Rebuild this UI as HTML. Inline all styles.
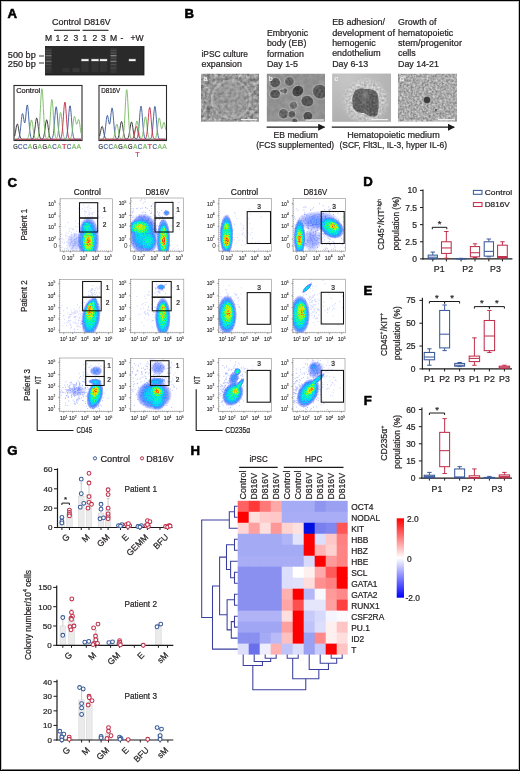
<!DOCTYPE html>
<html><head><meta charset="utf-8"><title>Figure</title>
<style>
html,body{margin:0;padding:0;background:#fff;}
body{width:520px;height:771px;overflow:hidden;position:relative;}
.frame{position:absolute;left:0;top:0;width:520px;height:771px;box-sizing:border-box;border:1px solid #000;pointer-events:none;box-shadow:inset 1px 1px 0 #c4c4c4, inset -1px 0 0 #c4c4c4, inset 0 -1px 0 #7a7a7a;}
svg{position:absolute;left:0;top:0;will-change:transform;}
svg text{font-family:"Liberation Sans", sans-serif;stroke:#231f20;stroke-width:0.22px;}
</style></head><body>
<svg width="520" height="771" viewBox="0 0 520 771">
<defs><filter id="nA" x="0" y="0" width="1" height="1" color-interpolation-filters="sRGB"><feTurbulence type="fractalNoise" baseFrequency="0.28" numOctaves="3" seed="4"/><feColorMatrix type="matrix" values="0.6 0 0 0 0.29  0.6 0 0 0 0.29  0.6 0 0 0 0.29  0 0 0 0 1"/><feComposite operator="in" in2="SourceAlpha"/></filter><filter id="nB" x="0" y="0" width="1" height="1" color-interpolation-filters="sRGB"><feTurbulence type="fractalNoise" baseFrequency="0.2" numOctaves="2" seed="8"/><feColorMatrix type="matrix" values="0.12 0 0 0 0.51  0.12 0 0 0 0.51  0.12 0 0 0 0.51  0 0 0 0 1"/><feComposite operator="in" in2="SourceAlpha"/></filter><filter id="nC" x="0" y="0" width="1" height="1" color-interpolation-filters="sRGB"><feTurbulence type="fractalNoise" baseFrequency="0.45" numOctaves="2" seed="11"/><feColorMatrix type="matrix" values="0.6 0 0 0 0.5  0.6 0 0 0 0.5  0.6 0 0 0 0.5  0 0 0 0 1"/><feComposite operator="in" in2="SourceAlpha"/></filter><filter id="nD" x="0" y="0" width="1" height="1" color-interpolation-filters="sRGB"><feTurbulence type="fractalNoise" baseFrequency="0.45" numOctaves="2" seed="17"/><feColorMatrix type="matrix" values="0.55 0 0 0 0.39  0.55 0 0 0 0.39  0.55 0 0 0 0.39  0 0 0 0 1"/><feComposite operator="in" in2="SourceAlpha"/></filter><filter id="nS" x="0" y="0" width="1" height="1" color-interpolation-filters="sRGB"><feTurbulence type="fractalNoise" baseFrequency="0.5" numOctaves="2" seed="23"/><feColorMatrix type="matrix" values="0.9 0 0 0 0.0  0.9 0 0 0 0.0  0.9 0 0 0 0.0  0 0 0 0 1"/><feComposite operator="in" in2="SourceAlpha"/></filter><filter id="blur1" x="-20%" y="-20%" width="140%" height="140%"><feGaussianBlur stdDeviation="0.7"/></filter><filter id="blur2" x="-30%" y="-30%" width="160%" height="160%"><feGaussianBlur stdDeviation="1.4"/></filter><filter id="blur05" x="-20%" y="-20%" width="140%" height="140%"><feGaussianBlur stdDeviation="0.45"/></filter><marker id="arr" viewBox="0 0 10 10" refX="9" refY="5" markerWidth="7" markerHeight="7" markerUnits="userSpaceOnUse" orient="auto"><path d="M0,0 L10,5 L0,10 z" fill="#1a1a1a"/></marker><clipPath id="clipB0"><rect x="201" y="73.5" width="58.2" height="48.3"/></clipPath><clipPath id="clipB1"><rect x="266.6" y="73.5" width="58.4" height="48.3"/></clipPath><clipPath id="clipB2"><rect x="332.2" y="73.5" width="58.8" height="48.3"/></clipPath><clipPath id="clipB3"><rect x="397.8" y="73.5" width="59.2" height="48.3"/></clipPath><filter id="jet" x="-5%" y="-5%" width="110%" height="110%" color-interpolation-filters="sRGB"><feTurbulence type="fractalNoise" baseFrequency="0.9" numOctaves="1" seed="5" result="nz"/><feColorMatrix in="nz" type="matrix" values="0 0 0 0 0  0 0 0 0 0  0 0 0 0 0  1 0 0 0 0" result="na"/><feComposite in="SourceAlpha" in2="na" operator="arithmetic" k1="1.2" k2="0.4" k3="0" k4="0" result="sp"/><feColorMatrix in="sp" type="matrix" values="0 0 0 1 0  0 0 0 1 0  0 0 0 1 0  0 0 0 1 0"/><feComponentTransfer><feFuncR type="table" tableValues="0.08 0.07 0.05 0 0 0.2 0.6 0.9 1 1 1"/><feFuncG type="table" tableValues="0.18 0.2 0.45 0.8 0.95 1 1 0.9 0.6 0.35 0.15"/><feFuncB type="table" tableValues="1 1 1 1 0.8 0.4 0.1 0 0 0 0"/><feFuncA type="table" tableValues="0 0.42 0.78 0.96 1 1 1 1 1 1 1"/></feComponentTransfer></filter><radialGradient id="gb"><stop offset="0" stop-color="#000" stop-opacity="1"/><stop offset="0.45" stop-color="#000" stop-opacity="0.8"/><stop offset="0.8" stop-color="#000" stop-opacity="0.35"/><stop offset="1" stop-color="#000" stop-opacity="0"/></radialGradient><linearGradient id="cbar" x1="0" y1="0" x2="0" y2="1"><stop offset="0" stop-color="#ff0000"/><stop offset="0.5" stop-color="#ffffff"/><stop offset="1" stop-color="#0000ff"/></linearGradient></defs>
<rect x="0" y="0" width="520" height="771" fill="#fff"/>
<text x="7.60" y="17.90" font-size="13.2" text-anchor="start" fill="#000" font-weight="bold" style="stroke:#000;stroke-width:0.55px">A</text>
<text x="184.60" y="17.60" font-size="13.2" text-anchor="start" fill="#000" font-weight="bold" style="stroke:#000;stroke-width:0.55px">B</text>
<text x="7.40" y="186.60" font-size="13.2" text-anchor="start" fill="#000" font-weight="bold" style="stroke:#000;stroke-width:0.55px">C</text>
<text x="363.20" y="186.00" font-size="13.2" text-anchor="start" fill="#000" font-weight="bold" style="stroke:#000;stroke-width:0.55px">D</text>
<text x="363.40" y="295.20" font-size="13.2" text-anchor="start" fill="#000" font-weight="bold" style="stroke:#000;stroke-width:0.55px">E</text>
<text x="363.80" y="404.90" font-size="13.2" text-anchor="start" fill="#000" font-weight="bold" style="stroke:#000;stroke-width:0.55px">F</text>
<text x="7.20" y="454.50" font-size="13.2" text-anchor="start" fill="#000" font-weight="bold" style="stroke:#000;stroke-width:0.55px">G</text>
<text x="190.60" y="454.70" font-size="13.2" text-anchor="start" fill="#000" font-weight="bold" style="stroke:#000;stroke-width:0.55px">H</text>
<text x="52.00" y="24.50" font-size="8.5" text-anchor="start" fill="#231f20" font-weight="normal" textLength="29" lengthAdjust="spacingAndGlyphs" >Control</text>
<text x="84.00" y="24.50" font-size="8.5" text-anchor="start" fill="#231f20" font-weight="normal" textLength="26.5" lengthAdjust="spacingAndGlyphs" >D816V</text>
<line x1="54.00" y1="30.30" x2="80.00" y2="30.30" stroke="#222" stroke-width="1.1" />
<line x1="82.50" y1="30.30" x2="108.50" y2="30.30" stroke="#222" stroke-width="1.1" />
<text x="48.50" y="40.60" font-size="8.6" text-anchor="middle" fill="#231f20" font-weight="normal" >M</text>
<text x="58.00" y="40.60" font-size="8.6" text-anchor="middle" fill="#231f20" font-weight="normal" >1</text>
<text x="66.00" y="40.60" font-size="8.6" text-anchor="middle" fill="#231f20" font-weight="normal" >2</text>
<text x="76.00" y="40.60" font-size="8.6" text-anchor="middle" fill="#231f20" font-weight="normal" >3</text>
<text x="85.00" y="40.60" font-size="8.6" text-anchor="middle" fill="#231f20" font-weight="normal" >1</text>
<text x="95.00" y="40.60" font-size="8.6" text-anchor="middle" fill="#231f20" font-weight="normal" >2</text>
<text x="103.50" y="40.60" font-size="8.6" text-anchor="middle" fill="#231f20" font-weight="normal" >3</text>
<text x="113.50" y="40.60" font-size="8.6" text-anchor="middle" fill="#231f20" font-weight="normal" >M</text>
<text x="122.00" y="40.60" font-size="8.6" text-anchor="middle" fill="#231f20" font-weight="normal" >-</text>
<text x="137.00" y="40.60" font-size="8.6" text-anchor="middle" fill="#231f20" font-weight="normal" >+W</text>
<rect x="45.50" y="46.50" width="98.50" height="28.50" fill="#2a2a2a" stroke="#151515" stroke-width="0.8" />
<rect x="45.30" y="48.00" width="6.40" height="25.00" fill="#363636" stroke="none" stroke-width="1" />
<g filter="url(#blur05)">
<rect x="45.50" y="49.90" width="6.00" height="1.20" fill="#e0e0e0" stroke="none" stroke-width="1" opacity="0.10"/>
<rect x="45.50" y="52.40" width="6.00" height="1.20" fill="#e0e0e0" stroke="none" stroke-width="1" opacity="0.14"/>
<rect x="45.50" y="55.10" width="6.00" height="1.20" fill="#e0e0e0" stroke="none" stroke-width="1" opacity="0.40"/>
<rect x="45.50" y="57.70" width="6.00" height="1.20" fill="#e0e0e0" stroke="none" stroke-width="1" opacity="0.12"/>
<rect x="45.50" y="60.70" width="6.00" height="1.20" fill="#e0e0e0" stroke="none" stroke-width="1" opacity="0.36"/>
<rect x="45.50" y="63.90" width="6.00" height="1.20" fill="#e0e0e0" stroke="none" stroke-width="1" opacity="0.12"/>
<rect x="45.50" y="67.40" width="6.00" height="1.20" fill="#e0e0e0" stroke="none" stroke-width="1" opacity="0.08"/>
</g>
<rect x="110.30" y="48.00" width="6.40" height="25.00" fill="#363636" stroke="none" stroke-width="1" />
<g filter="url(#blur05)">
<rect x="110.50" y="49.90" width="6.00" height="1.20" fill="#e0e0e0" stroke="none" stroke-width="1" opacity="0.12"/>
<rect x="110.50" y="52.40" width="6.00" height="1.20" fill="#e0e0e0" stroke="none" stroke-width="1" opacity="0.18"/>
<rect x="110.50" y="55.10" width="6.00" height="1.20" fill="#e0e0e0" stroke="none" stroke-width="1" opacity="0.50"/>
<rect x="110.50" y="57.70" width="6.00" height="1.20" fill="#e0e0e0" stroke="none" stroke-width="1" opacity="0.15"/>
<rect x="110.50" y="60.70" width="6.00" height="1.20" fill="#e0e0e0" stroke="none" stroke-width="1" opacity="0.45"/>
<rect x="110.50" y="63.90" width="6.00" height="1.20" fill="#e0e0e0" stroke="none" stroke-width="1" opacity="0.15"/>
<rect x="110.50" y="67.40" width="6.00" height="1.20" fill="#e0e0e0" stroke="none" stroke-width="1" opacity="0.10"/>
</g>
<rect x="62.50" y="68.00" width="7.00" height="4.00" fill="#555" stroke="none" stroke-width="1" opacity="0.25"/>
<rect x="72.50" y="68.00" width="7.00" height="4.00" fill="#555" stroke="none" stroke-width="1" opacity="0.35"/>
<rect x="81.50" y="62.00" width="7.00" height="10.00" fill="#3a3a3a" stroke="none" stroke-width="1" opacity="0.6"/>
<rect x="81.50" y="59.20" width="7.00" height="1.80" fill="#f4f4f4" stroke="none" stroke-width="1" />
<rect x="81.00" y="58.60" width="8.00" height="3.00" fill="#ffffff" stroke="none" stroke-width="1" opacity="0.25"/>
<rect x="91.50" y="62.00" width="7.00" height="10.00" fill="#3a3a3a" stroke="none" stroke-width="1" opacity="0.6"/>
<rect x="91.50" y="59.20" width="7.00" height="1.80" fill="#f4f4f4" stroke="none" stroke-width="1" />
<rect x="91.00" y="58.60" width="8.00" height="3.00" fill="#ffffff" stroke="none" stroke-width="1" opacity="0.25"/>
<rect x="100.00" y="62.00" width="7.00" height="10.00" fill="#3a3a3a" stroke="none" stroke-width="1" opacity="0.6"/>
<rect x="100.00" y="59.20" width="7.00" height="1.80" fill="#f4f4f4" stroke="none" stroke-width="1" />
<rect x="99.50" y="58.60" width="8.00" height="3.00" fill="#ffffff" stroke="none" stroke-width="1" opacity="0.25"/>
<rect x="129.00" y="59.20" width="6.50" height="1.80" fill="#f4f4f4" stroke="none" stroke-width="1" />
<rect x="128.50" y="58.60" width="7.50" height="3.00" fill="#ffffff" stroke="none" stroke-width="1" opacity="0.25"/>
<text x="7.80" y="57.80" font-size="8.2" text-anchor="start" fill="#231f20" font-weight="normal" textLength="28" lengthAdjust="spacingAndGlyphs" >500 bp</text>
<text x="7.80" y="66.50" font-size="8.2" text-anchor="start" fill="#231f20" font-weight="normal" textLength="28" lengthAdjust="spacingAndGlyphs" >250 bp</text>
<line x1="39.00" y1="56.00" x2="44.00" y2="56.00" stroke="#222" stroke-width="0.9" />
<line x1="39.00" y1="63.00" x2="44.00" y2="63.00" stroke="#222" stroke-width="0.9" />
<rect x="14.00" y="85.50" width="68.00" height="55.00" fill="#fff" stroke="#2a2a2a" stroke-width="1.1" />
<path d="M14.6,136.27 L15.0,134.58 L15.4,132.44 L15.8,130.02 L16.2,127.61 L16.6,125.58 L17.0,124.30 L17.4,124.03 L17.8,124.83 L18.2,126.52 L18.6,128.79 L19.0,131.25 L19.4,133.56 L19.8,135.48 L20.2,136.94 L20.6,137.94 L21.0,138.57 L21.4,138.93 L21.8,139.13 L22.2,139.23 L22.6,139.27 L23.0,139.29 L23.4,139.30 L23.8,139.30 L24.2,139.30 L24.6,139.30 L25.0,139.30 L25.4,139.30 L25.8,139.30 L26.2,139.30 L26.6,139.30 L27.0,139.30 L27.4,139.30 L27.8,139.30 L28.2,139.30 L28.6,139.30 L29.0,139.30 L29.4,139.30 L29.8,139.30 L30.2,139.30 L30.6,139.29 L31.0,139.28 L31.4,139.26 L31.8,139.20 L32.2,139.06 L32.6,138.79 L33.0,138.28 L33.4,137.41 L33.8,136.01 L34.2,133.99 L34.6,131.31 L35.0,128.09 L35.4,124.67 L35.8,121.51 L36.2,119.15 L36.6,118.05 L37.0,118.42 L37.4,120.20 L37.8,123.02 L38.2,126.38 L38.6,129.75 L39.0,132.73 L39.4,135.08 L39.8,136.78 L40.2,137.90 L40.6,138.57 L41.0,138.94 L41.4,139.10 L41.8,139.14 L42.2,139.06 L42.6,138.83 L43.0,138.37 L43.4,137.57 L43.8,136.29 L44.2,134.44 L44.6,131.98 L45.0,129.04 L45.4,125.91 L45.8,123.01 L46.2,120.85 L46.6,119.84 L47.0,120.19 L47.4,121.81 L47.8,124.40 L48.2,127.47 L48.6,130.56 L49.0,133.28 L49.4,135.44 L49.8,137.00 L50.2,138.02 L50.6,138.64 L51.0,138.98 L51.4,139.16 L51.8,139.24 L52.2,139.28 L52.6,139.29 L53.0,139.30 L53.4,139.30 L53.8,139.30 L54.2,139.30 L54.6,139.30 L55.0,139.30 L55.4,139.30 L55.8,139.30 L56.2,139.30 L56.6,139.30 L57.0,139.30 L57.4,139.30 L57.8,139.30 L58.2,139.30 L58.6,139.30 L59.0,139.30 L59.4,139.30 L59.8,139.30 L60.2,139.30 L60.6,139.30 L61.0,139.30 L61.4,139.30 L61.8,139.30 L62.2,139.30 L62.6,139.30 L63.0,139.30 L63.4,139.30 L63.8,139.30 L64.2,139.30 L64.6,139.30 L65.0,139.30 L65.4,139.30 L65.8,139.30 L66.2,139.30 L66.6,139.30 L67.0,139.30 L67.4,139.30 L67.8,139.30 L68.2,139.30 L68.6,139.30 L69.0,139.30 L69.4,139.30 L69.8,139.30 L70.2,139.30 L70.6,139.30 L71.0,139.30 L71.4,139.30 L71.8,139.30 L72.2,139.30 L72.6,139.30 L73.0,139.30 L73.4,139.30 L73.8,139.30 L74.2,139.30 L74.6,139.30 L75.0,139.30 L75.4,139.30 L75.8,139.30 L76.2,139.30 L76.6,139.30 L77.0,139.30 L77.4,139.30 L77.8,139.30 L78.2,139.30 L78.6,139.30 L79.0,139.30 L79.4,139.30 L79.8,139.30 L80.2,139.30 L80.6,139.30 L81.0,139.30" stroke="#333333" stroke-width="0.95" fill="none" stroke-linejoin="round"/>
<path d="M14.6,139.30 L15.0,139.30 L15.4,139.30 L15.8,139.30 L16.2,139.30 L16.6,139.29 L17.0,139.27 L17.4,139.22 L17.8,139.11 L18.2,138.88 L18.6,138.43 L19.0,137.62 L19.4,136.27 L19.8,134.23 L20.2,131.40 L20.6,127.82 L21.0,123.77 L21.4,119.72 L21.8,116.30 L22.2,114.10 L22.6,113.50 L23.0,114.52 L23.4,116.75 L23.8,119.46 L24.2,121.78 L24.6,122.90 L25.0,122.33 L25.4,119.97 L25.8,116.22 L26.2,111.87 L26.6,107.93 L27.0,105.39 L27.4,104.95 L27.8,106.80 L28.2,110.63 L28.6,115.73 L29.0,121.25 L29.4,126.43 L29.8,130.75 L30.2,134.01 L30.6,136.25 L31.0,137.66 L31.4,138.48 L31.8,138.92 L32.2,139.13 L32.6,139.23 L33.0,139.27 L33.4,139.29 L33.8,139.30 L34.2,139.30 L34.6,139.30 L35.0,139.30 L35.4,139.30 L35.8,139.30 L36.2,139.30 L36.6,139.30 L37.0,139.30 L37.4,139.30 L37.8,139.30 L38.2,139.30 L38.6,139.30 L39.0,139.30 L39.4,139.30 L39.8,139.30 L40.2,139.30 L40.6,139.30 L41.0,139.30 L41.4,139.30 L41.8,139.30 L42.2,139.30 L42.6,139.30 L43.0,139.30 L43.4,139.30 L43.8,139.30 L44.2,139.30 L44.6,139.30 L45.0,139.30 L45.4,139.30 L45.8,139.30 L46.2,139.30 L46.6,139.30 L47.0,139.30 L47.4,139.30 L47.8,139.30 L48.2,139.30 L48.6,139.30 L49.0,139.30 L49.4,139.30 L49.8,139.30 L50.2,139.29 L50.6,139.27 L51.0,139.22 L51.4,139.11 L51.8,138.86 L52.2,138.37 L52.6,137.48 L53.0,135.96 L53.4,133.61 L53.8,130.26 L54.2,125.94 L54.6,120.90 L55.0,115.70 L55.4,111.11 L55.8,107.94 L56.2,106.80 L56.6,107.94 L57.0,111.11 L57.4,115.70 L57.8,120.90 L58.2,125.94 L58.6,130.26 L59.0,133.61 L59.4,135.96 L59.8,137.48 L60.2,138.37 L60.6,138.86 L61.0,139.11 L61.4,139.22 L61.8,139.27 L62.2,139.29 L62.6,139.30 L63.0,139.30 L63.4,139.30 L63.8,139.29 L64.2,139.28 L64.6,139.25 L65.0,139.17 L65.4,138.99 L65.8,138.63 L66.2,137.94 L66.6,136.72 L67.0,134.74 L67.4,131.80 L67.8,127.80 L68.2,122.90 L68.6,117.50 L69.0,112.32 L69.4,108.19 L69.8,105.90 L70.2,105.90 L70.6,108.19 L71.0,112.32 L71.4,117.50 L71.8,122.90 L72.2,127.80 L72.6,131.80 L73.0,134.74 L73.4,136.72 L73.8,137.94 L74.2,138.63 L74.6,138.99 L75.0,139.17 L75.4,139.25 L75.8,139.28 L76.2,139.29 L76.6,139.30 L77.0,139.30 L77.4,139.30 L77.8,139.30 L78.2,139.30 L78.6,139.30 L79.0,139.30 L79.4,139.30 L79.8,139.30 L80.2,139.30 L80.6,139.30 L81.0,139.30" stroke="#40609f" stroke-width="0.95" fill="none" stroke-linejoin="round"/>
<path d="M14.6,139.30 L15.0,139.30 L15.4,139.30 L15.8,139.30 L16.2,139.30 L16.6,139.30 L17.0,139.30 L17.4,139.30 L17.8,139.30 L18.2,139.30 L18.6,139.30 L19.0,139.30 L19.4,139.30 L19.8,139.30 L20.2,139.30 L20.6,139.30 L21.0,139.30 L21.4,139.30 L21.8,139.30 L22.2,139.30 L22.6,139.30 L23.0,139.30 L23.4,139.30 L23.8,139.30 L24.2,139.30 L24.6,139.30 L25.0,139.30 L25.4,139.30 L25.8,139.29 L26.2,139.26 L26.6,139.21 L27.0,139.09 L27.4,138.84 L27.8,138.38 L28.2,137.58 L28.6,136.32 L29.0,134.49 L29.4,132.06 L29.8,129.15 L30.2,126.04 L30.6,123.18 L31.0,121.04 L31.4,120.04 L31.8,120.38 L32.2,121.99 L32.6,124.55 L33.0,127.59 L33.4,130.65 L33.8,133.34 L34.2,135.48 L34.6,137.02 L35.0,138.03 L35.4,138.64 L35.8,138.97 L36.2,139.12 L36.6,139.14 L37.0,139.03 L37.4,138.73 L37.8,138.09 L38.2,136.88 L38.6,134.79 L39.0,131.48 L39.4,126.66 L39.8,120.27 L40.2,112.63 L40.6,104.47 L41.0,96.95 L41.4,91.34 L41.8,88.71 L42.2,89.60 L42.6,93.83 L43.0,100.55 L43.4,108.55 L43.8,116.57 L44.2,123.65 L44.6,129.27 L45.0,133.31 L45.4,135.96 L45.8,137.56 L46.2,138.44 L46.6,138.85 L47.0,138.95 L47.4,138.80 L47.8,138.33 L48.2,137.39 L48.6,135.75 L49.0,133.14 L49.4,129.35 L49.8,124.33 L50.2,118.31 L50.6,111.89 L51.0,105.97 L51.4,101.56 L51.8,99.49 L52.2,100.19 L52.6,103.52 L53.0,108.81 L53.4,115.10 L53.8,121.41 L54.2,126.98 L54.6,131.39 L55.0,134.56 L55.4,136.61 L55.8,137.78 L56.2,138.28 L56.6,138.24 L57.0,137.67 L57.4,136.50 L57.8,134.59 L58.2,131.84 L58.6,128.28 L59.0,124.13 L59.4,119.84 L59.8,116.05 L60.2,113.44 L60.6,112.50 L61.0,113.44 L61.4,116.05 L61.8,119.84 L62.2,124.13 L62.6,128.28 L63.0,131.85 L63.4,134.61 L63.8,136.55 L64.2,137.80 L64.6,138.53 L65.0,138.94 L65.4,139.14 L65.8,139.23 L66.2,139.27 L66.6,139.29 L67.0,139.30 L67.4,139.30 L67.8,139.30 L68.2,139.30 L68.6,139.29 L69.0,139.27 L69.4,139.21 L69.8,139.09 L70.2,138.85 L70.6,138.39 L71.0,137.57 L71.4,136.24 L71.8,134.27 L72.2,131.59 L72.6,128.29 L73.0,124.67 L73.4,121.17 L73.8,118.34 L74.2,116.68 L74.6,116.43 L75.0,117.51 L75.4,119.47 L75.8,121.67 L76.2,123.44 L76.6,124.27 L77.0,124.01 L77.4,122.85 L77.8,121.28 L78.2,119.94 L78.6,119.39 L79.0,119.98 L79.4,121.72 L79.8,124.36 L80.2,127.46 L80.6,130.55 L81.0,133.28" stroke="#7cbd68" stroke-width="0.95" fill="none" stroke-linejoin="round"/>
<path d="M14.6,139.30 L15.0,139.30 L15.4,139.30 L15.8,139.30 L16.2,139.30 L16.6,139.30 L17.0,139.30 L17.4,139.30 L17.8,139.30 L18.2,139.30 L18.6,139.30 L19.0,139.30 L19.4,139.30 L19.8,139.30 L20.2,139.30 L20.6,139.30 L21.0,139.30 L21.4,139.30 L21.8,139.30 L22.2,139.30 L22.6,139.30 L23.0,139.30 L23.4,139.30 L23.8,139.30 L24.2,139.30 L24.6,139.30 L25.0,139.30 L25.4,139.30 L25.8,139.30 L26.2,139.30 L26.6,139.30 L27.0,139.30 L27.4,139.30 L27.8,139.30 L28.2,139.30 L28.6,139.30 L29.0,139.30 L29.4,139.30 L29.8,139.30 L30.2,139.30 L30.6,139.30 L31.0,139.30 L31.4,139.30 L31.8,139.30 L32.2,139.30 L32.6,139.30 L33.0,139.30 L33.4,139.30 L33.8,139.30 L34.2,139.30 L34.6,139.30 L35.0,139.30 L35.4,139.30 L35.8,139.30 L36.2,139.30 L36.6,139.30 L37.0,139.30 L37.4,139.30 L37.8,139.30 L38.2,139.30 L38.6,139.30 L39.0,139.30 L39.4,139.30 L39.8,139.30 L40.2,139.30 L40.6,139.30 L41.0,139.30 L41.4,139.30 L41.8,139.30 L42.2,139.30 L42.6,139.30 L43.0,139.30 L43.4,139.30 L43.8,139.30 L44.2,139.30 L44.6,139.30 L45.0,139.30 L45.4,139.30 L45.8,139.30 L46.2,139.30 L46.6,139.30 L47.0,139.30 L47.4,139.30 L47.8,139.30 L48.2,139.30 L48.6,139.30 L49.0,139.30 L49.4,139.30 L49.8,139.30 L50.2,139.30 L50.6,139.30 L51.0,139.30 L51.4,139.30 L51.8,139.30 L52.2,139.30 L52.6,139.30 L53.0,139.30 L53.4,139.30 L53.8,139.30 L54.2,139.30 L54.6,139.30 L55.0,139.30 L55.4,139.30 L55.8,139.30 L56.2,139.30 L56.6,139.30 L57.0,139.30 L57.4,139.30 L57.8,139.30 L58.2,139.30 L58.6,139.29 L59.0,139.28 L59.4,139.26 L59.8,139.18 L60.2,139.02 L60.6,138.69 L61.0,138.03 L61.4,136.85 L61.8,134.89 L62.2,131.92 L62.6,127.79 L63.0,122.58 L63.4,116.68 L63.8,110.79 L64.2,105.85 L64.6,102.74 L65.0,102.08 L65.4,104.02 L65.8,108.14 L66.2,113.68 L66.6,119.68 L67.0,125.30 L67.4,130.00 L67.8,133.54 L68.2,135.98 L68.6,137.52 L69.0,138.41 L69.4,138.89 L69.8,139.12 L70.2,139.23 L70.6,139.27 L71.0,139.29 L71.4,139.30 L71.8,139.30 L72.2,139.30 L72.6,139.30 L73.0,139.30 L73.4,139.30 L73.8,139.30 L74.2,139.30 L74.6,139.30 L75.0,139.30 L75.4,139.30 L75.8,139.30 L76.2,139.30 L76.6,139.30 L77.0,139.30 L77.4,139.30 L77.8,139.30 L78.2,139.30 L78.6,139.30 L79.0,139.30 L79.4,139.30 L79.8,139.30 L80.2,139.30 L80.6,139.30 L81.0,139.30" stroke="#c8334e" stroke-width="0.95" fill="none" stroke-linejoin="round"/>
<line x1="14.60" y1="139.60" x2="81.40" y2="139.60" stroke="#c8334e" stroke-width="0.5" opacity="0.6"/>
<text x="16.20" y="93.10" font-size="7" text-anchor="start" fill="#231f20" font-weight="normal" textLength="24" lengthAdjust="spacingAndGlyphs" >Control</text>
<text x="15.44" y="148.50" font-size="7.8" text-anchor="middle" fill="#333333" font-weight="normal" textLength="4.5" lengthAdjust="spacingAndGlyphs" style="stroke:#333333" >G</text>
<text x="20.32" y="148.50" font-size="7.8" text-anchor="middle" fill="#40609f" font-weight="normal" textLength="4.5" lengthAdjust="spacingAndGlyphs" style="stroke:#40609f" >C</text>
<text x="25.20" y="148.50" font-size="7.8" text-anchor="middle" fill="#40609f" font-weight="normal" textLength="4.5" lengthAdjust="spacingAndGlyphs" style="stroke:#40609f" >C</text>
<text x="30.07" y="148.50" font-size="7.8" text-anchor="middle" fill="#7cbd68" font-weight="normal" textLength="4.5" lengthAdjust="spacingAndGlyphs" style="stroke:#7cbd68" >A</text>
<text x="34.95" y="148.50" font-size="7.8" text-anchor="middle" fill="#333333" font-weight="normal" textLength="4.5" lengthAdjust="spacingAndGlyphs" style="stroke:#333333" >G</text>
<text x="39.83" y="148.50" font-size="7.8" text-anchor="middle" fill="#7cbd68" font-weight="normal" textLength="4.5" lengthAdjust="spacingAndGlyphs" style="stroke:#7cbd68" >A</text>
<text x="44.71" y="148.50" font-size="7.8" text-anchor="middle" fill="#333333" font-weight="normal" textLength="4.5" lengthAdjust="spacingAndGlyphs" style="stroke:#333333" >G</text>
<text x="49.59" y="148.50" font-size="7.8" text-anchor="middle" fill="#7cbd68" font-weight="normal" textLength="4.5" lengthAdjust="spacingAndGlyphs" style="stroke:#7cbd68" >A</text>
<text x="54.47" y="148.50" font-size="7.8" text-anchor="middle" fill="#40609f" font-weight="normal" textLength="4.5" lengthAdjust="spacingAndGlyphs" style="stroke:#40609f" >C</text>
<text x="59.35" y="148.50" font-size="7.8" text-anchor="middle" fill="#7cbd68" font-weight="normal" textLength="4.5" lengthAdjust="spacingAndGlyphs" style="stroke:#7cbd68" >A</text>
<text x="64.22" y="148.50" font-size="7.8" text-anchor="middle" fill="#c8334e" font-weight="normal" textLength="4.5" lengthAdjust="spacingAndGlyphs" style="stroke:#c8334e" >T</text>
<text x="69.10" y="148.50" font-size="7.8" text-anchor="middle" fill="#40609f" font-weight="normal" textLength="4.5" lengthAdjust="spacingAndGlyphs" style="stroke:#40609f" >C</text>
<text x="73.98" y="148.50" font-size="7.8" text-anchor="middle" fill="#7cbd68" font-weight="normal" textLength="4.5" lengthAdjust="spacingAndGlyphs" style="stroke:#7cbd68" >A</text>
<text x="78.86" y="148.50" font-size="7.8" text-anchor="middle" fill="#7cbd68" font-weight="normal" textLength="4.5" lengthAdjust="spacingAndGlyphs" style="stroke:#7cbd68" >A</text>
<rect x="99.00" y="85.50" width="67.50" height="55.00" fill="#fff" stroke="#2a2a2a" stroke-width="1.1" />
<path d="M99.6,136.08 L100.0,134.46 L100.4,132.51 L100.8,130.44 L101.2,128.53 L101.6,127.10 L102.0,126.43 L102.4,126.66 L102.8,127.73 L103.2,129.44 L103.6,131.48 L104.0,133.52 L104.4,135.32 L104.8,136.75 L105.2,137.78 L105.6,138.45 L106.0,138.86 L106.4,139.09 L106.8,139.20 L107.2,139.26 L107.6,139.28 L108.0,139.29 L108.4,139.30 L108.8,139.30 L109.2,139.30 L109.6,139.30 L110.0,139.30 L110.4,139.30 L110.8,139.30 L111.2,139.30 L111.6,139.30 L112.0,139.30 L112.4,139.30 L112.8,139.30 L113.2,139.30 L113.6,139.30 L114.0,139.30 L114.4,139.30 L114.8,139.30 L115.2,139.30 L115.6,139.29 L116.0,139.28 L116.4,139.25 L116.8,139.17 L117.2,139.01 L117.6,138.69 L118.0,138.13 L118.4,137.20 L118.8,135.78 L119.2,133.81 L119.6,131.32 L120.0,128.50 L120.4,125.70 L120.8,123.34 L121.2,121.85 L121.6,121.54 L122.0,122.46 L122.4,124.43 L122.8,127.07 L123.2,129.94 L123.6,132.62 L124.0,134.86 L124.4,136.55 L124.8,137.72 L125.2,138.45 L125.6,138.87 L126.0,139.08 L126.4,139.16 L126.8,139.14 L127.2,139.00 L127.6,138.70 L128.0,138.15 L128.4,137.24 L128.8,135.86 L129.2,133.93 L129.6,131.50 L130.0,128.75 L130.4,126.00 L130.8,123.70 L131.2,122.24 L131.6,121.94 L132.0,122.84 L132.4,124.77 L132.8,127.35 L133.2,130.15 L133.6,132.77 L134.0,134.96 L134.4,136.62 L134.8,137.75 L135.2,138.47 L135.6,138.88 L136.0,139.11 L136.4,139.22 L136.8,139.27 L137.2,139.29 L137.6,139.30 L138.0,139.30 L138.4,139.30 L138.8,139.30 L139.2,139.30 L139.6,139.30 L140.0,139.30 L140.4,139.30 L140.8,139.30 L141.2,139.30 L141.6,139.30 L142.0,139.30 L142.4,139.30 L142.8,139.30 L143.2,139.30 L143.6,139.30 L144.0,139.30 L144.4,139.30 L144.8,139.30 L145.2,139.30 L145.6,139.30 L146.0,139.30 L146.4,139.30 L146.8,139.30 L147.2,139.30 L147.6,139.30 L148.0,139.30 L148.4,139.30 L148.8,139.30 L149.2,139.30 L149.6,139.30 L150.0,139.30 L150.4,139.30 L150.8,139.30 L151.2,139.30 L151.6,139.30 L152.0,139.30 L152.4,139.30 L152.8,139.30 L153.2,139.30 L153.6,139.30 L154.0,139.30 L154.4,139.30 L154.8,139.30 L155.2,139.30 L155.6,139.30 L156.0,139.30 L156.4,139.30 L156.8,139.30 L157.2,139.30 L157.6,139.30 L158.0,139.30 L158.4,139.30 L158.8,139.30 L159.2,139.30 L159.6,139.30 L160.0,139.30 L160.4,139.30 L160.8,139.30 L161.2,139.30 L161.6,139.30 L162.0,139.30 L162.4,139.30 L162.8,139.30 L163.2,139.30 L163.6,139.30 L164.0,139.30 L164.4,139.30 L164.8,139.30 L165.2,139.30 L165.6,139.30" stroke="#333333" stroke-width="0.95" fill="none" stroke-linejoin="round"/>
<path d="M99.6,139.30 L100.0,139.30 L100.4,139.30 L100.8,139.30 L101.2,139.29 L101.6,139.28 L102.0,139.25 L102.4,139.19 L102.8,139.04 L103.2,138.73 L103.6,138.16 L104.0,137.18 L104.4,135.63 L104.8,133.37 L105.2,130.37 L105.6,126.78 L106.0,122.94 L106.4,119.40 L106.8,116.73 L107.2,115.40 L107.6,115.62 L108.0,117.21 L108.4,119.62 L108.8,122.08 L109.2,123.80 L109.6,124.15 L110.0,122.84 L110.4,120.02 L110.8,116.24 L111.2,112.35 L111.6,109.30 L112.0,107.89 L112.4,108.55 L112.8,111.20 L113.2,115.37 L113.6,120.31 L114.0,125.27 L114.4,129.64 L114.8,133.11 L115.2,135.60 L115.6,137.24 L116.0,138.23 L116.4,138.79 L116.8,139.07 L117.2,139.20 L117.6,139.26 L118.0,139.29 L118.4,139.30 L118.8,139.30 L119.2,139.30 L119.6,139.30 L120.0,139.30 L120.4,139.30 L120.8,139.30 L121.2,139.30 L121.6,139.30 L122.0,139.30 L122.4,139.30 L122.8,139.30 L123.2,139.30 L123.6,139.30 L124.0,139.30 L124.4,139.30 L124.8,139.30 L125.2,139.30 L125.6,139.30 L126.0,139.30 L126.4,139.30 L126.8,139.30 L127.2,139.30 L127.6,139.30 L128.0,139.30 L128.4,139.30 L128.8,139.30 L129.2,139.30 L129.6,139.30 L130.0,139.30 L130.4,139.30 L130.8,139.30 L131.2,139.30 L131.6,139.30 L132.0,139.30 L132.4,139.30 L132.8,139.30 L133.2,139.30 L133.6,139.30 L134.0,139.30 L134.4,139.30 L134.8,139.29 L135.2,139.28 L135.6,139.25 L136.0,139.17 L136.4,139.00 L136.8,138.64 L137.2,137.95 L137.6,136.75 L138.0,134.79 L138.4,131.89 L138.8,127.94 L139.2,123.09 L139.6,117.76 L140.0,112.64 L140.4,108.56 L140.8,106.29 L141.2,106.29 L141.6,108.56 L142.0,112.64 L142.4,117.76 L142.8,123.09 L143.2,127.94 L143.6,131.89 L144.0,134.79 L144.4,136.75 L144.8,137.95 L145.2,138.64 L145.6,139.00 L146.0,139.17 L146.4,139.25 L146.8,139.28 L147.2,139.29 L147.6,139.30 L148.0,139.30 L148.4,139.30 L148.8,139.29 L149.2,139.28 L149.6,139.24 L150.0,139.14 L150.4,138.93 L150.8,138.51 L151.2,137.72 L151.6,136.37 L152.0,134.21 L152.4,131.07 L152.8,126.91 L153.2,121.94 L153.6,116.63 L154.0,111.74 L154.4,108.08 L154.8,106.37 L155.2,106.95 L155.6,109.70 L156.0,114.08 L156.4,119.28 L156.8,124.51 L157.2,129.11 L157.6,132.77 L158.0,135.40 L158.4,137.13 L158.8,138.18 L159.2,138.76 L159.6,139.06 L160.0,139.20 L160.4,139.26 L160.8,139.29 L161.2,139.30 L161.6,139.30 L162.0,139.30 L162.4,139.30 L162.8,139.30 L163.2,139.30 L163.6,139.30 L164.0,139.30 L164.4,139.30 L164.8,139.30 L165.2,139.30 L165.6,139.30" stroke="#40609f" stroke-width="0.95" fill="none" stroke-linejoin="round"/>
<path d="M99.6,139.30 L100.0,139.30 L100.4,139.30 L100.8,139.30 L101.2,139.30 L101.6,139.30 L102.0,139.30 L102.4,139.30 L102.8,139.30 L103.2,139.30 L103.6,139.30 L104.0,139.30 L104.4,139.30 L104.8,139.30 L105.2,139.30 L105.6,139.30 L106.0,139.30 L106.4,139.30 L106.8,139.30 L107.2,139.30 L107.6,139.30 L108.0,139.30 L108.4,139.30 L108.8,139.30 L109.2,139.30 L109.6,139.30 L110.0,139.30 L110.4,139.30 L110.8,139.29 L111.2,139.29 L111.6,139.26 L112.0,139.21 L112.4,139.09 L112.8,138.86 L113.2,138.44 L113.6,137.73 L114.0,136.62 L114.4,135.05 L114.8,133.01 L115.2,130.64 L115.6,128.19 L116.0,126.03 L116.4,124.53 L116.8,124.00 L117.2,124.53 L117.6,126.03 L118.0,128.19 L118.4,130.64 L118.8,133.01 L119.2,135.05 L119.6,136.62 L120.0,137.73 L120.4,138.43 L120.8,138.84 L121.2,139.03 L121.6,139.05 L122.0,138.89 L122.4,138.47 L122.8,137.60 L123.2,136.03 L123.6,133.41 L124.0,129.44 L124.4,123.93 L124.8,116.97 L125.2,109.09 L125.6,101.24 L126.0,94.64 L126.4,90.49 L126.8,89.61 L127.2,92.19 L127.6,97.70 L128.0,105.09 L128.4,113.10 L128.8,120.61 L129.2,126.88 L129.6,131.62 L130.0,134.87 L130.4,136.92 L130.8,138.11 L131.2,138.73 L131.6,139.02 L132.0,139.11 L132.4,139.06 L132.8,138.85 L133.2,138.42 L133.6,137.67 L134.0,136.48 L134.4,134.74 L134.8,132.43 L135.2,129.67 L135.6,126.73 L136.0,124.01 L136.4,121.99 L136.8,121.04 L137.2,121.36 L137.6,122.89 L138.0,125.31 L138.4,128.20 L138.8,131.09 L139.2,133.65 L139.6,135.67 L140.0,137.10 L140.4,138.01 L140.8,138.47 L141.2,138.55 L141.6,138.25 L142.0,137.51 L142.4,136.22 L142.8,134.26 L143.2,131.59 L143.6,128.30 L144.0,124.68 L144.4,121.20 L144.8,118.44 L145.2,116.90 L145.6,116.90 L146.0,118.44 L146.4,121.20 L146.8,124.68 L147.2,128.30 L147.6,131.59 L148.0,134.27 L148.4,136.24 L148.8,137.57 L149.2,138.39 L149.6,138.85 L150.0,139.09 L150.4,139.21 L150.8,139.27 L151.2,139.29 L151.6,139.30 L152.0,139.30 L152.4,139.30 L152.8,139.30 L153.2,139.29 L153.6,139.28 L154.0,139.25 L154.4,139.17 L154.8,139.01 L155.2,138.69 L155.6,138.10 L156.0,137.11 L156.4,135.57 L156.8,133.38 L157.2,130.54 L157.6,127.24 L158.0,123.83 L158.4,120.81 L158.8,118.70 L159.2,117.90 L159.6,118.52 L160.0,120.34 L160.4,122.88 L160.8,125.50 L161.2,127.58 L161.6,128.68 L162.0,128.62 L162.4,127.54 L162.8,125.83 L163.2,124.03 L163.6,122.70 L164.0,122.27 L164.4,122.94 L164.8,124.62 L165.2,127.02 L165.6,129.73" stroke="#7cbd68" stroke-width="0.95" fill="none" stroke-linejoin="round"/>
<path d="M99.6,139.30 L100.0,139.30 L100.4,139.30 L100.8,139.30 L101.2,139.30 L101.6,139.30 L102.0,139.30 L102.4,139.30 L102.8,139.30 L103.2,139.30 L103.6,139.30 L104.0,139.30 L104.4,139.30 L104.8,139.30 L105.2,139.30 L105.6,139.30 L106.0,139.30 L106.4,139.30 L106.8,139.30 L107.2,139.30 L107.6,139.30 L108.0,139.30 L108.4,139.30 L108.8,139.30 L109.2,139.30 L109.6,139.30 L110.0,139.30 L110.4,139.30 L110.8,139.30 L111.2,139.30 L111.6,139.30 L112.0,139.30 L112.4,139.30 L112.8,139.30 L113.2,139.30 L113.6,139.30 L114.0,139.30 L114.4,139.30 L114.8,139.30 L115.2,139.30 L115.6,139.30 L116.0,139.30 L116.4,139.30 L116.8,139.30 L117.2,139.30 L117.6,139.30 L118.0,139.30 L118.4,139.30 L118.8,139.30 L119.2,139.30 L119.6,139.30 L120.0,139.30 L120.4,139.30 L120.8,139.30 L121.2,139.30 L121.6,139.30 L122.0,139.30 L122.4,139.30 L122.8,139.30 L123.2,139.30 L123.6,139.30 L124.0,139.30 L124.4,139.30 L124.8,139.30 L125.2,139.30 L125.6,139.30 L126.0,139.30 L126.4,139.30 L126.8,139.30 L127.2,139.30 L127.6,139.30 L128.0,139.30 L128.4,139.30 L128.8,139.30 L129.2,139.30 L129.6,139.30 L130.0,139.30 L130.4,139.30 L130.8,139.29 L131.2,139.27 L131.6,139.22 L132.0,139.13 L132.4,138.93 L132.8,138.58 L133.2,137.97 L133.6,137.04 L134.0,135.71 L134.4,134.00 L134.8,132.00 L135.2,129.93 L135.6,128.11 L136.0,126.85 L136.4,126.40 L136.8,126.85 L137.2,128.11 L137.6,129.93 L138.0,132.00 L138.4,134.00 L138.8,135.71 L139.2,137.04 L139.6,137.97 L140.0,138.58 L140.4,138.93 L140.8,139.13 L141.2,139.22 L141.6,139.27 L142.0,139.29 L142.4,139.30 L142.8,139.30 L143.2,139.30 L143.6,139.29 L144.0,139.28 L144.4,139.24 L144.8,139.15 L145.2,138.94 L145.6,138.54 L146.0,137.77 L146.4,136.45 L146.8,134.36 L147.2,131.32 L147.6,127.29 L148.0,122.46 L148.4,117.32 L148.8,112.57 L149.2,109.03 L149.6,107.37 L150.0,107.93 L150.4,110.60 L150.8,114.84 L151.2,119.89 L151.6,124.95 L152.0,129.42 L152.4,132.97 L152.8,135.52 L153.2,137.20 L153.6,138.21 L154.0,138.77 L154.4,139.06 L154.8,139.20 L155.2,139.26 L155.6,139.29 L156.0,139.30 L156.4,139.30 L156.8,139.30 L157.2,139.30 L157.6,139.30 L158.0,139.30 L158.4,139.30 L158.8,139.30 L159.2,139.30 L159.6,139.30 L160.0,139.30 L160.4,139.30 L160.8,139.30 L161.2,139.30 L161.6,139.30 L162.0,139.30 L162.4,139.30 L162.8,139.30 L163.2,139.30 L163.6,139.30 L164.0,139.30 L164.4,139.30 L164.8,139.30 L165.2,139.30 L165.6,139.30" stroke="#c8334e" stroke-width="0.95" fill="none" stroke-linejoin="round"/>
<line x1="99.60" y1="139.60" x2="165.90" y2="139.60" stroke="#c8334e" stroke-width="0.5" opacity="0.6"/>
<text x="101.20" y="93.10" font-size="7" text-anchor="start" fill="#231f20" font-weight="normal" textLength="19" lengthAdjust="spacingAndGlyphs" >D816V</text>
<text x="100.85" y="149.20" font-size="7.8" text-anchor="middle" fill="#333333" font-weight="normal" textLength="4.5" lengthAdjust="spacingAndGlyphs" style="stroke:#333333" >G</text>
<text x="105.75" y="149.20" font-size="7.8" text-anchor="middle" fill="#40609f" font-weight="normal" textLength="4.5" lengthAdjust="spacingAndGlyphs" style="stroke:#40609f" >C</text>
<text x="110.65" y="149.20" font-size="7.8" text-anchor="middle" fill="#40609f" font-weight="normal" textLength="4.5" lengthAdjust="spacingAndGlyphs" style="stroke:#40609f" >C</text>
<text x="115.55" y="149.20" font-size="7.8" text-anchor="middle" fill="#7cbd68" font-weight="normal" textLength="4.5" lengthAdjust="spacingAndGlyphs" style="stroke:#7cbd68" >A</text>
<text x="120.45" y="149.20" font-size="7.8" text-anchor="middle" fill="#333333" font-weight="normal" textLength="4.5" lengthAdjust="spacingAndGlyphs" style="stroke:#333333" >G</text>
<text x="125.35" y="149.20" font-size="7.8" text-anchor="middle" fill="#7cbd68" font-weight="normal" textLength="4.5" lengthAdjust="spacingAndGlyphs" style="stroke:#7cbd68" >A</text>
<text x="130.25" y="149.20" font-size="7.8" text-anchor="middle" fill="#333333" font-weight="normal" textLength="4.5" lengthAdjust="spacingAndGlyphs" style="stroke:#333333" >G</text>
<text x="135.15" y="149.20" font-size="7.8" text-anchor="middle" fill="#7cbd68" font-weight="normal" textLength="4.5" lengthAdjust="spacingAndGlyphs" style="stroke:#7cbd68" >A</text>
<text x="140.05" y="149.20" font-size="7.8" text-anchor="middle" fill="#40609f" font-weight="normal" textLength="4.5" lengthAdjust="spacingAndGlyphs" style="stroke:#40609f" >C</text>
<text x="144.95" y="149.20" font-size="7.8" text-anchor="middle" fill="#7cbd68" font-weight="normal" textLength="4.5" lengthAdjust="spacingAndGlyphs" style="stroke:#7cbd68" >A</text>
<text x="149.85" y="149.20" font-size="7.8" text-anchor="middle" fill="#c8334e" font-weight="normal" textLength="4.5" lengthAdjust="spacingAndGlyphs" style="stroke:#c8334e" >T</text>
<text x="154.75" y="149.20" font-size="7.8" text-anchor="middle" fill="#40609f" font-weight="normal" textLength="4.5" lengthAdjust="spacingAndGlyphs" style="stroke:#40609f" >C</text>
<text x="159.65" y="149.20" font-size="7.8" text-anchor="middle" fill="#7cbd68" font-weight="normal" textLength="4.5" lengthAdjust="spacingAndGlyphs" style="stroke:#7cbd68" >A</text>
<text x="164.55" y="149.20" font-size="7.8" text-anchor="middle" fill="#7cbd68" font-weight="normal" textLength="4.5" lengthAdjust="spacingAndGlyphs" style="stroke:#7cbd68" >A</text>
<text x="137.30" y="157.40" font-size="7.8" text-anchor="middle" fill="#c8334e" font-weight="normal" textLength="4.3" lengthAdjust="spacingAndGlyphs" style="stroke:#c8334e" >T</text>
<text x="201.50" y="56.50" font-size="8.9" text-anchor="start" fill="#231f20" font-weight="normal" textLength="46.5" lengthAdjust="spacingAndGlyphs" >iPSC culture</text>
<text x="201.50" y="67.00" font-size="8.9" text-anchor="start" fill="#231f20" font-weight="normal" >expansion</text>
<text x="266.90" y="35.70" font-size="8.9" text-anchor="start" fill="#231f20" font-weight="normal" textLength="41.1" lengthAdjust="spacingAndGlyphs" >Embryonic</text>
<text x="266.90" y="46.20" font-size="8.9" text-anchor="start" fill="#231f20" font-weight="normal" >body (EB)</text>
<text x="266.90" y="56.50" font-size="8.9" text-anchor="start" fill="#231f20" font-weight="normal" >formation</text>
<text x="266.90" y="66.50" font-size="8.9" text-anchor="start" fill="#231f20" font-weight="normal" >Day 1-5</text>
<text x="332.20" y="25.40" font-size="8.9" text-anchor="start" fill="#231f20" font-weight="normal" >EB adhesion/</text>
<text x="332.20" y="35.70" font-size="8.9" text-anchor="start" fill="#231f20" font-weight="normal" textLength="62.8" lengthAdjust="spacingAndGlyphs" >development of</text>
<text x="332.20" y="46.00" font-size="8.9" text-anchor="start" fill="#231f20" font-weight="normal" >hemogenic</text>
<text x="332.20" y="56.30" font-size="8.9" text-anchor="start" fill="#231f20" font-weight="normal" >endothelium</text>
<text x="332.20" y="66.50" font-size="8.9" text-anchor="start" fill="#231f20" font-weight="normal" >Day 6-13</text>
<text x="398.00" y="25.40" font-size="8.9" text-anchor="start" fill="#231f20" font-weight="normal" >Growth of</text>
<text x="398.00" y="35.70" font-size="8.9" text-anchor="start" fill="#231f20" font-weight="normal" >hematopoietic</text>
<text x="398.00" y="46.00" font-size="8.9" text-anchor="start" fill="#231f20" font-weight="normal" textLength="64" lengthAdjust="spacingAndGlyphs" >stem/progenitor</text>
<text x="398.00" y="56.30" font-size="8.9" text-anchor="start" fill="#231f20" font-weight="normal" >cells</text>
<text x="398.00" y="66.50" font-size="8.9" text-anchor="start" fill="#231f20" font-weight="normal" >Day 14-21</text>
<g clip-path="url(#clipB0)">
<rect x="201.00" y="73.50" width="58.20" height="48.30" fill="#999" stroke="none" stroke-width="1" filter="url(#nA)"/>
<circle cx="231.00" cy="99.40" r="17.50" fill="#9c9c9c" stroke="none" stroke-width="1" opacity="0.45" filter="url(#blur2)"/>
<circle cx="231.00" cy="99.40" r="19.00" fill="none" stroke="#c4c4c4" stroke-width="2.0" opacity="0.5" filter="url(#blur1)"/>
<circle cx="231.00" cy="99.40" r="21.50" fill="none" stroke="#7a7a7a" stroke-width="1.6" opacity="0.35" filter="url(#blur1)"/>
<rect x="241.00" y="119.00" width="16.00" height="1.20" fill="#eee" stroke="none" stroke-width="1" />
<text x="203.50" y="81.00" font-size="7" text-anchor="start" fill="#f0f0f0" font-weight="normal" style="stroke:#f0f0f0" >a</text>
</g>
<g clip-path="url(#clipB1)">
<rect x="266.60" y="73.50" width="58.40" height="48.30" fill="#929292" stroke="none" stroke-width="1" filter="url(#nB)"/>
<ellipse cx="275.1" cy="82.7" rx="5.05" ry="5.35" transform="rotate(67 275.1 82.7)" fill="none" stroke="#d0d0d0" stroke-width="0.9" opacity="0.75" filter="url(#blur05)"/>
<ellipse cx="275.1" cy="82.7" rx="4.45" ry="4.75" transform="rotate(67 275.1 82.7)" fill="#4a4a4a" filter="url(#blur05)"/>
<ellipse cx="275.1" cy="82.7" rx="4.01" ry="4.27" transform="rotate(67 275.1 82.7)" fill="#000" opacity="0.35" filter="url(#nS)"/>
<ellipse cx="289.4" cy="81.5" rx="4.80" ry="4.82" transform="rotate(12 289.4 81.5)" fill="none" stroke="#d0d0d0" stroke-width="0.9" opacity="0.75" filter="url(#blur05)"/>
<ellipse cx="289.4" cy="81.5" rx="4.20" ry="4.22" transform="rotate(12 289.4 81.5)" fill="#5a5a5a" filter="url(#blur05)"/>
<ellipse cx="289.4" cy="81.5" rx="3.78" ry="3.80" transform="rotate(12 289.4 81.5)" fill="#000" opacity="0.35" filter="url(#nS)"/>
<ellipse cx="297.8" cy="91.1" rx="5.37" ry="6.26" transform="rotate(47 297.8 91.1)" fill="none" stroke="#d0d0d0" stroke-width="0.9" opacity="0.75" filter="url(#blur05)"/>
<ellipse cx="297.8" cy="91.1" rx="4.77" ry="5.66" transform="rotate(47 297.8 91.1)" fill="#262626" filter="url(#blur05)"/>
<ellipse cx="297.8" cy="91.1" rx="4.29" ry="5.09" transform="rotate(47 297.8 91.1)" fill="#000" opacity="0.35" filter="url(#nS)"/>
<ellipse cx="275.1" cy="94" rx="4.77" ry="5.46" transform="rotate(85 275.1 94)" fill="none" stroke="#d0d0d0" stroke-width="0.9" opacity="0.75" filter="url(#blur05)"/>
<ellipse cx="275.1" cy="94" rx="4.17" ry="4.86" transform="rotate(85 275.1 94)" fill="#4a4a4a" filter="url(#blur05)"/>
<ellipse cx="275.1" cy="94" rx="3.75" ry="4.37" transform="rotate(85 275.1 94)" fill="#000" opacity="0.35" filter="url(#nS)"/>
<ellipse cx="284.7" cy="91" rx="3.11" ry="2.94" transform="rotate(115 284.7 91)" fill="none" stroke="#d0d0d0" stroke-width="0.9" opacity="0.75" filter="url(#blur05)"/>
<ellipse cx="284.7" cy="91" rx="2.51" ry="2.34" transform="rotate(115 284.7 91)" fill="#555" filter="url(#blur05)"/>
<ellipse cx="284.7" cy="91" rx="2.26" ry="2.11" transform="rotate(115 284.7 91)" fill="#000" opacity="0.35" filter="url(#nS)"/>
<ellipse cx="281.7" cy="90.8" rx="1.87" ry="2.01" transform="rotate(156 281.7 90.8)" fill="none" stroke="#d0d0d0" stroke-width="0.9" opacity="0.75" filter="url(#blur05)"/>
<ellipse cx="281.7" cy="90.8" rx="1.27" ry="1.41" transform="rotate(156 281.7 90.8)" fill="#555" filter="url(#blur05)"/>
<ellipse cx="281.7" cy="90.8" rx="1.15" ry="1.27" transform="rotate(156 281.7 90.8)" fill="#000" opacity="0.35" filter="url(#nS)"/>
<ellipse cx="320" cy="91.7" rx="7.30" ry="7.59" transform="rotate(121 320 91.7)" fill="none" stroke="#d0d0d0" stroke-width="0.9" opacity="0.75" filter="url(#blur05)"/>
<ellipse cx="320" cy="91.7" rx="6.70" ry="6.99" transform="rotate(121 320 91.7)" fill="#4d4d4d" filter="url(#blur05)"/>
<ellipse cx="320" cy="91.7" rx="6.03" ry="6.29" transform="rotate(121 320 91.7)" fill="#000" opacity="0.35" filter="url(#nS)"/>
<ellipse cx="307.3" cy="101.2" rx="5.69" ry="6.48" transform="rotate(106 307.3 101.2)" fill="none" stroke="#d0d0d0" stroke-width="0.9" opacity="0.75" filter="url(#blur05)"/>
<ellipse cx="307.3" cy="101.2" rx="5.09" ry="5.88" transform="rotate(106 307.3 101.2)" fill="#444" filter="url(#blur05)"/>
<ellipse cx="307.3" cy="101.2" rx="4.58" ry="5.29" transform="rotate(106 307.3 101.2)" fill="#000" opacity="0.35" filter="url(#nS)"/>
<ellipse cx="293.4" cy="105.4" rx="4.17" ry="3.97" transform="rotate(156 293.4 105.4)" fill="none" stroke="#d0d0d0" stroke-width="0.9" opacity="0.75" filter="url(#blur05)"/>
<ellipse cx="293.4" cy="105.4" rx="3.57" ry="3.37" transform="rotate(156 293.4 105.4)" fill="#6a6a6a" filter="url(#blur05)"/>
<ellipse cx="293.4" cy="105.4" rx="3.22" ry="3.03" transform="rotate(156 293.4 105.4)" fill="#000" opacity="0.35" filter="url(#nS)"/>
<ellipse cx="283.5" cy="113.7" rx="4.99" ry="5.21" transform="rotate(158 283.5 113.7)" fill="none" stroke="#d0d0d0" stroke-width="0.9" opacity="0.75" filter="url(#blur05)"/>
<ellipse cx="283.5" cy="113.7" rx="4.39" ry="4.61" transform="rotate(158 283.5 113.7)" fill="#5a5a5a" filter="url(#blur05)"/>
<ellipse cx="283.5" cy="113.7" rx="3.95" ry="4.15" transform="rotate(158 283.5 113.7)" fill="#000" opacity="0.35" filter="url(#nS)"/>
<ellipse cx="291.8" cy="114.3" rx="3.67" ry="3.79" transform="rotate(71 291.8 114.3)" fill="none" stroke="#d0d0d0" stroke-width="0.9" opacity="0.75" filter="url(#blur05)"/>
<ellipse cx="291.8" cy="114.3" rx="3.07" ry="3.19" transform="rotate(71 291.8 114.3)" fill="#4a4a4a" filter="url(#blur05)"/>
<ellipse cx="291.8" cy="114.3" rx="2.76" ry="2.87" transform="rotate(71 291.8 114.3)" fill="#000" opacity="0.35" filter="url(#nS)"/>
<ellipse cx="307.9" cy="116.1" rx="4.97" ry="4.67" transform="rotate(168 307.9 116.1)" fill="none" stroke="#d0d0d0" stroke-width="0.9" opacity="0.75" filter="url(#blur05)"/>
<ellipse cx="307.9" cy="116.1" rx="4.37" ry="4.07" transform="rotate(168 307.9 116.1)" fill="#3a3a3a" filter="url(#blur05)"/>
<ellipse cx="307.9" cy="116.1" rx="3.93" ry="3.66" transform="rotate(168 307.9 116.1)" fill="#000" opacity="0.35" filter="url(#nS)"/>
<ellipse cx="294.8" cy="120.9" rx="3.13" ry="2.76" transform="rotate(24 294.8 120.9)" fill="none" stroke="#d0d0d0" stroke-width="0.9" opacity="0.75" filter="url(#blur05)"/>
<ellipse cx="294.8" cy="120.9" rx="2.53" ry="2.16" transform="rotate(24 294.8 120.9)" fill="#444" filter="url(#blur05)"/>
<ellipse cx="294.8" cy="120.9" rx="2.28" ry="1.94" transform="rotate(24 294.8 120.9)" fill="#000" opacity="0.35" filter="url(#nS)"/>
<rect x="305.50" y="119.40" width="18.50" height="1.20" fill="#f4f4f4" stroke="none" stroke-width="1" />
<text x="268.80" y="81.00" font-size="7" text-anchor="start" fill="#f0f0f0" font-weight="normal" style="stroke:#f0f0f0" >b</text>
</g>
<g clip-path="url(#clipB2)">
<rect x="332.20" y="73.50" width="58.80" height="48.30" fill="#b8b8b8" stroke="none" stroke-width="1" />
<defs><radialGradient id="gC" cx="0.25" cy="0.1" r="1"><stop offset="0" stop-color="#c6c6c6"/><stop offset="1" stop-color="#adadad"/></radialGradient></defs>
<rect x="332.20" y="73.50" width="58.80" height="48.30" fill="url(#gC)" stroke="none" stroke-width="1" />
<defs><radialGradient id="halo"><stop offset="0" stop-color="#000" stop-opacity="1"/><stop offset="0.7" stop-color="#000" stop-opacity="0.8"/><stop offset="1" stop-color="#000" stop-opacity="0"/></radialGradient></defs>
<g opacity="0.85">
<circle cx="365.60" cy="101.00" r="25.00" fill="url(#halo)" stroke="none" stroke-width="1" filter="url(#nC)"/>
</g>
<g filter="url(#blur1)">
<path d="M354,93 C356,88 362,88 366,89 C372,89 377,90 378,96 C379,103 379,110 377,115 C374,118 368,116 364,113 C360,113 355,112 353,107 C352,101 352,97 354,93 Z" stroke="none" stroke-width="1" fill="#606060" />
<path d="M355,95 C357,91 362,91 364,93 C365,100 365,108 362,112 C358,112 354,110 354,104 C354,100 354,97 355,95 Z" stroke="none" stroke-width="1" fill="#565656" />
<path d="M367,94 C372,92 376,95 377,101 C377,108 377,113 374,115 C370,115 367,112 366,106 C366,101 366,97 367,94 Z" stroke="none" stroke-width="1" fill="#525252" />
</g>
<path d="M354,93 C356,88 362,88 366,89 C372,89 377,90 378,96 C379,103 379,110 377,115 C374,118 368,116 364,113 C360,113 355,112 353,107 C352,101 352,97 354,93 Z" stroke="none" stroke-width="1" fill="#000" opacity="0.3" filter="url(#nS)"/>
<g filter="url(#blur2)">
<circle cx="365.00" cy="95.00" r="3.20" fill="#8c8c8c" stroke="none" stroke-width="1" opacity="0.8"/>
<circle cx="364.00" cy="102.00" r="2.00" fill="#8c8c8c" stroke="none" stroke-width="1" opacity="0.7"/>
</g>
<rect x="371.00" y="119.00" width="17.00" height="1.20" fill="#eee" stroke="none" stroke-width="1" />
<text x="334.40" y="81.00" font-size="7" text-anchor="start" fill="#f0f0f0" font-weight="normal" style="stroke:#f0f0f0" >c</text>
</g>
<g clip-path="url(#clipB3)">
<rect x="397.80" y="73.50" width="59.20" height="48.30" fill="#aaa" stroke="none" stroke-width="1" filter="url(#nD)"/>
<circle cx="427.00" cy="100.00" r="3.80" fill="#3a3a3a" stroke="#cfcfcf" stroke-width="0.6" filter="url(#blur05)"/>
<circle cx="436.00" cy="109.90" r="0.90" fill="#333" stroke="none" stroke-width="1" />
<rect x="438.00" y="119.00" width="17.00" height="1.20" fill="#eee" stroke="none" stroke-width="1" />
<text x="400.00" y="81.00" font-size="7" text-anchor="start" fill="#f0f0f0" font-weight="normal" style="stroke:#f0f0f0" >d</text>
</g>
<line x1="266.60" y1="127.20" x2="324.50" y2="127.20" stroke="#1a1a1a" stroke-width="1.3" marker-end="url(#arr)"/>
<line x1="331.80" y1="127.20" x2="454.20" y2="127.20" stroke="#1a1a1a" stroke-width="1.3" marker-end="url(#arr)"/>
<text x="273.50" y="137.70" font-size="8.9" text-anchor="start" fill="#231f20" font-weight="normal" textLength="44.5" lengthAdjust="spacingAndGlyphs" >EB medium</text>
<text x="256.20" y="148.00" font-size="8.9" text-anchor="start" fill="#231f20" font-weight="normal" textLength="78" lengthAdjust="spacingAndGlyphs" >(FCS supplemented)</text>
<text x="347.20" y="137.70" font-size="8.9" text-anchor="start" fill="#231f20" font-weight="normal" textLength="92.5" lengthAdjust="spacingAndGlyphs" >Hematopoietic medium</text>
<text x="339.50" y="148.00" font-size="8.9" text-anchor="start" fill="#231f20" font-weight="normal" textLength="107.5" lengthAdjust="spacingAndGlyphs" >(SCF, Flt3L, IL-3, hyper IL-6)</text>
<text x="73.80" y="195.20" font-size="8.6" text-anchor="start" fill="#231f20" font-weight="normal" textLength="27" lengthAdjust="spacingAndGlyphs" >Control</text>
<text x="145.40" y="195.20" font-size="8.6" text-anchor="start" fill="#231f20" font-weight="normal" textLength="23.8" lengthAdjust="spacingAndGlyphs" >D816V</text>
<text x="230.80" y="195.20" font-size="8.6" text-anchor="start" fill="#231f20" font-weight="normal" textLength="27.4" lengthAdjust="spacingAndGlyphs" >Control</text>
<text x="303.50" y="195.20" font-size="8.6" text-anchor="start" fill="#231f20" font-weight="normal" textLength="23.8" lengthAdjust="spacingAndGlyphs" >D816V</text>
<text x="0" y="0" font-size="9.2" text-anchor="middle" fill="#231f20" transform="translate(27.4 224.7) rotate(-90)" textLength="31.8" lengthAdjust="spacingAndGlyphs">Patient 1</text>
<text x="0" y="0" font-size="9.2" text-anchor="middle" fill="#231f20" transform="translate(27.4 296.2) rotate(-90)" textLength="31.8" lengthAdjust="spacingAndGlyphs">Patient 2</text>
<text x="0" y="0" font-size="9.2" text-anchor="middle" fill="#231f20" transform="translate(29.9 385) rotate(-90)" textLength="31.8" lengthAdjust="spacingAndGlyphs">Patient 3</text>
<path d="M37.2,389.2 L37.2,430.5 L73.5,430.5" stroke="#1a1a1a" stroke-width="1.1" fill="none" />
<path d="M196.2,389.2 L196.2,430.5 L222.7,430.5" stroke="#1a1a1a" stroke-width="1.1" fill="none" />
<text x="76.60" y="432.60" font-size="8.4" text-anchor="start" fill="#231f20" font-weight="normal" textLength="15.4" lengthAdjust="spacingAndGlyphs" >CD45</text>
<text x="225.30" y="432.60" font-size="8.4" text-anchor="start" fill="#231f20" font-weight="normal" textLength="25" lengthAdjust="spacingAndGlyphs" >CD235&#945;</text>
<text x="0" y="0" font-size="8.4" text-anchor="middle" fill="#231f20" transform="translate(41.3 380.3) rotate(-90)" textLength="8.6" lengthAdjust="spacingAndGlyphs">KIT</text>
<text x="0" y="0" font-size="8.4" text-anchor="middle" fill="#231f20" transform="translate(199.9 380.3) rotate(-90)" textLength="8.6" lengthAdjust="spacingAndGlyphs">KIT</text>
<clipPath id="cp60_198"><rect x="60" y="198.8" width="52.3" height="52.39999999999998"/></clipPath>
<g clip-path="url(#cp60_198)">
<path d="M70.2 244.6h.8M70.4 237.2h.8M65.5 238.1h.8M79.8 243.8h.8M79.3 242.2h.8M74.8 241.7h.8M60.3 247.7h.8M75.5 244.5h.8M60.2 224.3h.8M65.8 235.8h.8M74.1 239.6h.8M75.6 234.2h.8M74.2 243.5h.8M75.9 250.8h.8M67.7 233.3h.8M69.6 239.0h.8M76.4 242.2h.8M68.9 231.4h.8M68.4 251.0h.8M66.3 242.2h.8M75.0 226.6h.8M71.3 232.6h.8M75.5 239.4h.8M61.7 247.5h.8M76.7 248.5h.8M82.1 243.3h.8M72.8 228.3h.8M76.3 234.5h.8M68.8 228.6h.8M65.2 235.2h.8M81.0 221.7h.8M61.8 242.2h.8M82.1 245.2h.8M74.5 233.4h.8M64.2 248.8h.8M79.7 241.4h.8M73.7 243.9h.8M83.2 245.6h.8M75.6 244.9h.8M78.7 244.8h.8M77.9 223.7h.8M70.7 249.2h.8M75.9 238.6h.8M74.3 245.8h.8M72.8 250.3h.8M67.4 236.3h.8M79.3 240.2h.8M65.8 248.5h.8M82.3 236.0h.8M62.3 238.8h.8M71.0 237.3h.8M81.8 230.8h.8M80.8 228.6h.8M66.5 245.7h.8M79.9 247.7h.8M74.4 241.3h.8M73.1 245.2h.8M70.8 242.5h.8M76.0 240.0h.8M77.3 245.1h.8M86.1 242.9h.8M69.0 236.6h.8M71.9 248.3h.8M69.6 243.5h.8M84.9 216.9h.8M64.1 242.2h.8M74.8 242.1h.8M69.0 245.9h.8M74.0 235.3h.8M89.0 243.2h.8M68.1 239.1h.8M70.4 239.4h.8M79.1 229.5h.8M71.5 248.6h.8M60.1 236.8h.8M69.6 245.6h.8M79.6 215.9h.8M79.6 227.0h.8M76.8 226.6h.8M73.2 250.8h.8M71.0 241.7h.8M77.6 241.3h.8M79.3 237.4h.8M91.2 229.7h.8M78.4 237.6h.8M72.9 246.3h.8M73.6 245.7h.8M61.3 226.4h.8M76.3 231.3h.8M64.8 226.8h.8M80.9 246.7h.8M82.3 231.6h.8M72.0 229.7h.8M78.9 238.4h.8M71.3 234.6h.8M74.8 243.7h.8M82.5 230.8h.8M82.2 238.4h.8M66.8 249.2h.8M72.8 241.1h.8M82.0 237.6h.8M74.2 234.5h.8M71.9 247.5h.8M71.6 249.4h.8M67.3 247.9h.8M63.4 239.9h.8M70.7 239.7h.8M67.9 242.1h.8M84.5 240.4h.8M75.7 249.0h.8M70.6 228.7h.8M68.1 249.7h.8M60.5 234.6h.8M79.1 247.1h.8M72.1 247.2h.8M73.2 229.4h.8M61.1 234.2h.8M78.5 234.9h.8M65.7 233.1h.8M61.3 238.9h.8M63.7 243.3h.8M67.5 222.5h.8M77.1 237.5h.8M74.0 235.9h.8M77.5 246.7h.8M76.7 242.9h.8M81.3 245.9h.8M75.2 221.2h.8" stroke="#7a8cff" stroke-width="0.8" opacity="0.55"/>
<path d="M93.5 218.5h.8M87.5 209.7h.8M98.7 203.2h.8M91.3 224.1h.8M84.4 215.4h.8M98.4 211.4h.8M91.8 216.5h.8M84.5 211.6h.8M90.5 216.1h.8M88.8 211.0h.8M83.9 210.2h.8M93.5 212.5h.8M84.7 207.8h.8M102.3 217.7h.8M92.2 199.0h.8M92.1 214.4h.8M97.4 214.1h.8M88.7 214.6h.8M79.3 217.2h.8M90.6 208.5h.8M95.6 221.0h.8M82.0 208.7h.8M90.5 212.9h.8M87.0 207.1h.8M99.6 217.2h.8M83.0 205.3h.8M97.5 216.9h.8M98.1 216.1h.8M84.6 213.3h.8M78.2 208.3h.8M88.7 214.6h.8M85.4 211.4h.8M91.3 213.9h.8M92.2 213.0h.8M87.4 215.9h.8M89.2 207.9h.8M85.9 212.0h.8M88.5 212.8h.8M89.0 212.9h.8M88.3 205.7h.8" stroke="#7a8cff" stroke-width="0.8" opacity="0.55"/>
<g filter="url(#jet)">
<ellipse cx="88.5" cy="240" rx="11" ry="24" fill="url(#gb)" opacity="0.40" transform="rotate(0 88.5 240)"/>
<ellipse cx="86.5" cy="226" rx="5" ry="5" fill="url(#gb)" opacity="0.24" transform="rotate(0 86.5 226)"/>
<ellipse cx="88.5" cy="242" rx="6" ry="12" fill="url(#gb)" opacity="0.54" transform="rotate(0 88.5 242)"/>
<ellipse cx="88.5" cy="241" rx="2.6" ry="5" fill="url(#gb)" opacity="0.48" transform="rotate(0 88.5 241)"/>
<ellipse cx="75" cy="242" rx="9" ry="10" fill="url(#gb)" opacity="0.07" transform="rotate(0 75 242)"/>
</g></g>
<rect x="60.00" y="198.80" width="52.30" height="52.40" fill="none" stroke="#8c8c8c" stroke-width="0.6" />
<line x1="63.66" y1="251.20" x2="63.66" y2="252.50" stroke="#444" stroke-width="0.5" />
<line x1="70.46" y1="251.20" x2="70.46" y2="252.50" stroke="#444" stroke-width="0.5" />
<line x1="83.53" y1="251.20" x2="83.53" y2="252.50" stroke="#444" stroke-width="0.5" />
<line x1="95.56" y1="251.20" x2="95.56" y2="252.50" stroke="#444" stroke-width="0.5" />
<line x1="108.12" y1="251.20" x2="108.12" y2="252.50" stroke="#444" stroke-width="0.5" />
<line x1="58.70" y1="204.04" x2="60.00" y2="204.04" stroke="#444" stroke-width="0.5" />
<line x1="58.70" y1="216.09" x2="60.00" y2="216.09" stroke="#444" stroke-width="0.5" />
<line x1="58.70" y1="226.57" x2="60.00" y2="226.57" stroke="#444" stroke-width="0.5" />
<line x1="58.70" y1="239.15" x2="60.00" y2="239.15" stroke="#444" stroke-width="0.5" />
<line x1="58.70" y1="245.96" x2="60.00" y2="245.96" stroke="#444" stroke-width="0.5" />
<line x1="60" y1="250.7" x2="112.3" y2="250.7" stroke="#666" stroke-width="0.7" stroke-dasharray="0.5 1.6"/>
<line x1="60.5" y1="198.8" x2="60.5" y2="251.2" stroke="#666" stroke-width="0.7" stroke-dasharray="0.5 1.6"/>
<text x="63.66" y="259.80" font-size="6.4" text-anchor="middle" fill="#231f20" font-weight="normal" style="stroke-width:0">0</text>
<text x="70.46" y="259.80" font-size="6.2" text-anchor="middle" fill="#231f20" style="stroke-width:0.12" textLength="7.6" lengthAdjust="spacingAndGlyphs">10<tspan font-size="3.84" dy="-2.60">2</tspan></text>
<text x="83.53" y="259.80" font-size="6.2" text-anchor="middle" fill="#231f20" style="stroke-width:0.12" textLength="7.6" lengthAdjust="spacingAndGlyphs">10<tspan font-size="3.84" dy="-2.60">3</tspan></text>
<text x="95.56" y="259.80" font-size="6.2" text-anchor="middle" fill="#231f20" style="stroke-width:0.12" textLength="7.6" lengthAdjust="spacingAndGlyphs">10<tspan font-size="3.84" dy="-2.60">4</tspan></text>
<text x="108.12" y="259.80" font-size="6.2" text-anchor="middle" fill="#231f20" style="stroke-width:0.12" textLength="7.6" lengthAdjust="spacingAndGlyphs">10<tspan font-size="3.84" dy="-2.60">5</tspan></text>
<text x="55.80" y="206.04" font-size="6.2" text-anchor="end" fill="#231f20" style="stroke-width:0.12" textLength="7.6" lengthAdjust="spacingAndGlyphs">10<tspan font-size="3.84" dy="-2.60">5</tspan></text>
<text x="55.80" y="218.09" font-size="6.2" text-anchor="end" fill="#231f20" style="stroke-width:0.12" textLength="7.6" lengthAdjust="spacingAndGlyphs">10<tspan font-size="3.84" dy="-2.60">4</tspan></text>
<text x="55.80" y="228.57" font-size="6.2" text-anchor="end" fill="#231f20" style="stroke-width:0.12" textLength="7.6" lengthAdjust="spacingAndGlyphs">10<tspan font-size="3.84" dy="-2.60">3</tspan></text>
<text x="55.80" y="241.15" font-size="6.2" text-anchor="end" fill="#231f20" style="stroke-width:0.12" textLength="7.6" lengthAdjust="spacingAndGlyphs">10<tspan font-size="3.84" dy="-2.60">2</tspan></text>
<text x="57.00" y="247.96" font-size="6.4" text-anchor="end" fill="#231f20" font-weight="normal" style="stroke-width:0">0</text>
<rect x="79.50" y="202.70" width="18.20" height="15.30" fill="none" stroke="#111" stroke-width="1.05" />
<rect x="79.50" y="218.00" width="18.20" height="14.00" fill="none" stroke="#111" stroke-width="1.05" />
<text x="104.50" y="211.50" font-size="6.6" text-anchor="middle" fill="#231f20" font-weight="normal" >1</text>
<text x="104.50" y="226.50" font-size="6.6" text-anchor="middle" fill="#231f20" font-weight="normal" >2</text>
<clipPath id="cp130_198"><rect x="130.5" y="198" width="53.0" height="53.19999999999999"/></clipPath>
<g clip-path="url(#cp130_198)">
<path d="M150.1 237.6h.8M150.2 222.7h.8M150.4 213.4h.8M133.8 233.9h.8M132.5 243.9h.8M140.4 208.6h.8M135.8 231.3h.8M151.0 227.1h.8M162.8 233.5h.8M144.7 232.2h.8M164.9 236.7h.8M157.3 212.0h.8M143.2 233.8h.8M141.4 237.8h.8M152.2 235.9h.8M159.9 222.4h.8M140.9 235.5h.8M156.8 225.1h.8M131.0 227.3h.8M149.3 238.6h.8M154.4 225.3h.8M155.2 231.5h.8M147.5 225.7h.8M142.1 233.2h.8M132.3 217.5h.8M145.1 207.4h.8M139.8 200.9h.8M136.8 231.8h.8M151.8 224.3h.8M142.2 208.0h.8M166.9 231.2h.8M158.1 214.4h.8M142.8 203.2h.8M154.4 236.2h.8M152.6 203.9h.8M137.4 208.2h.8M145.4 228.0h.8M152.6 233.4h.8M163.0 239.0h.8M132.3 212.1h.8M144.0 225.1h.8M150.9 206.0h.8M142.6 221.3h.8M144.2 215.9h.8M153.4 229.3h.8M143.9 216.9h.8M133.2 225.4h.8M146.8 208.5h.8M142.0 221.2h.8M150.5 232.3h.8M144.6 214.8h.8M143.3 224.2h.8M153.8 228.5h.8M136.3 208.7h.8M140.5 216.1h.8M131.7 223.6h.8M139.1 226.3h.8M151.3 220.0h.8M172.9 221.1h.8M158.2 226.5h.8M136.0 228.0h.8M148.9 240.4h.8M154.2 236.4h.8M151.1 223.1h.8M151.1 212.1h.8M159.2 212.8h.8M148.0 250.4h.8M142.3 225.2h.8M159.0 225.3h.8M135.3 228.1h.8M152.0 233.5h.8M135.7 246.0h.8M165.0 225.2h.8M148.2 219.9h.8M162.0 216.5h.8M153.1 219.2h.8M136.7 233.6h.8M161.0 224.9h.8M136.9 234.7h.8M144.4 228.7h.8M163.3 238.6h.8M145.0 234.4h.8M137.2 224.5h.8M161.4 210.4h.8M159.1 219.5h.8M144.3 221.2h.8M143.5 211.9h.8M145.3 207.7h.8M144.1 228.7h.8M150.6 222.2h.8M134.2 226.9h.8M139.2 243.8h.8M154.2 223.6h.8M139.3 216.6h.8M133.8 220.8h.8M148.5 231.2h.8M151.8 250.2h.8M136.5 225.2h.8M178.5 202.6h.8M138.7 227.0h.8M146.9 229.9h.8M142.1 229.4h.8M145.6 234.3h.8M145.0 212.6h.8M132.5 232.5h.8M137.2 232.6h.8M153.9 228.7h.8M151.1 223.7h.8M150.5 218.6h.8M143.8 234.0h.8M134.5 232.7h.8M167.4 218.3h.8M146.8 223.2h.8M163.5 228.8h.8M155.8 216.7h.8M144.8 224.9h.8M155.8 204.0h.8M153.9 223.4h.8M150.4 229.4h.8M162.9 218.1h.8M132.7 208.7h.8M165.3 230.2h.8M138.8 216.9h.8M151.3 231.6h.8M132.8 211.0h.8M148.5 228.0h.8M138.5 230.5h.8M143.6 224.0h.8M140.8 237.6h.8M161.7 220.6h.8M155.2 215.9h.8M145.9 234.0h.8M163.2 220.4h.8M144.1 227.4h.8M136.9 229.5h.8M131.4 201.3h.8M145.5 228.1h.8M138.4 235.7h.8M141.7 217.7h.8M150.7 206.2h.8M136.9 224.8h.8M155.2 223.0h.8M148.7 217.1h.8M148.6 245.0h.8M137.3 225.2h.8M147.1 237.3h.8M152.3 234.5h.8M147.5 228.0h.8M156.2 229.4h.8M165.0 210.1h.8M154.7 220.5h.8M156.1 250.8h.8M144.9 221.9h.8M139.0 214.9h.8M137.4 232.7h.8M145.4 225.8h.8M142.9 236.0h.8M150.9 223.3h.8M153.0 223.2h.8M131.2 242.5h.8M150.6 213.5h.8M157.9 229.1h.8M149.0 235.7h.8M147.4 223.2h.8M145.4 221.6h.8M149.2 225.9h.8M153.1 220.5h.8M144.6 199.3h.8M139.9 233.1h.8M161.0 220.6h.8M143.5 244.0h.8M141.1 233.8h.8M165.1 225.5h.8M159.7 216.5h.8M147.5 224.1h.8M146.4 238.6h.8M173.7 217.0h.8M138.1 231.0h.8M132.3 231.0h.8M151.9 221.7h.8M151.4 206.4h.8M154.1 206.5h.8M136.6 218.3h.8M140.2 235.3h.8M146.0 220.2h.8M151.5 244.0h.8M145.1 229.4h.8M159.9 228.2h.8M171.5 201.2h.8M144.5 230.0h.8M156.6 233.0h.8M141.7 212.4h.8M146.2 237.4h.8M131.9 212.7h.8M144.7 201.8h.8M141.9 219.8h.8M150.4 216.6h.8M134.4 220.3h.8M144.4 217.0h.8M145.1 234.0h.8M159.2 245.5h.8M135.6 220.0h.8M136.3 224.6h.8M151.3 208.7h.8M150.6 224.7h.8M159.3 202.6h.8M154.7 227.5h.8M150.7 230.3h.8M160.6 222.3h.8M155.5 220.1h.8M153.7 215.2h.8M143.7 245.8h.8M150.3 223.1h.8M131.3 215.5h.8M147.3 236.3h.8M150.1 231.3h.8M144.5 241.2h.8M140.3 218.4h.8M155.7 225.8h.8M141.7 218.1h.8M141.9 232.5h.8M149.2 210.5h.8M150.1 227.1h.8M133.0 234.3h.8M141.6 221.0h.8M154.5 240.8h.8M136.7 230.3h.8M139.1 239.3h.8M137.2 234.7h.8M139.8 231.0h.8M143.9 217.0h.8M170.8 226.0h.8M138.1 226.7h.8M160.1 226.4h.8M159.2 233.9h.8M135.2 235.3h.8M151.0 232.8h.8M155.8 233.8h.8M147.0 230.9h.8M175.6 213.6h.8M141.0 225.4h.8M155.6 219.7h.8M158.8 215.5h.8M148.2 218.7h.8M146.9 216.7h.8M148.6 218.3h.8M147.4 236.9h.8M133.3 223.7h.8M151.5 231.3h.8M141.0 199.7h.8M159.9 228.9h.8M145.2 221.7h.8M148.2 219.9h.8M132.7 216.1h.8M137.8 217.7h.8M131.1 232.6h.8M132.8 229.2h.8M161.5 227.4h.8M136.2 225.6h.8" stroke="#3350ff" stroke-width="0.8" opacity="0.55"/>
<path d="M152.1 234.6h.8M141.5 246.0h.8M143.4 245.5h.8M160.3 249.6h.8M162.7 248.5h.8M146.0 244.9h.8M146.2 243.1h.8M147.5 234.7h.8M145.3 244.9h.8M136.4 244.9h.8M157.2 244.0h.8M179.1 229.4h.8M147.1 234.0h.8M157.3 243.2h.8M157.7 231.5h.8M161.9 247.2h.8M150.3 241.5h.8M158.9 242.1h.8M153.1 241.9h.8M152.8 249.5h.8M137.7 244.8h.8M158.6 245.9h.8M137.3 233.5h.8M162.9 249.9h.8M141.3 240.7h.8M162.4 239.5h.8M140.4 240.6h.8M153.2 240.5h.8M168.3 244.5h.8M141.8 246.3h.8M149.8 243.1h.8M154.5 240.8h.8M132.3 240.4h.8M149.7 245.3h.8M157.8 245.7h.8M138.9 240.7h.8M156.8 248.2h.8M148.3 244.0h.8M163.1 245.1h.8M160.3 248.5h.8M142.0 242.8h.8M138.7 240.2h.8M150.3 248.4h.8M166.5 249.8h.8M166.9 237.4h.8M141.0 247.7h.8M170.1 245.6h.8M138.0 242.9h.8M140.8 239.9h.8M171.0 241.2h.8M166.6 247.0h.8M141.4 247.5h.8M172.7 248.7h.8M167.7 245.6h.8M157.2 243.8h.8M153.4 241.6h.8M145.7 249.7h.8M178.0 248.8h.8M154.6 235.7h.8M177.0 245.5h.8M149.5 238.3h.8M149.2 238.4h.8M151.0 247.8h.8M150.4 246.7h.8M140.9 234.1h.8M147.4 240.4h.8M135.9 242.9h.8M154.1 237.9h.8M159.6 244.1h.8M151.8 244.3h.8M149.3 249.4h.8M148.7 230.6h.8M149.7 239.7h.8M159.1 241.3h.8M135.3 238.3h.8M141.1 233.8h.8M139.1 242.8h.8M177.2 251.2h.8" stroke="#7a8cff" stroke-width="0.8" opacity="0.55"/>
<g filter="url(#jet)">
<ellipse cx="143" cy="234" rx="15" ry="21" fill="url(#gb)" opacity="0.36" transform="rotate(0 143 234)"/>
<ellipse cx="139" cy="227" rx="11" ry="7" fill="url(#gb)" opacity="0.46" transform="rotate(0 139 227)"/>
<ellipse cx="139" cy="226.5" rx="5" ry="3.5" fill="url(#gb)" opacity="0.19" transform="rotate(0 139 226.5)"/>
<ellipse cx="163.5" cy="240" rx="7" ry="22" fill="url(#gb)" opacity="0.48" transform="rotate(0 163.5 240)"/>
<ellipse cx="163.5" cy="238" rx="4" ry="14" fill="url(#gb)" opacity="0.42" transform="rotate(0 163.5 238)"/>
<ellipse cx="163.5" cy="241" rx="2.5" ry="5" fill="url(#gb)" opacity="0.72" transform="rotate(0 163.5 241)"/>
<ellipse cx="166.5" cy="213" rx="3.5" ry="3" fill="url(#gb)" opacity="0.24" transform="rotate(0 166.5 213)"/>
<ellipse cx="150" cy="243" rx="8" ry="9" fill="url(#gb)" opacity="0.22" transform="rotate(0 150 243)"/>
</g></g>
<rect x="130.50" y="198.00" width="53.00" height="53.20" fill="none" stroke="#8c8c8c" stroke-width="0.6" />
<line x1="134.21" y1="251.20" x2="134.21" y2="252.50" stroke="#444" stroke-width="0.5" />
<line x1="141.10" y1="251.20" x2="141.10" y2="252.50" stroke="#444" stroke-width="0.5" />
<line x1="154.35" y1="251.20" x2="154.35" y2="252.50" stroke="#444" stroke-width="0.5" />
<line x1="166.54" y1="251.20" x2="166.54" y2="252.50" stroke="#444" stroke-width="0.5" />
<line x1="179.26" y1="251.20" x2="179.26" y2="252.50" stroke="#444" stroke-width="0.5" />
<line x1="129.20" y1="203.32" x2="130.50" y2="203.32" stroke="#444" stroke-width="0.5" />
<line x1="129.20" y1="215.56" x2="130.50" y2="215.56" stroke="#444" stroke-width="0.5" />
<line x1="129.20" y1="226.20" x2="130.50" y2="226.20" stroke="#444" stroke-width="0.5" />
<line x1="129.20" y1="238.96" x2="130.50" y2="238.96" stroke="#444" stroke-width="0.5" />
<line x1="129.20" y1="245.88" x2="130.50" y2="245.88" stroke="#444" stroke-width="0.5" />
<line x1="130.5" y1="250.7" x2="183.5" y2="250.7" stroke="#666" stroke-width="0.7" stroke-dasharray="0.5 1.6"/>
<line x1="131.0" y1="198" x2="131.0" y2="251.2" stroke="#666" stroke-width="0.7" stroke-dasharray="0.5 1.6"/>
<text x="134.21" y="259.80" font-size="6.4" text-anchor="middle" fill="#231f20" font-weight="normal" style="stroke-width:0">0</text>
<text x="141.10" y="259.80" font-size="6.2" text-anchor="middle" fill="#231f20" style="stroke-width:0.12" textLength="7.6" lengthAdjust="spacingAndGlyphs">10<tspan font-size="3.84" dy="-2.60">2</tspan></text>
<text x="154.35" y="259.80" font-size="6.2" text-anchor="middle" fill="#231f20" style="stroke-width:0.12" textLength="7.6" lengthAdjust="spacingAndGlyphs">10<tspan font-size="3.84" dy="-2.60">3</tspan></text>
<text x="166.54" y="259.80" font-size="6.2" text-anchor="middle" fill="#231f20" style="stroke-width:0.12" textLength="7.6" lengthAdjust="spacingAndGlyphs">10<tspan font-size="3.84" dy="-2.60">4</tspan></text>
<text x="179.26" y="259.80" font-size="6.2" text-anchor="middle" fill="#231f20" style="stroke-width:0.12" textLength="7.6" lengthAdjust="spacingAndGlyphs">10<tspan font-size="3.84" dy="-2.60">5</tspan></text>
<text x="126.30" y="205.32" font-size="6.2" text-anchor="end" fill="#231f20" style="stroke-width:0.12" textLength="7.6" lengthAdjust="spacingAndGlyphs">10<tspan font-size="3.84" dy="-2.60">5</tspan></text>
<text x="126.30" y="217.56" font-size="6.2" text-anchor="end" fill="#231f20" style="stroke-width:0.12" textLength="7.6" lengthAdjust="spacingAndGlyphs">10<tspan font-size="3.84" dy="-2.60">4</tspan></text>
<text x="126.30" y="228.20" font-size="6.2" text-anchor="end" fill="#231f20" style="stroke-width:0.12" textLength="7.6" lengthAdjust="spacingAndGlyphs">10<tspan font-size="3.84" dy="-2.60">3</tspan></text>
<text x="126.30" y="240.96" font-size="6.2" text-anchor="end" fill="#231f20" style="stroke-width:0.12" textLength="7.6" lengthAdjust="spacingAndGlyphs">10<tspan font-size="3.84" dy="-2.60">2</tspan></text>
<text x="127.50" y="247.88" font-size="6.4" text-anchor="end" fill="#231f20" font-weight="normal" style="stroke-width:0">0</text>
<rect x="155.00" y="202.40" width="18.00" height="15.60" fill="none" stroke="#111" stroke-width="1.05" />
<rect x="155.00" y="218.00" width="18.00" height="14.00" fill="none" stroke="#111" stroke-width="1.05" />
<text x="178.00" y="211.50" font-size="6.6" text-anchor="middle" fill="#231f20" font-weight="normal" >1</text>
<text x="178.00" y="226.50" font-size="6.6" text-anchor="middle" fill="#231f20" font-weight="normal" >2</text>
<clipPath id="cp218_198"><rect x="218.8" y="198.4" width="52.69999999999999" height="52.79999999999998"/></clipPath>
<g clip-path="url(#cp218_198)">
<path d="M241.4 234.2h.8M258.0 249.1h.8M236.9 237.5h.8M242.9 232.6h.8M235.0 216.1h.8M234.7 213.5h.8M252.2 238.4h.8M227.9 248.7h.8M248.9 209.1h.8M258.4 241.7h.8M260.6 217.2h.8M245.3 237.1h.8M242.0 234.1h.8M250.5 214.1h.8M227.6 215.3h.8M234.4 224.7h.8M243.7 235.2h.8M240.3 223.9h.8M235.6 243.4h.8M247.6 233.2h.8M236.8 250.6h.8M234.1 239.8h.8M251.5 228.8h.8M248.3 218.6h.8M250.1 234.4h.8M224.1 240.0h.8M231.1 247.4h.8M233.2 230.0h.8M242.8 228.0h.8M242.6 225.4h.8M246.7 232.1h.8M242.1 199.0h.8M251.6 232.4h.8M222.2 233.1h.8M244.7 244.8h.8M229.2 250.6h.8M238.5 240.2h.8M236.3 218.6h.8M251.0 242.9h.8M255.4 242.3h.8M234.3 212.1h.8M233.5 223.9h.8M231.8 239.0h.8M243.3 228.8h.8M241.7 230.3h.8M242.1 241.0h.8M249.6 223.8h.8M224.9 249.1h.8M241.1 245.3h.8" stroke="#7a8cff" stroke-width="0.8" opacity="0.55"/>
<g filter="url(#jet)">
<ellipse cx="226.5" cy="235" rx="7" ry="21" fill="url(#gb)" opacity="0.50" transform="rotate(0 226.5 235)"/>
<ellipse cx="226.5" cy="226" rx="3.5" ry="4" fill="url(#gb)" opacity="0.36" transform="rotate(0 226.5 226)"/>
<ellipse cx="226.5" cy="241" rx="4.5" ry="9" fill="url(#gb)" opacity="0.48" transform="rotate(0 226.5 241)"/>
<ellipse cx="227" cy="241" rx="2.5" ry="5" fill="url(#gb)" opacity="0.72" transform="rotate(0 227 241)"/>
</g></g>
<rect x="218.80" y="198.40" width="52.70" height="52.80" fill="none" stroke="#8c8c8c" stroke-width="0.6" />
<line x1="222.49" y1="251.20" x2="222.49" y2="252.50" stroke="#444" stroke-width="0.5" />
<line x1="229.34" y1="251.20" x2="229.34" y2="252.50" stroke="#444" stroke-width="0.5" />
<line x1="242.52" y1="251.20" x2="242.52" y2="252.50" stroke="#444" stroke-width="0.5" />
<line x1="254.64" y1="251.20" x2="254.64" y2="252.50" stroke="#444" stroke-width="0.5" />
<line x1="267.28" y1="251.20" x2="267.28" y2="252.50" stroke="#444" stroke-width="0.5" />
<line x1="217.50" y1="203.68" x2="218.80" y2="203.68" stroke="#444" stroke-width="0.5" />
<line x1="217.50" y1="215.82" x2="218.80" y2="215.82" stroke="#444" stroke-width="0.5" />
<line x1="217.50" y1="226.38" x2="218.80" y2="226.38" stroke="#444" stroke-width="0.5" />
<line x1="217.50" y1="239.06" x2="218.80" y2="239.06" stroke="#444" stroke-width="0.5" />
<line x1="217.50" y1="245.92" x2="218.80" y2="245.92" stroke="#444" stroke-width="0.5" />
<line x1="218.8" y1="250.7" x2="271.5" y2="250.7" stroke="#666" stroke-width="0.7" stroke-dasharray="0.5 1.6"/>
<line x1="219.3" y1="198.4" x2="219.3" y2="251.2" stroke="#666" stroke-width="0.7" stroke-dasharray="0.5 1.6"/>
<text x="222.49" y="259.80" font-size="6.4" text-anchor="middle" fill="#231f20" font-weight="normal" style="stroke-width:0">0</text>
<text x="229.34" y="259.80" font-size="6.2" text-anchor="middle" fill="#231f20" style="stroke-width:0.12" textLength="7.6" lengthAdjust="spacingAndGlyphs">10<tspan font-size="3.84" dy="-2.60">2</tspan></text>
<text x="242.52" y="259.80" font-size="6.2" text-anchor="middle" fill="#231f20" style="stroke-width:0.12" textLength="7.6" lengthAdjust="spacingAndGlyphs">10<tspan font-size="3.84" dy="-2.60">3</tspan></text>
<text x="254.64" y="259.80" font-size="6.2" text-anchor="middle" fill="#231f20" style="stroke-width:0.12" textLength="7.6" lengthAdjust="spacingAndGlyphs">10<tspan font-size="3.84" dy="-2.60">4</tspan></text>
<text x="267.28" y="259.80" font-size="6.2" text-anchor="middle" fill="#231f20" style="stroke-width:0.12" textLength="7.6" lengthAdjust="spacingAndGlyphs">10<tspan font-size="3.84" dy="-2.60">5</tspan></text>
<text x="214.60" y="205.68" font-size="6.2" text-anchor="end" fill="#231f20" style="stroke-width:0.12" textLength="7.6" lengthAdjust="spacingAndGlyphs">10<tspan font-size="3.84" dy="-2.60">5</tspan></text>
<text x="214.60" y="217.82" font-size="6.2" text-anchor="end" fill="#231f20" style="stroke-width:0.12" textLength="7.6" lengthAdjust="spacingAndGlyphs">10<tspan font-size="3.84" dy="-2.60">4</tspan></text>
<text x="214.60" y="228.38" font-size="6.2" text-anchor="end" fill="#231f20" style="stroke-width:0.12" textLength="7.6" lengthAdjust="spacingAndGlyphs">10<tspan font-size="3.84" dy="-2.60">3</tspan></text>
<text x="214.60" y="241.06" font-size="6.2" text-anchor="end" fill="#231f20" style="stroke-width:0.12" textLength="7.6" lengthAdjust="spacingAndGlyphs">10<tspan font-size="3.84" dy="-2.60">2</tspan></text>
<text x="215.80" y="247.92" font-size="6.4" text-anchor="end" fill="#231f20" font-weight="normal" style="stroke-width:0">0</text>
<rect x="247.20" y="211.60" width="23.30" height="31.90" fill="none" stroke="#111" stroke-width="1.05" />
<text x="259.00" y="209.00" font-size="6.6" text-anchor="middle" fill="#231f20" font-weight="normal" >3</text>
<clipPath id="cp293_198"><rect x="293" y="198.4" width="52.39999999999998" height="52.79999999999998"/></clipPath>
<g clip-path="url(#cp293_198)">
<path d="M295.0 228.0h.8M318.4 214.7h.8M310.8 240.7h.8M333.1 251.1h.8M305.9 215.2h.8M325.3 243.3h.8M320.7 216.4h.8M328.9 241.5h.8M325.7 226.2h.8M322.3 241.5h.8M310.2 209.9h.8M322.6 237.8h.8M318.2 242.7h.8M309.8 231.0h.8M313.7 238.9h.8M340.3 229.0h.8M329.1 239.0h.8M342.8 229.8h.8M316.4 219.2h.8M324.6 248.1h.8M325.5 237.1h.8M315.2 234.0h.8M298.0 244.6h.8M312.3 218.7h.8M307.5 222.1h.8M330.0 244.7h.8M299.0 243.1h.8M330.4 225.0h.8M297.2 223.1h.8M309.1 236.1h.8M313.0 207.7h.8M321.3 213.6h.8M330.7 217.5h.8M308.3 221.7h.8M310.4 247.6h.8M329.9 239.2h.8M322.5 213.4h.8M310.7 225.4h.8M304.3 238.1h.8M307.6 223.5h.8M303.4 207.3h.8M326.3 248.0h.8M320.4 220.3h.8M335.0 235.6h.8M331.0 249.7h.8M333.8 226.7h.8M332.7 241.3h.8M296.5 227.1h.8M298.1 230.7h.8M326.1 219.2h.8M323.3 249.7h.8M299.5 244.7h.8M315.1 235.2h.8M315.8 244.0h.8M332.5 233.0h.8M299.0 240.9h.8M311.4 239.5h.8M333.9 226.6h.8M310.5 237.2h.8M334.7 247.1h.8M325.3 216.2h.8M300.3 235.0h.8M305.9 245.7h.8M328.8 211.9h.8M306.5 234.0h.8M311.1 230.1h.8M324.6 222.3h.8M324.5 224.4h.8M310.4 238.4h.8M310.0 235.4h.8M340.4 232.3h.8M316.0 240.8h.8M312.9 245.0h.8M300.0 239.4h.8M310.8 222.4h.8M342.8 221.8h.8M342.6 239.9h.8M338.3 220.3h.8M334.8 249.5h.8M316.4 230.5h.8M312.1 224.4h.8M324.2 236.0h.8M313.4 237.7h.8M338.4 220.0h.8M299.0 218.8h.8M303.5 209.8h.8M324.3 209.7h.8M325.0 249.4h.8M295.4 228.2h.8M307.7 228.8h.8M318.8 238.5h.8M313.1 232.2h.8M310.3 233.4h.8M301.6 232.8h.8M300.4 235.1h.8M304.4 212.2h.8M307.7 240.8h.8M323.4 230.8h.8M305.0 219.1h.8M336.9 234.9h.8M304.7 206.7h.8M301.9 231.1h.8M320.9 230.1h.8M314.1 215.5h.8M307.4 242.1h.8M294.3 228.7h.8M321.7 244.4h.8M302.3 239.1h.8M323.4 223.1h.8M324.7 221.2h.8M306.9 231.8h.8M304.0 214.4h.8M312.0 241.2h.8M312.3 247.2h.8M301.8 216.3h.8M339.7 236.8h.8M331.2 222.1h.8M329.3 235.1h.8M327.1 232.3h.8M334.9 224.2h.8M304.5 214.3h.8M334.2 223.1h.8M303.4 220.7h.8M311.8 216.7h.8M313.9 224.5h.8M310.3 220.5h.8M318.5 226.5h.8M319.6 235.0h.8M322.8 205.7h.8M310.5 222.4h.8M328.8 213.1h.8M308.0 228.5h.8M313.3 243.9h.8M311.8 243.6h.8M297.5 210.3h.8M335.1 237.2h.8M324.8 233.5h.8M324.8 217.4h.8M331.3 225.6h.8M331.8 233.1h.8M333.8 230.4h.8M312.5 234.9h.8M312.0 225.5h.8M319.4 233.7h.8M339.2 232.5h.8M342.0 244.7h.8M319.8 233.6h.8M316.0 223.2h.8M317.1 224.3h.8M341.0 238.4h.8M311.7 209.0h.8M317.3 227.0h.8M302.8 218.4h.8M317.6 230.2h.8M338.2 233.6h.8M320.3 227.5h.8M309.5 250.0h.8M313.1 232.4h.8M305.7 243.6h.8M298.5 238.8h.8M333.3 248.9h.8M304.8 245.1h.8M308.0 222.9h.8M299.5 245.9h.8M341.1 224.9h.8M307.4 227.9h.8M310.4 210.5h.8M308.6 246.2h.8M344.1 228.8h.8M308.3 225.9h.8M302.8 244.8h.8M294.1 216.8h.8M322.0 222.8h.8M328.9 232.1h.8M301.6 239.5h.8M329.8 209.0h.8M343.6 238.0h.8M328.6 209.7h.8M307.9 227.8h.8M333.1 214.5h.8M305.6 207.6h.8M314.6 236.2h.8M294.4 224.9h.8M325.1 251.0h.8M327.3 228.4h.8M301.5 220.8h.8M308.7 233.8h.8M322.0 219.1h.8M339.6 243.4h.8M319.4 223.3h.8M330.8 222.4h.8M299.5 234.3h.8M321.4 239.3h.8M327.2 248.9h.8M306.2 243.7h.8M304.2 240.3h.8M320.5 234.9h.8M331.5 231.8h.8M333.6 242.5h.8M319.9 225.2h.8M307.5 225.7h.8M315.2 231.7h.8M328.8 221.7h.8M308.1 228.2h.8M320.7 219.6h.8M340.6 225.2h.8M333.1 204.0h.8M317.9 235.3h.8M320.7 239.2h.8M321.9 233.9h.8M322.3 229.7h.8M306.5 225.0h.8M317.2 247.5h.8M295.8 208.8h.8M311.2 221.5h.8M310.2 234.3h.8M318.7 235.3h.8M317.5 243.2h.8M342.9 217.1h.8M320.3 228.8h.8M323.0 213.6h.8M293.4 204.2h.8M325.4 234.3h.8M319.0 203.6h.8M312.8 222.9h.8M298.2 221.0h.8M327.8 238.5h.8M317.7 238.2h.8M309.6 232.9h.8M318.6 238.7h.8M317.0 230.3h.8M316.1 224.3h.8M337.6 213.3h.8M327.7 242.1h.8M344.4 247.8h.8M328.8 217.9h.8M305.8 235.2h.8M325.1 219.7h.8M312.6 227.2h.8M318.8 236.0h.8M314.0 217.2h.8M335.4 251.2h.8M316.5 244.3h.8M324.2 239.9h.8M324.7 222.8h.8M326.0 244.1h.8M313.3 224.8h.8M306.6 233.4h.8M317.5 240.0h.8M327.5 237.7h.8M321.8 229.5h.8M316.3 222.1h.8M320.5 231.7h.8M322.5 221.7h.8M318.6 232.6h.8M326.5 219.2h.8M323.9 243.8h.8M326.4 227.6h.8M311.1 229.2h.8M328.2 250.6h.8M315.8 224.3h.8M323.3 234.5h.8M305.3 223.2h.8M316.6 240.1h.8M301.3 219.8h.8M325.0 217.3h.8M319.5 236.2h.8M316.4 219.8h.8M317.2 228.0h.8M322.7 221.9h.8M333.3 211.9h.8M315.5 232.1h.8M331.5 224.7h.8M325.6 225.2h.8M312.4 237.3h.8M305.0 243.7h.8M335.0 232.4h.8M302.1 236.8h.8M334.1 245.1h.8M329.4 210.0h.8M308.5 249.1h.8M300.8 245.6h.8M344.4 241.1h.8M333.7 228.0h.8M300.8 230.8h.8M315.2 231.4h.8M327.8 230.3h.8M320.7 237.1h.8M324.2 233.0h.8M315.1 224.5h.8M336.8 233.8h.8M302.9 225.3h.8M316.1 226.7h.8M333.2 218.1h.8M324.9 233.7h.8M301.5 232.6h.8M316.7 238.0h.8M311.7 235.6h.8M294.7 219.0h.8M329.0 244.5h.8M317.8 224.8h.8M333.2 206.9h.8M306.8 240.1h.8M327.1 219.6h.8M320.1 221.2h.8M318.8 242.8h.8M328.4 207.0h.8M328.8 210.6h.8M334.0 236.8h.8" stroke="#3350ff" stroke-width="0.8" opacity="0.55"/>
<g filter="url(#jet)">
<ellipse cx="299.5" cy="238" rx="6" ry="19" fill="url(#gb)" opacity="0.50" transform="rotate(0 299.5 238)"/>
<ellipse cx="299.5" cy="238" rx="3.5" ry="10" fill="url(#gb)" opacity="0.42" transform="rotate(0 299.5 238)"/>
<ellipse cx="299.5" cy="240" rx="2.5" ry="5" fill="url(#gb)" opacity="0.60" transform="rotate(0 299.5 240)"/>
<ellipse cx="332" cy="228" rx="13" ry="10" fill="url(#gb)" opacity="0.48" transform="rotate(30 332 228)"/>
<ellipse cx="334" cy="226.5" rx="6" ry="4" fill="url(#gb)" opacity="0.54" transform="rotate(30 334 226.5)"/>
<ellipse cx="318" cy="221" rx="22" ry="10" fill="url(#gb)" opacity="0.16" transform="rotate(0 318 221)"/>
<ellipse cx="312" cy="240" rx="10" ry="12" fill="url(#gb)" opacity="0.11" transform="rotate(0 312 240)"/>
</g></g>
<rect x="293.00" y="198.40" width="52.40" height="52.80" fill="none" stroke="#8c8c8c" stroke-width="0.6" />
<line x1="296.67" y1="251.20" x2="296.67" y2="252.50" stroke="#444" stroke-width="0.5" />
<line x1="303.48" y1="251.20" x2="303.48" y2="252.50" stroke="#444" stroke-width="0.5" />
<line x1="316.58" y1="251.20" x2="316.58" y2="252.50" stroke="#444" stroke-width="0.5" />
<line x1="328.63" y1="251.20" x2="328.63" y2="252.50" stroke="#444" stroke-width="0.5" />
<line x1="341.21" y1="251.20" x2="341.21" y2="252.50" stroke="#444" stroke-width="0.5" />
<line x1="291.70" y1="203.68" x2="293.00" y2="203.68" stroke="#444" stroke-width="0.5" />
<line x1="291.70" y1="215.82" x2="293.00" y2="215.82" stroke="#444" stroke-width="0.5" />
<line x1="291.70" y1="226.38" x2="293.00" y2="226.38" stroke="#444" stroke-width="0.5" />
<line x1="291.70" y1="239.06" x2="293.00" y2="239.06" stroke="#444" stroke-width="0.5" />
<line x1="291.70" y1="245.92" x2="293.00" y2="245.92" stroke="#444" stroke-width="0.5" />
<line x1="293" y1="250.7" x2="345.4" y2="250.7" stroke="#666" stroke-width="0.7" stroke-dasharray="0.5 1.6"/>
<line x1="293.5" y1="198.4" x2="293.5" y2="251.2" stroke="#666" stroke-width="0.7" stroke-dasharray="0.5 1.6"/>
<text x="296.67" y="259.80" font-size="6.4" text-anchor="middle" fill="#231f20" font-weight="normal" style="stroke-width:0">0</text>
<text x="303.48" y="259.80" font-size="6.2" text-anchor="middle" fill="#231f20" style="stroke-width:0.12" textLength="7.6" lengthAdjust="spacingAndGlyphs">10<tspan font-size="3.84" dy="-2.60">2</tspan></text>
<text x="316.58" y="259.80" font-size="6.2" text-anchor="middle" fill="#231f20" style="stroke-width:0.12" textLength="7.6" lengthAdjust="spacingAndGlyphs">10<tspan font-size="3.84" dy="-2.60">3</tspan></text>
<text x="328.63" y="259.80" font-size="6.2" text-anchor="middle" fill="#231f20" style="stroke-width:0.12" textLength="7.6" lengthAdjust="spacingAndGlyphs">10<tspan font-size="3.84" dy="-2.60">4</tspan></text>
<text x="341.21" y="259.80" font-size="6.2" text-anchor="middle" fill="#231f20" style="stroke-width:0.12" textLength="7.6" lengthAdjust="spacingAndGlyphs">10<tspan font-size="3.84" dy="-2.60">5</tspan></text>
<text x="288.80" y="205.68" font-size="6.2" text-anchor="end" fill="#231f20" style="stroke-width:0.12" textLength="7.6" lengthAdjust="spacingAndGlyphs">10<tspan font-size="3.84" dy="-2.60">5</tspan></text>
<text x="288.80" y="217.82" font-size="6.2" text-anchor="end" fill="#231f20" style="stroke-width:0.12" textLength="7.6" lengthAdjust="spacingAndGlyphs">10<tspan font-size="3.84" dy="-2.60">4</tspan></text>
<text x="288.80" y="228.38" font-size="6.2" text-anchor="end" fill="#231f20" style="stroke-width:0.12" textLength="7.6" lengthAdjust="spacingAndGlyphs">10<tspan font-size="3.84" dy="-2.60">3</tspan></text>
<text x="288.80" y="241.06" font-size="6.2" text-anchor="end" fill="#231f20" style="stroke-width:0.12" textLength="7.6" lengthAdjust="spacingAndGlyphs">10<tspan font-size="3.84" dy="-2.60">2</tspan></text>
<text x="290.00" y="247.92" font-size="6.4" text-anchor="end" fill="#231f20" font-weight="normal" style="stroke-width:0">0</text>
<rect x="321.20" y="211.50" width="23.00" height="32.00" fill="none" stroke="#111" stroke-width="1.05" />
<text x="334.00" y="209.00" font-size="6.6" text-anchor="middle" fill="#231f20" font-weight="normal" >3</text>
<clipPath id="cp59_279"><rect x="59.5" y="279.5" width="52.8" height="53.30000000000001"/></clipPath>
<g clip-path="url(#cp59_279)">
<path d="M96.0 313.1h.8M78.0 326.4h.8M72.9 312.4h.8M75.0 317.4h.8M69.3 321.9h.8M82.3 318.6h.8M91.6 315.4h.8M88.5 313.6h.8M84.0 302.5h.8M79.6 316.6h.8M74.0 313.1h.8M75.2 312.2h.8M60.5 313.2h.8M73.6 313.8h.8M69.5 316.9h.8M84.3 316.0h.8M74.1 328.9h.8M85.8 325.4h.8M87.2 315.4h.8M77.0 326.9h.8M73.6 317.0h.8M81.0 321.0h.8M75.8 325.9h.8M76.6 323.8h.8M86.6 323.3h.8M83.9 308.7h.8M67.5 313.1h.8M81.8 330.0h.8M68.2 320.5h.8M71.2 312.1h.8M75.8 323.5h.8M79.7 327.4h.8M70.1 325.1h.8M85.4 318.6h.8M81.8 313.5h.8M69.3 314.8h.8M74.1 331.2h.8M79.6 320.5h.8M83.9 311.8h.8M85.3 321.0h.8M65.9 322.8h.8M82.4 321.6h.8M90.7 314.7h.8M82.1 324.0h.8M70.8 327.6h.8M66.4 307.6h.8M82.2 309.3h.8M77.1 304.8h.8M78.6 308.9h.8M80.7 305.7h.8M81.6 315.9h.8M78.5 317.5h.8M79.0 307.4h.8M70.5 314.4h.8M81.4 302.1h.8M71.9 313.1h.8M69.5 320.6h.8M76.9 311.4h.8M70.1 324.5h.8M72.7 322.7h.8M81.6 302.8h.8M69.3 318.0h.8M80.7 324.2h.8M84.4 326.3h.8M75.0 316.3h.8M84.2 314.6h.8M86.5 305.3h.8M83.2 316.6h.8M62.3 325.8h.8M80.5 318.2h.8M69.4 314.3h.8M90.1 311.4h.8M68.4 316.9h.8M74.9 310.7h.8M71.3 326.4h.8M73.6 309.3h.8M84.3 322.5h.8M69.7 324.0h.8M63.3 310.6h.8M87.0 316.0h.8M67.6 322.1h.8M85.3 317.8h.8M63.5 315.2h.8M81.3 324.1h.8M92.8 316.0h.8M74.1 317.7h.8M87.6 310.5h.8M88.4 296.0h.8M84.4 312.6h.8M81.7 323.5h.8M68.5 317.3h.8M79.9 322.7h.8M70.6 310.1h.8M76.5 316.2h.8M66.0 325.4h.8M73.7 329.5h.8M84.8 318.2h.8M83.8 309.1h.8M75.4 313.4h.8M67.8 318.1h.8M76.8 329.5h.8M70.7 314.3h.8M81.4 321.2h.8M78.2 314.2h.8M82.0 320.9h.8M63.3 315.9h.8M67.0 308.5h.8M79.2 318.5h.8M78.9 311.0h.8M76.4 310.7h.8M81.1 323.5h.8M92.0 328.1h.8M71.6 314.3h.8M70.5 320.4h.8M93.8 323.7h.8M60.4 307.9h.8M67.7 322.1h.8M78.0 320.4h.8M92.3 311.4h.8M80.7 311.8h.8M61.8 305.8h.8M78.4 325.9h.8M76.9 312.5h.8M63.9 319.4h.8M78.2 322.9h.8M74.8 322.0h.8M84.5 316.8h.8M74.3 316.5h.8M70.3 316.3h.8M75.6 319.7h.8M88.7 328.5h.8M74.4 322.8h.8M80.4 324.1h.8M78.2 320.1h.8M74.2 311.7h.8M85.0 328.4h.8M83.3 321.5h.8M80.1 314.4h.8M63.7 323.3h.8M79.6 313.6h.8M70.3 328.2h.8" stroke="#7a8cff" stroke-width="0.8" opacity="0.55"/>
<path d="M85.8 299.0h.8M95.6 301.5h.8M90.1 291.9h.8M91.0 292.6h.8M92.2 289.0h.8M97.3 288.9h.8M91.0 294.2h.8M90.8 290.3h.8M94.4 290.5h.8M88.0 291.6h.8M92.1 298.8h.8M88.6 295.9h.8M89.9 290.6h.8M91.7 293.1h.8M96.5 299.0h.8M90.5 297.3h.8M97.0 295.3h.8M90.0 295.6h.8M92.6 293.4h.8M91.9 294.7h.8M97.5 296.5h.8M92.2 296.0h.8M98.8 288.3h.8M98.9 286.7h.8M95.2 294.4h.8M98.9 293.1h.8M91.1 288.8h.8M88.0 295.1h.8M92.1 289.1h.8M95.1 288.9h.8M91.3 290.2h.8M99.6 297.9h.8M92.4 285.7h.8M94.1 292.3h.8M94.4 294.3h.8M91.7 295.7h.8M96.3 292.8h.8M91.4 290.1h.8M95.8 287.6h.8M92.4 289.0h.8" stroke="#7a8cff" stroke-width="0.8" opacity="0.55"/>
<g filter="url(#jet)">
<ellipse cx="91" cy="317" rx="9.5" ry="20" fill="url(#gb)" opacity="0.48" transform="rotate(8 91 317)"/>
<ellipse cx="90" cy="311" rx="5" ry="11" fill="url(#gb)" opacity="0.42" transform="rotate(10 90 311)"/>
<ellipse cx="89.4" cy="309" rx="2.2" ry="6.5" fill="url(#gb)" opacity="0.66" transform="rotate(8 89.4 309)"/>
<ellipse cx="94" cy="302" rx="3" ry="5" fill="url(#gb)" opacity="0.22" transform="rotate(15 94 302)"/>
</g></g>
<rect x="59.50" y="279.50" width="52.80" height="53.30" fill="none" stroke="#8c8c8c" stroke-width="0.6" />
<line x1="63.72" y1="332.80" x2="63.72" y2="334.10" stroke="#444" stroke-width="0.5" />
<line x1="72.70" y1="332.80" x2="72.70" y2="334.10" stroke="#444" stroke-width="0.5" />
<line x1="84.84" y1="332.80" x2="84.84" y2="334.10" stroke="#444" stroke-width="0.5" />
<line x1="96.46" y1="332.80" x2="96.46" y2="334.10" stroke="#444" stroke-width="0.5" />
<line x1="108.60" y1="332.80" x2="108.60" y2="334.10" stroke="#444" stroke-width="0.5" />
<line x1="58.20" y1="283.76" x2="59.50" y2="283.76" stroke="#444" stroke-width="0.5" />
<line x1="58.20" y1="296.02" x2="59.50" y2="296.02" stroke="#444" stroke-width="0.5" />
<line x1="58.20" y1="307.75" x2="59.50" y2="307.75" stroke="#444" stroke-width="0.5" />
<line x1="58.20" y1="318.94" x2="59.50" y2="318.94" stroke="#444" stroke-width="0.5" />
<line x1="58.20" y1="330.13" x2="59.50" y2="330.13" stroke="#444" stroke-width="0.5" />
<line x1="59.5" y1="332.3" x2="112.3" y2="332.3" stroke="#666" stroke-width="0.7" stroke-dasharray="0.5 1.6"/>
<line x1="60.0" y1="279.5" x2="60.0" y2="332.8" stroke="#666" stroke-width="0.7" stroke-dasharray="0.5 1.6"/>
<text x="63.72" y="341.40" font-size="6.2" text-anchor="middle" fill="#231f20" style="stroke-width:0.12" textLength="7.6" lengthAdjust="spacingAndGlyphs">10<tspan font-size="3.84" dy="-2.60">1</tspan></text>
<text x="72.70" y="341.40" font-size="6.2" text-anchor="middle" fill="#231f20" style="stroke-width:0.12" textLength="7.6" lengthAdjust="spacingAndGlyphs">10<tspan font-size="3.84" dy="-2.60">2</tspan></text>
<text x="84.84" y="341.40" font-size="6.2" text-anchor="middle" fill="#231f20" style="stroke-width:0.12" textLength="7.6" lengthAdjust="spacingAndGlyphs">10<tspan font-size="3.84" dy="-2.60">3</tspan></text>
<text x="96.46" y="341.40" font-size="6.2" text-anchor="middle" fill="#231f20" style="stroke-width:0.12" textLength="7.6" lengthAdjust="spacingAndGlyphs">10<tspan font-size="3.84" dy="-2.60">4</tspan></text>
<text x="108.60" y="341.40" font-size="6.2" text-anchor="middle" fill="#231f20" style="stroke-width:0.12" textLength="7.6" lengthAdjust="spacingAndGlyphs">10<tspan font-size="3.84" dy="-2.60">5</tspan></text>
<text x="55.30" y="285.76" font-size="6.2" text-anchor="end" fill="#231f20" style="stroke-width:0.12" textLength="7.6" lengthAdjust="spacingAndGlyphs">10<tspan font-size="3.84" dy="-2.60">5</tspan></text>
<text x="55.30" y="298.02" font-size="6.2" text-anchor="end" fill="#231f20" style="stroke-width:0.12" textLength="7.6" lengthAdjust="spacingAndGlyphs">10<tspan font-size="3.84" dy="-2.60">4</tspan></text>
<text x="55.30" y="309.75" font-size="6.2" text-anchor="end" fill="#231f20" style="stroke-width:0.12" textLength="7.6" lengthAdjust="spacingAndGlyphs">10<tspan font-size="3.84" dy="-2.60">3</tspan></text>
<text x="55.30" y="320.94" font-size="6.2" text-anchor="end" fill="#231f20" style="stroke-width:0.12" textLength="7.6" lengthAdjust="spacingAndGlyphs">10<tspan font-size="3.84" dy="-2.60">2</tspan></text>
<text x="55.30" y="332.13" font-size="6.2" text-anchor="end" fill="#231f20" style="stroke-width:0.12" textLength="7.6" lengthAdjust="spacingAndGlyphs">10<tspan font-size="3.84" dy="-2.60">1</tspan></text>
<rect x="82.60" y="281.50" width="18.60" height="15.70" fill="none" stroke="#111" stroke-width="1.05" />
<rect x="82.60" y="297.20" width="18.60" height="13.60" fill="none" stroke="#111" stroke-width="1.05" />
<text x="107.50" y="290.00" font-size="6.6" text-anchor="middle" fill="#231f20" font-weight="normal" >1</text>
<text x="107.50" y="305.00" font-size="6.6" text-anchor="middle" fill="#231f20" font-weight="normal" >2</text>
<clipPath id="cp130_279"><rect x="130.5" y="279.2" width="53.30000000000001" height="53.60000000000002"/></clipPath>
<g clip-path="url(#cp130_279)">
<path d="M138.2 314.8h.8M147.8 310.3h.8M154.1 298.0h.8M147.5 312.3h.8M153.8 301.3h.8M153.0 311.8h.8M157.5 319.1h.8M151.8 327.2h.8M148.0 306.6h.8M145.6 302.5h.8M147.8 295.0h.8M147.4 313.4h.8M154.9 307.2h.8M157.7 304.8h.8M147.1 295.0h.8M142.7 303.7h.8M158.2 314.1h.8M140.5 314.2h.8M151.3 308.2h.8M148.2 307.6h.8M144.3 296.2h.8M147.4 320.0h.8M157.8 307.8h.8M142.9 308.3h.8M154.1 312.7h.8M144.0 312.8h.8M146.6 314.0h.8M145.2 298.5h.8M148.4 315.9h.8M140.4 309.2h.8M154.0 307.1h.8M143.6 325.8h.8M153.7 318.0h.8M141.5 322.7h.8M136.7 306.0h.8M153.0 320.4h.8M141.7 304.8h.8M149.3 295.0h.8M152.4 314.4h.8M145.0 314.2h.8M153.3 312.4h.8M151.6 321.8h.8M144.8 311.3h.8M144.4 318.0h.8M145.2 313.7h.8M148.9 310.5h.8M159.6 309.3h.8M157.6 316.4h.8M156.9 308.7h.8M154.3 315.9h.8M143.8 312.1h.8M147.1 309.7h.8M156.8 304.4h.8M136.6 296.5h.8M144.9 305.0h.8M148.1 314.4h.8M159.9 312.4h.8M151.1 304.3h.8M151.9 320.5h.8M157.1 294.9h.8" stroke="#7a8cff" stroke-width="0.8" opacity="0.55"/>
<path d="M165.3 293.6h.8M165.0 284.7h.8M159.5 290.7h.8M163.0 286.7h.8M156.7 291.8h.8M154.6 293.1h.8M161.1 289.9h.8M154.6 287.3h.8M164.3 284.8h.8M171.0 284.9h.8M155.1 289.1h.8M163.3 291.1h.8M159.2 288.4h.8M159.9 287.3h.8M148.6 291.8h.8M162.2 289.5h.8M158.0 289.7h.8M160.9 288.8h.8M166.3 284.0h.8M162.2 285.9h.8M159.5 293.3h.8M155.8 288.7h.8M158.2 291.7h.8M156.3 284.2h.8M163.5 288.0h.8M159.5 292.1h.8M156.7 287.9h.8M161.7 290.2h.8M158.5 292.0h.8M171.8 287.8h.8" stroke="#3350ff" stroke-width="0.8" opacity="0.55"/>
<g filter="url(#jet)">
<ellipse cx="162.8" cy="317" rx="8" ry="20" fill="url(#gb)" opacity="0.50" transform="rotate(0 162.8 317)"/>
<ellipse cx="162.8" cy="311" rx="4" ry="10" fill="url(#gb)" opacity="0.36" transform="rotate(0 162.8 311)"/>
<ellipse cx="163" cy="307.5" rx="2" ry="3.5" fill="url(#gb)" opacity="0.48" transform="rotate(0 163 307.5)"/>
<ellipse cx="161" cy="287" rx="4.5" ry="3" fill="url(#gb)" opacity="0.26" transform="rotate(0 161 287)"/>
</g></g>
<rect x="130.50" y="279.20" width="53.30" height="53.60" fill="none" stroke="#8c8c8c" stroke-width="0.6" />
<line x1="134.76" y1="332.80" x2="134.76" y2="334.10" stroke="#444" stroke-width="0.5" />
<line x1="143.82" y1="332.80" x2="143.82" y2="334.10" stroke="#444" stroke-width="0.5" />
<line x1="156.08" y1="332.80" x2="156.08" y2="334.10" stroke="#444" stroke-width="0.5" />
<line x1="167.81" y1="332.80" x2="167.81" y2="334.10" stroke="#444" stroke-width="0.5" />
<line x1="180.07" y1="332.80" x2="180.07" y2="334.10" stroke="#444" stroke-width="0.5" />
<line x1="129.20" y1="283.49" x2="130.50" y2="283.49" stroke="#444" stroke-width="0.5" />
<line x1="129.20" y1="295.82" x2="130.50" y2="295.82" stroke="#444" stroke-width="0.5" />
<line x1="129.20" y1="307.61" x2="130.50" y2="307.61" stroke="#444" stroke-width="0.5" />
<line x1="129.20" y1="318.86" x2="130.50" y2="318.86" stroke="#444" stroke-width="0.5" />
<line x1="129.20" y1="330.12" x2="130.50" y2="330.12" stroke="#444" stroke-width="0.5" />
<line x1="130.5" y1="332.3" x2="183.8" y2="332.3" stroke="#666" stroke-width="0.7" stroke-dasharray="0.5 1.6"/>
<line x1="131.0" y1="279.2" x2="131.0" y2="332.8" stroke="#666" stroke-width="0.7" stroke-dasharray="0.5 1.6"/>
<text x="134.76" y="341.40" font-size="6.2" text-anchor="middle" fill="#231f20" style="stroke-width:0.12" textLength="7.6" lengthAdjust="spacingAndGlyphs">10<tspan font-size="3.84" dy="-2.60">1</tspan></text>
<text x="143.82" y="341.40" font-size="6.2" text-anchor="middle" fill="#231f20" style="stroke-width:0.12" textLength="7.6" lengthAdjust="spacingAndGlyphs">10<tspan font-size="3.84" dy="-2.60">2</tspan></text>
<text x="156.08" y="341.40" font-size="6.2" text-anchor="middle" fill="#231f20" style="stroke-width:0.12" textLength="7.6" lengthAdjust="spacingAndGlyphs">10<tspan font-size="3.84" dy="-2.60">3</tspan></text>
<text x="167.81" y="341.40" font-size="6.2" text-anchor="middle" fill="#231f20" style="stroke-width:0.12" textLength="7.6" lengthAdjust="spacingAndGlyphs">10<tspan font-size="3.84" dy="-2.60">4</tspan></text>
<text x="180.07" y="341.40" font-size="6.2" text-anchor="middle" fill="#231f20" style="stroke-width:0.12" textLength="7.6" lengthAdjust="spacingAndGlyphs">10<tspan font-size="3.84" dy="-2.60">5</tspan></text>
<text x="126.30" y="285.49" font-size="6.2" text-anchor="end" fill="#231f20" style="stroke-width:0.12" textLength="7.6" lengthAdjust="spacingAndGlyphs">10<tspan font-size="3.84" dy="-2.60">5</tspan></text>
<text x="126.30" y="297.82" font-size="6.2" text-anchor="end" fill="#231f20" style="stroke-width:0.12" textLength="7.6" lengthAdjust="spacingAndGlyphs">10<tspan font-size="3.84" dy="-2.60">4</tspan></text>
<text x="126.30" y="309.61" font-size="6.2" text-anchor="end" fill="#231f20" style="stroke-width:0.12" textLength="7.6" lengthAdjust="spacingAndGlyphs">10<tspan font-size="3.84" dy="-2.60">3</tspan></text>
<text x="126.30" y="320.86" font-size="6.2" text-anchor="end" fill="#231f20" style="stroke-width:0.12" textLength="7.6" lengthAdjust="spacingAndGlyphs">10<tspan font-size="3.84" dy="-2.60">2</tspan></text>
<text x="126.30" y="332.12" font-size="6.2" text-anchor="end" fill="#231f20" style="stroke-width:0.12" textLength="7.6" lengthAdjust="spacingAndGlyphs">10<tspan font-size="3.84" dy="-2.60">1</tspan></text>
<rect x="152.30" y="281.50" width="18.90" height="15.70" fill="none" stroke="#111" stroke-width="1.05" />
<rect x="152.30" y="297.20" width="18.90" height="13.60" fill="none" stroke="#111" stroke-width="1.05" />
<text x="178.00" y="290.00" font-size="6.6" text-anchor="middle" fill="#231f20" font-weight="normal" >1</text>
<text x="178.00" y="305.00" font-size="6.6" text-anchor="middle" fill="#231f20" font-weight="normal" >2</text>
<clipPath id="cp218_279"><rect x="218.5" y="279.2" width="53.0" height="53.60000000000002"/></clipPath>
<g clip-path="url(#cp218_279)">
<path d="M240.8 287.8h.8M238.1 298.0h.8M230.8 298.0h.8M226.3 292.6h.8M227.7 307.5h.8M236.6 298.0h.8M227.0 296.0h.8M223.1 310.4h.8M233.8 300.7h.8M227.2 294.1h.8M237.6 304.5h.8M224.5 305.7h.8M223.6 303.7h.8M224.5 297.6h.8M232.9 302.5h.8M235.8 295.2h.8M239.1 307.7h.8M229.9 302.7h.8M225.5 299.1h.8M222.4 300.5h.8M231.1 307.7h.8M235.5 304.7h.8M227.9 298.7h.8M228.0 301.3h.8M218.9 304.4h.8M221.0 297.0h.8M230.1 297.0h.8M239.6 299.4h.8M239.1 306.8h.8M227.1 302.3h.8M237.5 298.1h.8M230.5 296.8h.8M230.3 298.0h.8M230.5 305.8h.8M238.0 300.8h.8M231.2 304.9h.8M228.3 293.9h.8M236.4 294.6h.8M235.4 294.4h.8M240.5 294.0h.8M234.9 308.6h.8M224.5 308.6h.8M225.3 289.8h.8M234.2 304.0h.8M228.8 285.5h.8M229.7 298.2h.8M227.8 298.3h.8M219.7 296.7h.8M240.4 308.9h.8M227.9 295.9h.8M232.3 306.1h.8M234.2 293.3h.8M230.9 300.8h.8M238.3 306.9h.8M233.0 307.0h.8M227.7 308.9h.8M227.5 302.3h.8M235.3 294.7h.8M226.0 289.9h.8M230.9 299.7h.8" stroke="#7a8cff" stroke-width="0.8" opacity="0.55"/>
<path d="M220.4 330.4h.8M222.4 326.7h.8M219.9 323.5h.8M219.1 328.4h.8M224.8 323.9h.8M226.8 323.1h.8M226.0 330.1h.8M220.7 327.2h.8M224.3 332.1h.8M228.6 328.2h.8M221.5 328.9h.8M224.7 328.8h.8M220.1 324.5h.8M223.3 327.9h.8M228.0 321.8h.8M219.4 331.1h.8M224.9 318.3h.8M229.0 325.2h.8M221.6 322.0h.8M218.9 324.5h.8M226.2 329.7h.8M222.2 331.7h.8M220.4 330.2h.8M232.1 328.5h.8M222.9 329.6h.8M220.6 332.1h.8M221.1 321.7h.8M226.2 326.3h.8M227.8 324.9h.8M224.7 329.5h.8" stroke="#3350ff" stroke-width="0.8" opacity="0.55"/>
<g filter="url(#jet)">
<ellipse cx="227" cy="315" rx="10" ry="20" fill="url(#gb)" opacity="0.50" transform="rotate(0 227 315)"/>
<ellipse cx="228.5" cy="312" rx="5" ry="11" fill="url(#gb)" opacity="0.42" transform="rotate(0 228.5 312)"/>
<ellipse cx="229" cy="312" rx="2" ry="6" fill="url(#gb)" opacity="0.36" transform="rotate(0 229 312)"/>
</g></g>
<rect x="218.50" y="279.20" width="53.00" height="53.60" fill="none" stroke="#8c8c8c" stroke-width="0.6" />
<line x1="222.74" y1="332.80" x2="222.74" y2="334.10" stroke="#444" stroke-width="0.5" />
<line x1="231.75" y1="332.80" x2="231.75" y2="334.10" stroke="#444" stroke-width="0.5" />
<line x1="243.94" y1="332.80" x2="243.94" y2="334.10" stroke="#444" stroke-width="0.5" />
<line x1="255.60" y1="332.80" x2="255.60" y2="334.10" stroke="#444" stroke-width="0.5" />
<line x1="267.79" y1="332.80" x2="267.79" y2="334.10" stroke="#444" stroke-width="0.5" />
<line x1="217.20" y1="283.49" x2="218.50" y2="283.49" stroke="#444" stroke-width="0.5" />
<line x1="217.20" y1="295.82" x2="218.50" y2="295.82" stroke="#444" stroke-width="0.5" />
<line x1="217.20" y1="307.61" x2="218.50" y2="307.61" stroke="#444" stroke-width="0.5" />
<line x1="217.20" y1="318.86" x2="218.50" y2="318.86" stroke="#444" stroke-width="0.5" />
<line x1="217.20" y1="330.12" x2="218.50" y2="330.12" stroke="#444" stroke-width="0.5" />
<line x1="218.5" y1="332.3" x2="271.5" y2="332.3" stroke="#666" stroke-width="0.7" stroke-dasharray="0.5 1.6"/>
<line x1="219.0" y1="279.2" x2="219.0" y2="332.8" stroke="#666" stroke-width="0.7" stroke-dasharray="0.5 1.6"/>
<text x="222.74" y="341.40" font-size="6.2" text-anchor="middle" fill="#231f20" style="stroke-width:0.12" textLength="7.6" lengthAdjust="spacingAndGlyphs">10<tspan font-size="3.84" dy="-2.60">1</tspan></text>
<text x="231.75" y="341.40" font-size="6.2" text-anchor="middle" fill="#231f20" style="stroke-width:0.12" textLength="7.6" lengthAdjust="spacingAndGlyphs">10<tspan font-size="3.84" dy="-2.60">2</tspan></text>
<text x="243.94" y="341.40" font-size="6.2" text-anchor="middle" fill="#231f20" style="stroke-width:0.12" textLength="7.6" lengthAdjust="spacingAndGlyphs">10<tspan font-size="3.84" dy="-2.60">3</tspan></text>
<text x="255.60" y="341.40" font-size="6.2" text-anchor="middle" fill="#231f20" style="stroke-width:0.12" textLength="7.6" lengthAdjust="spacingAndGlyphs">10<tspan font-size="3.84" dy="-2.60">4</tspan></text>
<text x="267.79" y="341.40" font-size="6.2" text-anchor="middle" fill="#231f20" style="stroke-width:0.12" textLength="7.6" lengthAdjust="spacingAndGlyphs">10<tspan font-size="3.84" dy="-2.60">5</tspan></text>
<text x="214.30" y="285.49" font-size="6.2" text-anchor="end" fill="#231f20" style="stroke-width:0.12" textLength="7.6" lengthAdjust="spacingAndGlyphs">10<tspan font-size="3.84" dy="-2.60">5</tspan></text>
<text x="214.30" y="297.82" font-size="6.2" text-anchor="end" fill="#231f20" style="stroke-width:0.12" textLength="7.6" lengthAdjust="spacingAndGlyphs">10<tspan font-size="3.84" dy="-2.60">4</tspan></text>
<text x="214.30" y="309.61" font-size="6.2" text-anchor="end" fill="#231f20" style="stroke-width:0.12" textLength="7.6" lengthAdjust="spacingAndGlyphs">10<tspan font-size="3.84" dy="-2.60">3</tspan></text>
<text x="214.30" y="320.86" font-size="6.2" text-anchor="end" fill="#231f20" style="stroke-width:0.12" textLength="7.6" lengthAdjust="spacingAndGlyphs">10<tspan font-size="3.84" dy="-2.60">2</tspan></text>
<text x="214.30" y="332.12" font-size="6.2" text-anchor="end" fill="#231f20" style="stroke-width:0.12" textLength="7.6" lengthAdjust="spacingAndGlyphs">10<tspan font-size="3.84" dy="-2.60">1</tspan></text>
<rect x="247.20" y="292.60" width="23.10" height="31.70" fill="none" stroke="#111" stroke-width="1.05" />
<text x="259.00" y="289.50" font-size="6.6" text-anchor="middle" fill="#231f20" font-weight="normal" >3</text>
<clipPath id="cp292_279"><rect x="292.8" y="279.2" width="52.599999999999966" height="53.60000000000002"/></clipPath>
<g clip-path="url(#cp292_279)">
<path d="M317.2 309.8h.8M315.2 300.2h.8M311.9 307.2h.8M314.0 311.8h.8M311.0 298.3h.8M309.3 308.9h.8M304.0 293.0h.8M310.0 299.7h.8M310.7 279.4h.8M310.4 302.6h.8M315.7 286.0h.8M310.5 309.6h.8M314.3 316.5h.8M317.1 294.9h.8M315.1 301.8h.8M308.1 319.7h.8M309.0 296.8h.8M310.0 296.8h.8M316.8 308.7h.8M318.7 309.0h.8M309.0 315.1h.8M308.9 300.6h.8M311.2 305.4h.8M317.7 299.2h.8M313.7 304.7h.8M305.9 294.5h.8M310.9 308.9h.8M313.5 309.6h.8M312.2 300.7h.8M314.1 295.3h.8M305.5 301.8h.8M305.1 300.0h.8M308.4 299.7h.8M311.8 297.3h.8M310.0 288.5h.8M312.7 296.5h.8M308.1 307.3h.8M300.2 301.5h.8M312.5 306.0h.8M304.8 307.2h.8M312.7 295.6h.8M315.6 304.5h.8M312.1 300.7h.8M314.6 305.9h.8M317.5 309.4h.8M309.0 302.8h.8M316.4 301.5h.8M313.8 310.0h.8M311.1 282.5h.8M312.6 307.1h.8M312.7 297.7h.8M317.8 303.7h.8M309.0 298.1h.8M313.7 294.5h.8M307.2 324.3h.8M318.3 315.2h.8M318.6 310.8h.8M303.9 316.6h.8M318.0 309.7h.8M302.5 317.0h.8M318.6 300.2h.8M312.6 312.5h.8M311.6 315.6h.8M312.4 311.7h.8M312.4 290.7h.8M313.4 317.7h.8M317.5 321.6h.8M314.7 299.2h.8M312.1 286.4h.8M311.1 313.8h.8M301.5 306.9h.8M316.0 317.9h.8M307.5 298.7h.8M302.9 295.1h.8M314.6 325.1h.8M306.4 318.4h.8M314.1 300.2h.8M322.6 280.5h.8M311.7 307.1h.8M322.3 322.5h.8M323.0 306.3h.8M316.8 318.3h.8M314.5 308.5h.8M311.1 301.0h.8M306.0 323.9h.8M309.8 284.8h.8M313.3 304.7h.8M312.9 322.6h.8M311.5 302.4h.8M308.4 304.8h.8M309.9 307.0h.8M327.2 308.8h.8M307.8 323.8h.8M316.2 312.9h.8M315.5 313.0h.8M315.3 318.7h.8M316.9 318.1h.8M309.6 305.0h.8" stroke="#7a8cff" stroke-width="0.8" opacity="0.55"/>
<path d="M327.3 312.5h.8M339.5 301.4h.8M337.6 325.4h.8M342.6 296.3h.8M332.3 309.9h.8M332.7 308.0h.8M342.2 307.6h.8M324.5 310.6h.8M332.2 305.9h.8M328.6 294.2h.8M323.3 302.2h.8M324.7 283.8h.8M341.9 296.0h.8M327.4 309.1h.8M314.2 315.5h.8M327.0 310.1h.8M329.2 307.4h.8M333.8 305.0h.8M318.8 293.5h.8M332.7 316.0h.8M328.7 309.1h.8M334.3 308.8h.8M340.7 293.3h.8M335.1 303.6h.8M330.6 298.3h.8" stroke="#7a8cff" stroke-width="0.8" opacity="0.55"/>
<g filter="url(#jet)">
<ellipse cx="300" cy="315" rx="10" ry="20" fill="url(#gb)" opacity="0.50" transform="rotate(0 300 315)"/>
<ellipse cx="301.5" cy="311" rx="5" ry="11" fill="url(#gb)" opacity="0.42" transform="rotate(0 301.5 311)"/>
<ellipse cx="302" cy="310" rx="2" ry="6" fill="url(#gb)" opacity="0.36" transform="rotate(0 302 310)"/>
<ellipse cx="307" cy="288" rx="2.2" ry="7" fill="url(#gb)" opacity="0.36" transform="rotate(45 307 288)"/>
</g></g>
<rect x="292.80" y="279.20" width="52.60" height="53.60" fill="none" stroke="#8c8c8c" stroke-width="0.6" />
<line x1="297.01" y1="332.80" x2="297.01" y2="334.10" stroke="#444" stroke-width="0.5" />
<line x1="305.95" y1="332.80" x2="305.95" y2="334.10" stroke="#444" stroke-width="0.5" />
<line x1="318.05" y1="332.80" x2="318.05" y2="334.10" stroke="#444" stroke-width="0.5" />
<line x1="329.62" y1="332.80" x2="329.62" y2="334.10" stroke="#444" stroke-width="0.5" />
<line x1="341.72" y1="332.80" x2="341.72" y2="334.10" stroke="#444" stroke-width="0.5" />
<line x1="291.50" y1="283.49" x2="292.80" y2="283.49" stroke="#444" stroke-width="0.5" />
<line x1="291.50" y1="295.82" x2="292.80" y2="295.82" stroke="#444" stroke-width="0.5" />
<line x1="291.50" y1="307.61" x2="292.80" y2="307.61" stroke="#444" stroke-width="0.5" />
<line x1="291.50" y1="318.86" x2="292.80" y2="318.86" stroke="#444" stroke-width="0.5" />
<line x1="291.50" y1="330.12" x2="292.80" y2="330.12" stroke="#444" stroke-width="0.5" />
<line x1="292.8" y1="332.3" x2="345.4" y2="332.3" stroke="#666" stroke-width="0.7" stroke-dasharray="0.5 1.6"/>
<line x1="293.3" y1="279.2" x2="293.3" y2="332.8" stroke="#666" stroke-width="0.7" stroke-dasharray="0.5 1.6"/>
<text x="297.01" y="341.40" font-size="6.2" text-anchor="middle" fill="#231f20" style="stroke-width:0.12" textLength="7.6" lengthAdjust="spacingAndGlyphs">10<tspan font-size="3.84" dy="-2.60">1</tspan></text>
<text x="305.95" y="341.40" font-size="6.2" text-anchor="middle" fill="#231f20" style="stroke-width:0.12" textLength="7.6" lengthAdjust="spacingAndGlyphs">10<tspan font-size="3.84" dy="-2.60">2</tspan></text>
<text x="318.05" y="341.40" font-size="6.2" text-anchor="middle" fill="#231f20" style="stroke-width:0.12" textLength="7.6" lengthAdjust="spacingAndGlyphs">10<tspan font-size="3.84" dy="-2.60">3</tspan></text>
<text x="329.62" y="341.40" font-size="6.2" text-anchor="middle" fill="#231f20" style="stroke-width:0.12" textLength="7.6" lengthAdjust="spacingAndGlyphs">10<tspan font-size="3.84" dy="-2.60">4</tspan></text>
<text x="341.72" y="341.40" font-size="6.2" text-anchor="middle" fill="#231f20" style="stroke-width:0.12" textLength="7.6" lengthAdjust="spacingAndGlyphs">10<tspan font-size="3.84" dy="-2.60">5</tspan></text>
<text x="288.60" y="285.49" font-size="6.2" text-anchor="end" fill="#231f20" style="stroke-width:0.12" textLength="7.6" lengthAdjust="spacingAndGlyphs">10<tspan font-size="3.84" dy="-2.60">5</tspan></text>
<text x="288.60" y="297.82" font-size="6.2" text-anchor="end" fill="#231f20" style="stroke-width:0.12" textLength="7.6" lengthAdjust="spacingAndGlyphs">10<tspan font-size="3.84" dy="-2.60">4</tspan></text>
<text x="288.60" y="309.61" font-size="6.2" text-anchor="end" fill="#231f20" style="stroke-width:0.12" textLength="7.6" lengthAdjust="spacingAndGlyphs">10<tspan font-size="3.84" dy="-2.60">3</tspan></text>
<text x="288.60" y="320.86" font-size="6.2" text-anchor="end" fill="#231f20" style="stroke-width:0.12" textLength="7.6" lengthAdjust="spacingAndGlyphs">10<tspan font-size="3.84" dy="-2.60">2</tspan></text>
<text x="288.60" y="332.12" font-size="6.2" text-anchor="end" fill="#231f20" style="stroke-width:0.12" textLength="7.6" lengthAdjust="spacingAndGlyphs">10<tspan font-size="3.84" dy="-2.60">1</tspan></text>
<rect x="321.20" y="292.30" width="22.30" height="31.70" fill="none" stroke="#111" stroke-width="1.05" />
<text x="333.00" y="289.50" font-size="6.6" text-anchor="middle" fill="#231f20" font-weight="normal" >3</text>
<clipPath id="cp59_358"><rect x="59.5" y="358" width="52.8" height="53.5"/></clipPath>
<g clip-path="url(#cp59_358)">
<path d="M69.9 385.0h.8M67.4 405.7h.8M89.2 391.1h.8M81.8 385.3h.8M77.1 399.4h.8M75.7 385.1h.8M74.1 385.2h.8M65.1 389.6h.8M72.9 386.3h.8M69.1 385.6h.8M77.8 399.1h.8M74.4 404.1h.8M63.4 392.6h.8M67.0 390.1h.8M76.8 394.3h.8M84.8 387.8h.8M66.3 389.9h.8M78.3 386.9h.8M83.0 400.8h.8M64.9 393.1h.8M83.9 379.8h.8M77.6 389.7h.8M64.9 398.7h.8M77.7 388.2h.8M79.5 394.8h.8M82.0 394.4h.8M79.2 384.1h.8M72.7 391.8h.8M73.0 384.8h.8M61.8 392.5h.8M76.3 387.6h.8M72.8 385.8h.8M70.2 390.4h.8M71.0 395.0h.8M74.9 391.8h.8M79.2 398.4h.8M80.7 392.3h.8M74.7 386.3h.8M73.3 395.0h.8M77.8 388.7h.8M65.6 382.0h.8M78.5 397.0h.8M78.9 383.0h.8M74.3 392.3h.8M68.8 393.0h.8M74.4 386.1h.8M66.3 395.7h.8M78.8 385.8h.8M68.1 396.2h.8M80.6 389.2h.8M88.4 389.3h.8M67.8 397.4h.8M74.5 393.0h.8M76.3 385.1h.8M66.7 389.9h.8M87.0 385.1h.8M86.6 392.3h.8M67.3 392.6h.8M80.4 385.7h.8M67.4 393.6h.8M61.1 390.2h.8M69.7 382.4h.8M74.1 392.0h.8M71.7 384.1h.8M77.7 380.8h.8M80.2 393.9h.8M89.1 396.2h.8M78.8 392.5h.8M76.2 383.3h.8M87.4 394.1h.8M73.8 384.3h.8M87.5 394.1h.8M66.8 394.9h.8M90.7 390.9h.8M79.1 388.6h.8M71.1 397.3h.8M99.9 391.7h.8M75.0 395.6h.8M73.6 395.2h.8M82.4 385.1h.8M67.7 390.6h.8M82.5 392.6h.8M85.6 383.0h.8M79.8 387.4h.8M76.8 392.9h.8M68.5 389.7h.8M67.0 392.5h.8M69.4 388.1h.8M77.7 387.2h.8M84.9 387.3h.8M82.6 392.6h.8M68.0 389.7h.8M69.5 388.9h.8M73.9 401.6h.8M72.7 400.1h.8M79.5 383.4h.8M60.6 395.2h.8M84.0 393.3h.8M74.4 389.5h.8M78.0 389.2h.8M71.9 388.8h.8M85.1 387.4h.8M78.9 384.3h.8M70.5 383.0h.8M74.5 395.0h.8M78.4 388.1h.8M80.7 389.0h.8M78.9 392.6h.8M80.2 376.6h.8M65.9 395.5h.8M75.2 404.0h.8M74.2 387.8h.8M87.6 394.2h.8M90.7 394.0h.8M74.4 395.2h.8M69.9 388.4h.8M71.7 389.7h.8M82.0 388.2h.8M78.5 388.1h.8M82.8 375.0h.8M74.4 392.0h.8M67.7 396.9h.8M77.7 398.4h.8M83.4 394.7h.8M74.8 384.7h.8M74.3 388.3h.8M77.9 388.3h.8M99.6 381.7h.8M85.1 388.3h.8M74.1 396.4h.8M76.0 384.0h.8M79.2 389.9h.8M60.1 392.1h.8M67.8 386.7h.8M79.7 392.7h.8M73.8 403.6h.8M79.2 387.4h.8M77.8 390.3h.8M65.3 403.0h.8M74.6 389.4h.8M71.6 396.7h.8M76.2 400.9h.8M82.1 400.5h.8M75.1 393.2h.8M72.7 390.0h.8M62.6 387.6h.8M68.7 387.2h.8M85.4 392.5h.8M85.5 396.0h.8M83.1 396.8h.8M71.3 395.6h.8M73.5 387.9h.8M85.2 403.5h.8M68.5 401.0h.8M82.4 386.1h.8M78.1 393.1h.8M78.9 388.9h.8M66.1 391.2h.8M82.6 395.5h.8M81.1 397.4h.8M68.4 390.8h.8M78.6 396.8h.8M77.2 394.0h.8M77.0 403.1h.8M95.1 392.4h.8M61.9 391.8h.8M65.0 387.1h.8M77.7 400.9h.8M79.6 394.9h.8M83.8 392.2h.8M69.4 390.4h.8M78.6 389.4h.8M70.9 388.9h.8M64.4 385.1h.8M75.3 388.9h.8M76.3 399.1h.8M78.3 390.8h.8M67.0 384.8h.8M78.9 386.0h.8M79.3 384.8h.8M77.0 390.6h.8M83.7 388.7h.8M73.1 392.4h.8M76.4 400.8h.8M74.0 387.9h.8M73.5 393.7h.8M77.8 395.0h.8M65.3 405.3h.8M90.2 390.8h.8M66.7 391.9h.8M79.2 378.1h.8M76.1 382.5h.8M79.5 399.0h.8M84.0 382.3h.8M86.6 396.2h.8M73.2 393.9h.8M87.7 389.1h.8M75.9 387.8h.8M84.9 378.6h.8M86.9 385.4h.8M83.1 381.6h.8M68.8 387.5h.8M82.4 381.6h.8M80.6 387.3h.8M85.6 389.2h.8M79.7 390.0h.8M89.8 388.9h.8M75.8 402.5h.8M76.6 395.0h.8M70.3 392.2h.8M71.0 382.3h.8M65.1 397.6h.8M79.3 382.2h.8" stroke="#3350ff" stroke-width="0.8" opacity="0.55"/>
<path d="M103.5 367.3h.8M90.9 370.9h.8M86.4 363.8h.8M88.7 374.5h.8M98.5 363.9h.8M100.0 370.1h.8M95.9 370.2h.8M95.4 366.1h.8M87.8 367.3h.8M90.9 372.4h.8M86.0 376.1h.8M89.3 367.7h.8M97.1 371.7h.8M91.0 365.9h.8M87.2 363.8h.8M99.6 374.2h.8M103.8 371.9h.8M94.9 372.9h.8M98.5 369.0h.8M95.0 378.3h.8M83.2 364.6h.8M87.4 372.9h.8M99.9 368.7h.8M96.9 369.8h.8M94.7 367.9h.8M92.8 370.0h.8M99.5 378.6h.8M82.5 372.1h.8M93.0 373.7h.8M99.1 373.0h.8M97.7 366.3h.8M83.1 376.4h.8M100.0 366.3h.8M100.5 372.6h.8M78.8 373.5h.8M87.3 374.5h.8M89.1 367.1h.8M84.1 369.2h.8M98.9 367.4h.8M82.3 378.3h.8M103.7 372.7h.8M89.9 365.3h.8M83.5 372.2h.8M100.5 365.9h.8M93.0 368.9h.8M91.5 371.9h.8M105.1 367.5h.8M97.9 374.2h.8M91.4 369.4h.8M85.2 374.2h.8" stroke="#7a8cff" stroke-width="0.8" opacity="0.55"/>
<path d="M92.4 397.6h.8M95.3 396.2h.8M90.0 400.0h.8M102.2 400.6h.8M97.5 392.1h.8M93.1 391.6h.8M94.5 406.1h.8M86.7 396.0h.8M96.3 395.8h.8M98.8 408.5h.8M97.1 399.1h.8M94.8 397.7h.8M94.4 404.1h.8M93.6 408.6h.8M107.5 398.3h.8M96.7 407.6h.8M98.1 400.4h.8M92.7 408.8h.8M98.0 405.4h.8M91.1 406.3h.8M98.8 400.7h.8M85.9 406.1h.8M89.3 392.8h.8M93.9 405.7h.8M95.3 394.1h.8M88.1 398.2h.8M95.1 396.4h.8M90.9 400.9h.8M92.3 398.0h.8M95.2 400.0h.8M98.0 394.0h.8M94.6 407.2h.8M100.7 405.8h.8M95.2 391.5h.8M87.3 408.6h.8M98.3 405.9h.8M87.0 387.5h.8M89.9 394.0h.8M95.8 395.1h.8M102.7 397.8h.8M92.3 407.9h.8M96.6 395.9h.8M89.1 400.3h.8M89.8 388.8h.8M98.0 406.7h.8M99.7 404.9h.8M85.2 401.8h.8M91.8 394.0h.8M89.6 407.2h.8M97.3 389.0h.8M99.3 410.5h.8M95.2 393.8h.8M103.6 393.1h.8M94.6 389.0h.8" stroke="#3350ff" stroke-width="0.8" opacity="0.55"/>
<g filter="url(#jet)">
<ellipse cx="95" cy="395" rx="8" ry="15" fill="url(#gb)" opacity="0.48" transform="rotate(15 95 395)"/>
<ellipse cx="95" cy="391" rx="5" ry="7" fill="url(#gb)" opacity="0.50" transform="rotate(25 95 391)"/>
<ellipse cx="95.2" cy="390.5" rx="2.2" ry="3.5" fill="url(#gb)" opacity="0.60" transform="rotate(30 95.2 390.5)"/>
<ellipse cx="96" cy="371" rx="6.5" ry="5" fill="url(#gb)" opacity="0.19" transform="rotate(0 96 371)"/>
<ellipse cx="95" cy="381.5" rx="7" ry="3" fill="url(#gb)" opacity="0.30" transform="rotate(0 95 381.5)"/>
<ellipse cx="77" cy="391" rx="10" ry="5" fill="url(#gb)" opacity="0.08" transform="rotate(0 77 391)"/>
</g></g>
<rect x="59.50" y="358.00" width="52.80" height="53.50" fill="none" stroke="#8c8c8c" stroke-width="0.6" />
<line x1="63.72" y1="411.50" x2="63.72" y2="412.80" stroke="#444" stroke-width="0.5" />
<line x1="72.70" y1="411.50" x2="72.70" y2="412.80" stroke="#444" stroke-width="0.5" />
<line x1="84.84" y1="411.50" x2="84.84" y2="412.80" stroke="#444" stroke-width="0.5" />
<line x1="96.46" y1="411.50" x2="96.46" y2="412.80" stroke="#444" stroke-width="0.5" />
<line x1="108.60" y1="411.50" x2="108.60" y2="412.80" stroke="#444" stroke-width="0.5" />
<line x1="58.20" y1="362.28" x2="59.50" y2="362.28" stroke="#444" stroke-width="0.5" />
<line x1="58.20" y1="374.58" x2="59.50" y2="374.58" stroke="#444" stroke-width="0.5" />
<line x1="58.20" y1="386.36" x2="59.50" y2="386.36" stroke="#444" stroke-width="0.5" />
<line x1="58.20" y1="397.59" x2="59.50" y2="397.59" stroke="#444" stroke-width="0.5" />
<line x1="58.20" y1="408.82" x2="59.50" y2="408.82" stroke="#444" stroke-width="0.5" />
<line x1="59.5" y1="411.0" x2="112.3" y2="411.0" stroke="#666" stroke-width="0.7" stroke-dasharray="0.5 1.6"/>
<line x1="60.0" y1="358" x2="60.0" y2="411.5" stroke="#666" stroke-width="0.7" stroke-dasharray="0.5 1.6"/>
<text x="63.72" y="420.10" font-size="6.2" text-anchor="middle" fill="#231f20" style="stroke-width:0.12" textLength="7.6" lengthAdjust="spacingAndGlyphs">10<tspan font-size="3.84" dy="-2.60">1</tspan></text>
<text x="72.70" y="420.10" font-size="6.2" text-anchor="middle" fill="#231f20" style="stroke-width:0.12" textLength="7.6" lengthAdjust="spacingAndGlyphs">10<tspan font-size="3.84" dy="-2.60">2</tspan></text>
<text x="84.84" y="420.10" font-size="6.2" text-anchor="middle" fill="#231f20" style="stroke-width:0.12" textLength="7.6" lengthAdjust="spacingAndGlyphs">10<tspan font-size="3.84" dy="-2.60">3</tspan></text>
<text x="96.46" y="420.10" font-size="6.2" text-anchor="middle" fill="#231f20" style="stroke-width:0.12" textLength="7.6" lengthAdjust="spacingAndGlyphs">10<tspan font-size="3.84" dy="-2.60">4</tspan></text>
<text x="108.60" y="420.10" font-size="6.2" text-anchor="middle" fill="#231f20" style="stroke-width:0.12" textLength="7.6" lengthAdjust="spacingAndGlyphs">10<tspan font-size="3.84" dy="-2.60">5</tspan></text>
<text x="55.30" y="364.28" font-size="6.2" text-anchor="end" fill="#231f20" style="stroke-width:0.12" textLength="7.6" lengthAdjust="spacingAndGlyphs">10<tspan font-size="3.84" dy="-2.60">5</tspan></text>
<text x="55.30" y="376.58" font-size="6.2" text-anchor="end" fill="#231f20" style="stroke-width:0.12" textLength="7.6" lengthAdjust="spacingAndGlyphs">10<tspan font-size="3.84" dy="-2.60">4</tspan></text>
<text x="55.30" y="388.36" font-size="6.2" text-anchor="end" fill="#231f20" style="stroke-width:0.12" textLength="7.6" lengthAdjust="spacingAndGlyphs">10<tspan font-size="3.84" dy="-2.60">3</tspan></text>
<text x="55.30" y="399.59" font-size="6.2" text-anchor="end" fill="#231f20" style="stroke-width:0.12" textLength="7.6" lengthAdjust="spacingAndGlyphs">10<tspan font-size="3.84" dy="-2.60">2</tspan></text>
<text x="55.30" y="410.82" font-size="6.2" text-anchor="end" fill="#231f20" style="stroke-width:0.12" textLength="7.6" lengthAdjust="spacingAndGlyphs">10<tspan font-size="3.84" dy="-2.60">1</tspan></text>
<rect x="85.70" y="360.70" width="18.50" height="15.80" fill="none" stroke="#111" stroke-width="1.05" />
<rect x="85.70" y="376.50" width="18.50" height="9.00" fill="none" stroke="#111" stroke-width="1.05" />
<text x="109.00" y="368.00" font-size="6.6" text-anchor="middle" fill="#231f20" font-weight="normal" >1</text>
<text x="109.00" y="382.00" font-size="6.6" text-anchor="middle" fill="#231f20" font-weight="normal" >2</text>
<clipPath id="cp130_358"><rect x="130.5" y="358.4" width="53.0" height="53.10000000000002"/></clipPath>
<g clip-path="url(#cp130_358)">
<path d="M135.4 365.2h.8M162.7 398.8h.8M145.3 369.2h.8M149.3 389.4h.8M132.2 371.5h.8M148.8 393.2h.8M150.9 390.3h.8M153.6 374.3h.8M148.5 380.6h.8M155.6 376.0h.8M166.9 385.4h.8M156.2 392.4h.8M162.1 389.7h.8M171.8 390.5h.8M156.6 390.5h.8M142.5 377.1h.8M142.4 398.6h.8M154.3 405.9h.8M155.8 407.2h.8M155.4 371.1h.8M170.4 389.0h.8M164.0 387.5h.8M146.2 387.0h.8M136.8 371.0h.8M139.6 378.8h.8M134.0 383.8h.8M153.6 408.9h.8M171.7 384.4h.8M160.4 382.4h.8M154.6 384.6h.8M143.6 385.9h.8M132.6 390.2h.8M146.6 372.2h.8M145.8 391.5h.8M142.0 390.6h.8M156.7 403.4h.8M137.2 383.7h.8M156.0 402.7h.8M153.1 393.9h.8M132.7 378.1h.8M169.6 381.6h.8M175.6 376.4h.8M146.7 366.2h.8M157.5 388.1h.8M173.9 387.0h.8M147.0 368.3h.8M149.0 396.2h.8M158.8 399.5h.8M160.2 384.5h.8M157.2 387.0h.8M134.2 405.3h.8M154.4 372.5h.8M154.6 388.4h.8M161.8 402.1h.8M168.2 373.8h.8M154.0 389.2h.8M136.8 379.5h.8M152.3 393.8h.8M176.0 388.5h.8M162.8 383.4h.8M148.7 373.3h.8M158.7 363.7h.8M151.3 386.4h.8M153.6 400.5h.8M148.8 386.1h.8M160.2 366.6h.8M146.5 385.8h.8M161.4 375.5h.8M159.6 389.6h.8M132.3 367.4h.8M132.9 386.7h.8M152.5 393.6h.8M159.8 378.4h.8M162.7 394.8h.8M155.6 390.7h.8M134.7 389.3h.8M137.7 370.8h.8M145.8 386.7h.8M149.4 381.1h.8M138.1 387.2h.8M141.2 368.2h.8M151.1 402.3h.8M145.2 372.3h.8M166.5 405.4h.8M146.5 382.5h.8M151.6 396.9h.8M155.3 363.3h.8M136.8 370.3h.8M155.2 386.3h.8M171.4 381.8h.8M153.7 385.9h.8M153.4 402.6h.8M165.5 377.7h.8M158.2 380.4h.8M151.3 386.9h.8M150.3 379.4h.8M168.6 381.8h.8M158.4 405.1h.8M157.5 397.3h.8M166.6 398.0h.8M170.6 367.9h.8M173.4 385.3h.8M133.3 384.7h.8M132.2 373.0h.8M153.5 386.9h.8M140.5 382.2h.8M148.8 385.9h.8M149.9 382.4h.8M160.5 365.8h.8M144.1 386.6h.8M145.2 378.4h.8M144.8 387.5h.8M164.9 382.8h.8M146.8 389.3h.8M147.1 361.8h.8M153.2 380.5h.8M143.1 392.5h.8M150.5 378.2h.8M150.2 383.6h.8M155.3 387.7h.8M144.3 369.8h.8M136.9 383.3h.8M136.2 394.1h.8M134.1 363.5h.8M147.7 363.7h.8M169.5 373.1h.8M149.4 382.1h.8M140.2 363.8h.8M162.3 411.0h.8M132.5 391.7h.8M149.8 395.1h.8M143.8 393.7h.8M160.7 392.3h.8M167.4 382.9h.8M168.5 376.6h.8M150.2 375.4h.8M150.0 397.4h.8M158.6 386.1h.8M170.4 367.3h.8M140.2 403.1h.8M153.9 360.1h.8M154.1 370.8h.8M167.7 398.7h.8M143.4 400.5h.8M140.0 396.0h.8M156.9 383.5h.8M132.9 381.6h.8M157.0 389.4h.8M143.9 410.4h.8M159.3 385.8h.8M155.8 396.5h.8M142.9 368.0h.8M149.5 364.9h.8M150.1 394.3h.8M168.1 388.2h.8M152.4 394.0h.8M166.8 381.2h.8M135.3 375.5h.8M134.9 374.3h.8M148.6 389.1h.8M151.9 385.8h.8M145.7 390.1h.8M160.6 394.1h.8M168.0 381.5h.8M147.0 405.3h.8M152.4 390.0h.8M146.0 396.6h.8M145.2 372.9h.8M149.3 379.7h.8M160.0 380.5h.8M151.5 382.4h.8M154.1 377.4h.8M163.3 367.9h.8M145.4 376.5h.8M157.8 385.5h.8M155.8 381.0h.8M141.4 371.6h.8M146.0 378.6h.8M153.4 389.3h.8M161.7 383.7h.8M141.0 372.3h.8M150.7 389.3h.8M173.4 387.2h.8M171.1 407.5h.8M137.4 399.5h.8M163.6 401.1h.8M149.9 396.5h.8M144.2 384.2h.8M150.2 406.4h.8M147.4 396.5h.8M150.8 376.5h.8M152.9 392.9h.8M141.5 392.6h.8M141.5 374.5h.8M152.6 382.2h.8M138.2 365.4h.8M150.3 387.9h.8M144.5 387.2h.8M131.7 389.7h.8M155.0 388.3h.8M142.6 386.0h.8M151.6 397.8h.8M153.3 388.0h.8M141.3 395.3h.8M164.1 379.1h.8M157.7 388.7h.8M149.4 369.6h.8M171.1 362.6h.8M153.6 380.5h.8M163.7 379.9h.8M150.5 392.3h.8M155.5 378.8h.8M158.2 389.7h.8M161.9 378.9h.8M149.4 380.3h.8M140.0 388.1h.8M154.9 402.0h.8M146.1 389.6h.8M163.7 383.6h.8M150.8 386.6h.8M141.7 373.2h.8M163.4 387.1h.8M149.1 370.1h.8M151.4 399.0h.8M136.2 374.3h.8M163.3 402.1h.8M168.6 378.4h.8M157.2 376.0h.8M156.2 380.6h.8M152.3 401.0h.8M154.0 382.1h.8M150.7 388.2h.8M143.9 387.5h.8M157.2 403.6h.8" stroke="#3350ff" stroke-width="0.8" opacity="0.55"/>
<path d="M148.2 374.1h.8M177.4 369.3h.8M159.0 375.9h.8M138.6 366.8h.8M133.2 369.1h.8M154.0 364.6h.8M160.7 363.9h.8M166.8 368.0h.8M161.0 385.6h.8M154.4 374.4h.8M151.4 376.7h.8M165.7 369.0h.8M165.9 379.2h.8M168.9 368.0h.8M157.6 375.7h.8M146.3 363.8h.8M161.8 372.0h.8M172.8 380.2h.8M160.6 371.1h.8M147.5 366.7h.8M160.1 366.4h.8M158.5 372.2h.8M150.5 364.1h.8M143.9 375.9h.8M164.1 366.5h.8M165.7 365.4h.8M174.8 372.9h.8M159.2 368.8h.8M156.4 373.6h.8M173.8 365.1h.8M149.4 372.1h.8M152.5 361.1h.8M162.4 371.5h.8M152.2 360.2h.8M163.1 366.9h.8M173.2 374.9h.8M153.4 366.1h.8M155.8 363.0h.8M158.6 374.7h.8M146.1 366.4h.8M169.8 373.1h.8M151.6 362.4h.8M167.1 368.5h.8M155.0 364.5h.8M171.6 364.8h.8M158.9 375.4h.8M163.3 366.8h.8M140.8 377.7h.8M162.7 365.0h.8M157.3 361.4h.8M161.9 371.6h.8M159.4 373.4h.8M162.2 368.8h.8M151.1 372.1h.8M167.3 372.3h.8M167.8 364.7h.8M150.3 376.6h.8M153.4 369.7h.8M156.5 368.2h.8M155.9 364.3h.8M144.0 381.1h.8M150.9 360.3h.8M162.5 379.3h.8M156.1 373.1h.8M162.7 359.5h.8M153.5 365.5h.8M167.9 368.8h.8M157.0 362.5h.8M158.7 368.3h.8M163.7 377.6h.8M163.8 368.1h.8M156.8 379.0h.8M159.6 367.9h.8M172.1 378.8h.8M162.5 367.3h.8M153.0 375.3h.8M154.5 374.6h.8M151.9 368.7h.8M161.2 369.0h.8M159.8 370.6h.8M149.2 360.4h.8M156.8 380.4h.8M157.0 361.7h.8M152.8 368.2h.8M167.3 364.1h.8M162.4 369.3h.8M155.2 361.5h.8M156.8 363.1h.8M166.8 373.2h.8M162.5 378.2h.8M158.4 371.1h.8M152.7 360.3h.8M161.4 371.5h.8M154.7 366.3h.8M154.0 364.1h.8M157.6 375.3h.8M145.4 365.7h.8M170.6 370.2h.8M159.2 373.7h.8M150.2 359.7h.8M159.9 373.8h.8M154.8 363.4h.8M161.2 372.2h.8M159.9 362.2h.8M152.9 378.3h.8M168.3 371.3h.8" stroke="#7a8cff" stroke-width="0.8" opacity="0.55"/>
<g filter="url(#jet)">
<ellipse cx="154" cy="395" rx="18" ry="15" fill="url(#gb)" opacity="0.36" transform="rotate(0 154 395)"/>
<ellipse cx="157.6" cy="391" rx="7" ry="6" fill="url(#gb)" opacity="0.46" transform="rotate(20 157.6 391)"/>
<ellipse cx="157.6" cy="391" rx="3" ry="2.5" fill="url(#gb)" opacity="0.66" transform="rotate(20 157.6 391)"/>
<ellipse cx="158" cy="368" rx="8" ry="7" fill="url(#gb)" opacity="0.14" transform="rotate(0 158 368)"/>
<ellipse cx="157" cy="381" rx="9" ry="3.5" fill="url(#gb)" opacity="0.26" transform="rotate(0 157 381)"/>
<ellipse cx="158" cy="403" rx="7" ry="8" fill="url(#gb)" opacity="0.17" transform="rotate(0 158 403)"/>
</g></g>
<rect x="130.50" y="358.40" width="53.00" height="53.10" fill="none" stroke="#8c8c8c" stroke-width="0.6" />
<line x1="134.74" y1="411.50" x2="134.74" y2="412.80" stroke="#444" stroke-width="0.5" />
<line x1="143.75" y1="411.50" x2="143.75" y2="412.80" stroke="#444" stroke-width="0.5" />
<line x1="155.94" y1="411.50" x2="155.94" y2="412.80" stroke="#444" stroke-width="0.5" />
<line x1="167.60" y1="411.50" x2="167.60" y2="412.80" stroke="#444" stroke-width="0.5" />
<line x1="179.79" y1="411.50" x2="179.79" y2="412.80" stroke="#444" stroke-width="0.5" />
<line x1="129.20" y1="362.65" x2="130.50" y2="362.65" stroke="#444" stroke-width="0.5" />
<line x1="129.20" y1="374.86" x2="130.50" y2="374.86" stroke="#444" stroke-width="0.5" />
<line x1="129.20" y1="386.54" x2="130.50" y2="386.54" stroke="#444" stroke-width="0.5" />
<line x1="129.20" y1="397.69" x2="130.50" y2="397.69" stroke="#444" stroke-width="0.5" />
<line x1="129.20" y1="408.85" x2="130.50" y2="408.85" stroke="#444" stroke-width="0.5" />
<line x1="130.5" y1="411.0" x2="183.5" y2="411.0" stroke="#666" stroke-width="0.7" stroke-dasharray="0.5 1.6"/>
<line x1="131.0" y1="358.4" x2="131.0" y2="411.5" stroke="#666" stroke-width="0.7" stroke-dasharray="0.5 1.6"/>
<text x="134.74" y="420.10" font-size="6.2" text-anchor="middle" fill="#231f20" style="stroke-width:0.12" textLength="7.6" lengthAdjust="spacingAndGlyphs">10<tspan font-size="3.84" dy="-2.60">1</tspan></text>
<text x="143.75" y="420.10" font-size="6.2" text-anchor="middle" fill="#231f20" style="stroke-width:0.12" textLength="7.6" lengthAdjust="spacingAndGlyphs">10<tspan font-size="3.84" dy="-2.60">2</tspan></text>
<text x="155.94" y="420.10" font-size="6.2" text-anchor="middle" fill="#231f20" style="stroke-width:0.12" textLength="7.6" lengthAdjust="spacingAndGlyphs">10<tspan font-size="3.84" dy="-2.60">3</tspan></text>
<text x="167.60" y="420.10" font-size="6.2" text-anchor="middle" fill="#231f20" style="stroke-width:0.12" textLength="7.6" lengthAdjust="spacingAndGlyphs">10<tspan font-size="3.84" dy="-2.60">4</tspan></text>
<text x="179.79" y="420.10" font-size="6.2" text-anchor="middle" fill="#231f20" style="stroke-width:0.12" textLength="7.6" lengthAdjust="spacingAndGlyphs">10<tspan font-size="3.84" dy="-2.60">5</tspan></text>
<text x="126.30" y="364.65" font-size="6.2" text-anchor="end" fill="#231f20" style="stroke-width:0.12" textLength="7.6" lengthAdjust="spacingAndGlyphs">10<tspan font-size="3.84" dy="-2.60">5</tspan></text>
<text x="126.30" y="376.86" font-size="6.2" text-anchor="end" fill="#231f20" style="stroke-width:0.12" textLength="7.6" lengthAdjust="spacingAndGlyphs">10<tspan font-size="3.84" dy="-2.60">4</tspan></text>
<text x="126.30" y="388.54" font-size="6.2" text-anchor="end" fill="#231f20" style="stroke-width:0.12" textLength="7.6" lengthAdjust="spacingAndGlyphs">10<tspan font-size="3.84" dy="-2.60">3</tspan></text>
<text x="126.30" y="399.69" font-size="6.2" text-anchor="end" fill="#231f20" style="stroke-width:0.12" textLength="7.6" lengthAdjust="spacingAndGlyphs">10<tspan font-size="3.84" dy="-2.60">2</tspan></text>
<text x="126.30" y="410.85" font-size="6.2" text-anchor="end" fill="#231f20" style="stroke-width:0.12" textLength="7.6" lengthAdjust="spacingAndGlyphs">10<tspan font-size="3.84" dy="-2.60">1</tspan></text>
<rect x="150.50" y="360.70" width="18.50" height="15.80" fill="none" stroke="#111" stroke-width="1.05" />
<rect x="150.50" y="376.50" width="18.50" height="9.00" fill="none" stroke="#111" stroke-width="1.05" />
<text x="177.50" y="368.00" font-size="6.6" text-anchor="middle" fill="#231f20" font-weight="normal" >1</text>
<text x="177.50" y="382.00" font-size="6.6" text-anchor="middle" fill="#231f20" font-weight="normal" >2</text>
<clipPath id="cp218_358"><rect x="218.5" y="358.4" width="53.0" height="53.10000000000002"/></clipPath>
<g clip-path="url(#cp218_358)">
<path d="M229.9 389.5h.8M224.0 387.6h.8M241.0 380.3h.8M223.5 389.4h.8M234.1 395.3h.8M221.4 386.9h.8M226.2 377.2h.8M228.5 383.8h.8M234.3 391.8h.8M222.7 388.7h.8M225.6 382.4h.8M224.7 397.3h.8M225.2 373.0h.8M222.7 395.1h.8M242.7 378.8h.8M225.6 385.1h.8M227.7 390.4h.8M243.2 385.7h.8M233.4 395.3h.8M223.7 382.8h.8M238.6 394.3h.8M229.0 378.4h.8M234.0 392.6h.8M243.0 400.9h.8M233.5 390.3h.8M228.4 383.2h.8M230.1 390.1h.8M232.4 397.5h.8M230.1 383.3h.8M233.5 401.6h.8M222.3 391.7h.8M231.7 392.7h.8M231.4 387.2h.8M227.3 402.8h.8M239.8 375.7h.8M223.4 383.5h.8M227.6 383.3h.8M234.1 409.3h.8M238.0 398.3h.8M225.2 393.8h.8M227.7 398.1h.8M232.0 387.7h.8M231.8 381.7h.8M233.4 401.2h.8M225.5 392.9h.8M234.0 379.1h.8M239.9 389.0h.8M233.9 385.6h.8M235.5 374.4h.8M227.3 396.5h.8M223.4 394.0h.8M225.6 391.0h.8M230.2 407.5h.8M219.6 394.8h.8M236.9 378.2h.8M228.6 408.2h.8M235.1 362.1h.8M226.4 373.1h.8M230.1 381.7h.8M224.2 380.7h.8M230.0 383.9h.8M221.9 386.0h.8M230.8 380.5h.8M235.6 373.5h.8M230.8 384.6h.8M238.7 382.4h.8M223.5 376.3h.8M241.5 393.4h.8M220.6 385.1h.8M221.5 401.3h.8M230.8 370.2h.8M229.4 396.0h.8M228.0 392.1h.8M227.3 389.8h.8M229.4 381.8h.8M230.4 389.4h.8M227.7 382.0h.8M221.1 390.2h.8M233.6 366.9h.8M224.4 399.8h.8M234.2 381.8h.8M237.2 379.4h.8M222.6 405.0h.8M225.0 386.1h.8M220.0 386.8h.8M225.6 382.7h.8M223.7 394.5h.8M238.4 384.4h.8M239.0 402.1h.8M237.1 390.6h.8M225.2 389.7h.8M229.6 379.8h.8M230.0 402.7h.8M229.6 382.0h.8M244.2 369.1h.8M221.7 391.6h.8M224.0 367.9h.8M229.8 395.3h.8M222.6 400.8h.8M231.4 398.4h.8M238.9 405.7h.8M237.0 388.0h.8M229.2 382.5h.8M235.5 381.9h.8M228.8 369.9h.8M228.4 389.9h.8M242.1 374.9h.8M224.4 386.2h.8M219.4 376.1h.8M219.6 393.6h.8M227.7 395.2h.8M220.6 393.2h.8M225.0 388.8h.8M234.4 388.3h.8M225.6 373.4h.8M228.4 394.9h.8M223.7 387.4h.8M230.8 399.4h.8M225.9 373.3h.8M225.4 374.2h.8M226.1 405.0h.8M230.1 386.7h.8M235.1 384.7h.8M230.3 389.8h.8M231.1 375.0h.8M232.9 395.8h.8M221.9 401.2h.8M228.1 394.0h.8M231.8 395.8h.8M223.6 382.8h.8M230.6 393.4h.8M231.9 391.0h.8M224.7 397.8h.8M231.2 397.4h.8M223.4 389.1h.8M224.7 385.3h.8M229.3 391.1h.8M222.5 365.6h.8M222.6 392.8h.8M222.2 391.8h.8M225.5 379.6h.8M236.1 402.7h.8M227.3 387.6h.8M234.6 376.2h.8M222.0 398.1h.8M234.2 383.6h.8M222.6 391.1h.8M226.4 366.1h.8M232.1 394.8h.8M235.4 375.2h.8M219.1 380.7h.8M219.0 406.3h.8M221.2 385.2h.8M229.4 392.1h.8M238.1 378.3h.8M234.1 389.3h.8M219.9 389.3h.8M222.9 397.0h.8M237.0 382.5h.8M221.8 389.2h.8M220.7 396.0h.8M229.2 381.2h.8M223.2 394.5h.8M222.5 386.2h.8M221.6 402.5h.8M233.7 399.6h.8M232.5 388.8h.8M239.8 393.9h.8M231.0 393.2h.8M233.1 390.5h.8M226.8 373.7h.8M242.3 376.4h.8M241.5 398.9h.8M223.8 390.4h.8M227.8 370.2h.8M225.7 390.6h.8M236.2 377.2h.8M230.3 388.7h.8" stroke="#3350ff" stroke-width="0.8" opacity="0.55"/>
<path d="M236.7 372.7h.8M234.2 365.2h.8M238.3 373.9h.8M238.9 378.2h.8M229.8 360.3h.8M227.1 382.7h.8M231.4 374.0h.8M235.9 375.6h.8M252.0 369.4h.8M235.2 369.0h.8M237.2 374.6h.8M231.2 378.6h.8M241.7 374.2h.8M235.4 370.8h.8M227.8 375.3h.8M231.1 369.5h.8M241.0 367.4h.8M233.4 376.3h.8M245.3 368.5h.8M241.5 368.7h.8M237.9 374.4h.8M230.3 377.1h.8M245.0 372.3h.8M237.3 366.1h.8M244.9 372.3h.8M229.6 375.8h.8M228.7 368.6h.8M225.3 378.9h.8M247.1 368.8h.8M232.7 369.1h.8M233.2 374.8h.8M243.3 367.0h.8M238.2 363.0h.8M243.6 371.6h.8M232.5 379.7h.8M235.5 378.8h.8M241.4 380.3h.8M232.0 372.3h.8M237.8 371.0h.8M243.6 368.4h.8M241.0 378.8h.8M226.2 367.2h.8M231.5 369.3h.8M238.0 371.1h.8M236.4 369.7h.8M235.6 374.4h.8M239.7 368.1h.8M235.4 368.2h.8M235.1 364.8h.8M240.8 375.4h.8M235.4 368.6h.8M233.7 368.7h.8M228.3 380.2h.8M252.4 365.9h.8M230.2 374.9h.8M239.0 364.1h.8M226.4 374.7h.8M226.0 379.1h.8M233.5 372.4h.8M236.0 369.2h.8" stroke="#7a8cff" stroke-width="0.8" opacity="0.55"/>
<g filter="url(#jet)">
<ellipse cx="233" cy="394" rx="10" ry="13" fill="url(#gb)" opacity="0.46" transform="rotate(30 233 394)"/>
<ellipse cx="235.5" cy="391" rx="5" ry="4" fill="url(#gb)" opacity="0.42" transform="rotate(35 235.5 391)"/>
<ellipse cx="236" cy="390.5" rx="2.2" ry="1.8" fill="url(#gb)" opacity="0.60" transform="rotate(35 236 390.5)"/>
<ellipse cx="240" cy="384" rx="2.5" ry="7" fill="url(#gb)" opacity="0.36" transform="rotate(35 240 384)"/>
<ellipse cx="237.5" cy="371.5" rx="3.5" ry="3.5" fill="url(#gb)" opacity="0.48" transform="rotate(0 237.5 371.5)"/>
<ellipse cx="234" cy="378" rx="5" ry="7" fill="url(#gb)" opacity="0.24" transform="rotate(20 234 378)"/>
</g></g>
<rect x="218.50" y="358.40" width="53.00" height="53.10" fill="none" stroke="#8c8c8c" stroke-width="0.6" />
<line x1="222.74" y1="411.50" x2="222.74" y2="412.80" stroke="#444" stroke-width="0.5" />
<line x1="231.75" y1="411.50" x2="231.75" y2="412.80" stroke="#444" stroke-width="0.5" />
<line x1="243.94" y1="411.50" x2="243.94" y2="412.80" stroke="#444" stroke-width="0.5" />
<line x1="255.60" y1="411.50" x2="255.60" y2="412.80" stroke="#444" stroke-width="0.5" />
<line x1="267.79" y1="411.50" x2="267.79" y2="412.80" stroke="#444" stroke-width="0.5" />
<line x1="217.20" y1="362.65" x2="218.50" y2="362.65" stroke="#444" stroke-width="0.5" />
<line x1="217.20" y1="374.86" x2="218.50" y2="374.86" stroke="#444" stroke-width="0.5" />
<line x1="217.20" y1="386.54" x2="218.50" y2="386.54" stroke="#444" stroke-width="0.5" />
<line x1="217.20" y1="397.69" x2="218.50" y2="397.69" stroke="#444" stroke-width="0.5" />
<line x1="217.20" y1="408.85" x2="218.50" y2="408.85" stroke="#444" stroke-width="0.5" />
<line x1="218.5" y1="411.0" x2="271.5" y2="411.0" stroke="#666" stroke-width="0.7" stroke-dasharray="0.5 1.6"/>
<line x1="219.0" y1="358.4" x2="219.0" y2="411.5" stroke="#666" stroke-width="0.7" stroke-dasharray="0.5 1.6"/>
<text x="222.74" y="420.10" font-size="6.2" text-anchor="middle" fill="#231f20" style="stroke-width:0.12" textLength="7.6" lengthAdjust="spacingAndGlyphs">10<tspan font-size="3.84" dy="-2.60">1</tspan></text>
<text x="231.75" y="420.10" font-size="6.2" text-anchor="middle" fill="#231f20" style="stroke-width:0.12" textLength="7.6" lengthAdjust="spacingAndGlyphs">10<tspan font-size="3.84" dy="-2.60">2</tspan></text>
<text x="243.94" y="420.10" font-size="6.2" text-anchor="middle" fill="#231f20" style="stroke-width:0.12" textLength="7.6" lengthAdjust="spacingAndGlyphs">10<tspan font-size="3.84" dy="-2.60">3</tspan></text>
<text x="255.60" y="420.10" font-size="6.2" text-anchor="middle" fill="#231f20" style="stroke-width:0.12" textLength="7.6" lengthAdjust="spacingAndGlyphs">10<tspan font-size="3.84" dy="-2.60">4</tspan></text>
<text x="267.79" y="420.10" font-size="6.2" text-anchor="middle" fill="#231f20" style="stroke-width:0.12" textLength="7.6" lengthAdjust="spacingAndGlyphs">10<tspan font-size="3.84" dy="-2.60">5</tspan></text>
<text x="214.30" y="364.65" font-size="6.2" text-anchor="end" fill="#231f20" style="stroke-width:0.12" textLength="7.6" lengthAdjust="spacingAndGlyphs">10<tspan font-size="3.84" dy="-2.60">5</tspan></text>
<text x="214.30" y="376.86" font-size="6.2" text-anchor="end" fill="#231f20" style="stroke-width:0.12" textLength="7.6" lengthAdjust="spacingAndGlyphs">10<tspan font-size="3.84" dy="-2.60">4</tspan></text>
<text x="214.30" y="388.54" font-size="6.2" text-anchor="end" fill="#231f20" style="stroke-width:0.12" textLength="7.6" lengthAdjust="spacingAndGlyphs">10<tspan font-size="3.84" dy="-2.60">3</tspan></text>
<text x="214.30" y="399.69" font-size="6.2" text-anchor="end" fill="#231f20" style="stroke-width:0.12" textLength="7.6" lengthAdjust="spacingAndGlyphs">10<tspan font-size="3.84" dy="-2.60">2</tspan></text>
<text x="214.30" y="410.85" font-size="6.2" text-anchor="end" fill="#231f20" style="stroke-width:0.12" textLength="7.6" lengthAdjust="spacingAndGlyphs">10<tspan font-size="3.84" dy="-2.60">1</tspan></text>
<rect x="247.20" y="370.40" width="23.10" height="31.80" fill="none" stroke="#111" stroke-width="1.05" />
<text x="259.00" y="366.00" font-size="6.6" text-anchor="middle" fill="#231f20" font-weight="normal" >3</text>
<clipPath id="cp292_358"><rect x="292.8" y="358.4" width="52.19999999999999" height="53.10000000000002"/></clipPath>
<g clip-path="url(#cp292_358)">
<path d="M303.6 387.0h.8M317.4 389.1h.8M304.7 384.7h.8M298.7 382.6h.8M305.1 408.4h.8M316.2 392.4h.8M321.7 400.1h.8M307.1 388.4h.8M294.0 392.5h.8M301.8 374.1h.8M307.1 395.0h.8M307.0 385.4h.8M309.6 400.8h.8M301.9 395.1h.8M315.3 385.2h.8M306.7 382.6h.8M311.0 386.3h.8M316.5 382.4h.8M321.9 386.9h.8M296.6 381.0h.8M311.6 381.4h.8M323.0 402.8h.8M310.2 375.8h.8M304.8 382.7h.8M327.0 384.6h.8M313.1 402.8h.8M295.4 386.6h.8M307.7 394.7h.8M293.5 392.2h.8M303.9 399.5h.8M300.0 386.8h.8M312.2 383.7h.8M332.4 382.9h.8M313.4 400.2h.8M314.6 388.0h.8M296.7 387.4h.8M311.7 391.2h.8M310.8 395.7h.8M296.2 380.6h.8M319.4 385.1h.8M296.7 380.7h.8M314.7 378.7h.8M296.3 400.5h.8M306.3 390.6h.8M298.6 387.8h.8M300.0 389.8h.8M312.7 377.3h.8M295.8 369.1h.8M320.0 389.3h.8M304.9 389.4h.8M315.0 393.2h.8M313.5 388.3h.8M303.8 389.4h.8M311.7 390.6h.8M313.1 407.1h.8M323.6 403.8h.8M302.7 410.5h.8M296.2 389.1h.8M315.0 387.9h.8M303.8 386.5h.8M318.6 365.3h.8M317.7 400.6h.8M304.3 395.6h.8M295.3 401.1h.8M335.6 380.8h.8M319.0 389.4h.8M301.6 385.1h.8M303.1 377.5h.8M304.8 395.5h.8M308.1 394.8h.8M311.3 400.0h.8M293.6 384.2h.8M294.3 396.5h.8M308.4 390.3h.8M298.5 393.4h.8M305.3 382.6h.8M308.3 383.4h.8M314.5 396.3h.8M298.1 395.9h.8M305.7 382.9h.8M295.9 373.4h.8M293.7 393.5h.8M317.1 383.7h.8M306.6 393.4h.8M312.8 394.4h.8M317.3 397.7h.8M297.4 394.0h.8M305.2 395.8h.8M302.0 398.3h.8M318.2 381.6h.8M299.6 392.6h.8M309.9 391.4h.8M313.3 378.2h.8M312.8 401.7h.8M316.1 394.3h.8M302.6 394.0h.8M304.3 374.1h.8M298.9 389.6h.8M299.8 380.7h.8M302.7 386.3h.8M305.7 389.5h.8M306.7 399.9h.8M306.4 394.1h.8M301.0 396.8h.8M301.6 383.8h.8M299.7 392.5h.8M316.3 395.4h.8M327.4 388.7h.8M314.6 396.9h.8M298.4 390.5h.8M299.4 379.8h.8M308.0 382.3h.8M321.8 382.6h.8M299.6 390.9h.8M299.8 390.5h.8M298.9 375.8h.8M320.2 394.4h.8M306.5 385.4h.8M303.5 393.0h.8M296.1 402.6h.8M294.4 401.7h.8M304.2 390.3h.8M318.5 398.7h.8M314.4 379.3h.8M316.4 406.8h.8M304.0 385.2h.8M294.1 400.2h.8M307.9 390.1h.8M313.8 389.8h.8M319.8 380.5h.8M313.8 380.0h.8M319.1 387.2h.8M317.2 385.8h.8M309.0 401.4h.8M296.0 391.0h.8M296.6 398.5h.8M299.0 386.3h.8M303.0 401.6h.8M294.6 389.7h.8M301.7 384.5h.8M297.1 388.4h.8M307.0 374.5h.8M307.3 378.2h.8M295.3 389.3h.8M302.5 399.8h.8M300.3 372.1h.8M307.5 400.7h.8M299.6 396.7h.8M294.4 403.0h.8M304.3 383.2h.8M306.8 407.4h.8M296.5 377.6h.8M294.8 378.4h.8M304.5 393.5h.8M303.4 392.0h.8M316.9 387.1h.8M307.4 383.2h.8M302.5 394.1h.8M309.6 374.3h.8M295.4 390.7h.8M303.6 401.5h.8M300.0 369.4h.8M316.7 373.6h.8M295.3 393.9h.8M307.4 395.4h.8M310.4 382.8h.8M317.5 373.1h.8M299.1 392.9h.8M306.4 380.4h.8M320.8 404.7h.8M295.7 393.7h.8M298.7 385.7h.8M314.9 391.3h.8M303.9 391.0h.8M293.3 402.2h.8M297.5 403.1h.8M300.4 385.4h.8M319.9 391.9h.8M298.6 384.6h.8M311.1 408.7h.8M311.1 386.1h.8M293.8 383.3h.8M303.8 392.4h.8M298.4 402.8h.8M295.4 382.9h.8M310.0 394.8h.8M301.1 399.6h.8M326.9 409.5h.8M306.2 409.7h.8M305.5 403.3h.8M303.0 391.9h.8M310.2 372.5h.8M302.9 407.2h.8M314.2 393.3h.8M306.9 403.9h.8M308.4 371.1h.8M295.6 387.0h.8M306.4 385.5h.8M304.0 406.7h.8M314.4 396.0h.8M305.2 390.6h.8M308.6 392.4h.8M297.8 397.8h.8M296.7 389.6h.8M301.4 378.5h.8M311.0 389.3h.8M293.4 389.2h.8M310.2 409.8h.8M299.3 397.0h.8M295.3 381.5h.8M304.1 394.1h.8M314.2 387.3h.8M316.0 399.6h.8M296.3 388.2h.8M295.9 407.0h.8M299.5 398.8h.8M314.1 387.5h.8M300.1 393.4h.8M297.3 377.4h.8M295.4 393.4h.8M306.9 407.6h.8M293.5 401.5h.8M311.9 391.3h.8" stroke="#3350ff" stroke-width="0.8" opacity="0.55"/>
<path d="M326.3 365.4h.8M312.3 360.7h.8M311.4 368.8h.8M320.7 376.9h.8M314.1 362.9h.8M313.7 365.0h.8M312.7 365.2h.8M309.9 367.6h.8M312.4 366.8h.8M306.4 369.0h.8M320.0 372.5h.8M312.2 360.1h.8M307.0 359.8h.8M311.5 365.8h.8M303.7 372.7h.8M305.3 363.2h.8M311.0 373.8h.8M328.8 365.5h.8M314.1 365.3h.8M314.6 366.8h.8M333.1 360.4h.8M315.2 362.5h.8M318.5 364.4h.8M320.0 360.5h.8M330.6 369.5h.8M303.7 372.9h.8M312.7 360.0h.8M319.1 364.4h.8M321.1 364.2h.8M322.3 369.0h.8M318.5 369.1h.8M313.5 365.5h.8M319.1 372.9h.8M313.2 383.5h.8M327.7 360.1h.8M323.5 367.5h.8M317.6 362.5h.8M327.4 362.3h.8M315.4 363.0h.8M329.4 376.7h.8M306.9 364.9h.8M318.5 365.0h.8M313.6 360.6h.8M317.7 360.5h.8M321.8 384.5h.8M313.7 379.3h.8M318.6 363.4h.8M313.6 361.4h.8M316.8 372.8h.8M322.4 366.1h.8M307.8 367.5h.8M327.6 369.9h.8M313.0 371.8h.8M309.5 377.3h.8M312.1 362.0h.8M312.0 367.4h.8M322.9 364.1h.8M303.7 367.5h.8M319.6 378.6h.8M308.3 378.2h.8M320.7 371.1h.8M310.7 362.0h.8M309.4 374.4h.8M317.5 375.4h.8M328.5 368.1h.8M315.7 381.2h.8M307.0 364.9h.8M313.5 365.4h.8M317.0 362.3h.8M324.0 358.7h.8M306.3 372.1h.8M320.3 366.7h.8M321.8 372.3h.8M312.0 367.8h.8M318.5 381.8h.8M313.0 370.6h.8M319.8 376.4h.8M318.9 375.4h.8M308.7 366.2h.8M302.7 367.7h.8M332.1 369.7h.8M316.6 369.9h.8M317.0 359.0h.8M311.2 366.8h.8M317.2 362.1h.8M315.3 363.0h.8M306.9 363.5h.8M310.5 373.8h.8M325.2 372.0h.8M314.5 364.2h.8M305.2 364.4h.8M326.8 375.9h.8M317.5 366.4h.8M316.0 370.9h.8M315.9 371.0h.8M310.7 368.4h.8M313.6 375.4h.8M307.5 376.9h.8" stroke="#7a8cff" stroke-width="0.8" opacity="0.55"/>
<path d="M329.5 381.1h.8M330.1 386.0h.8M328.6 388.4h.8M326.6 371.8h.8M334.1 384.9h.8M339.8 388.1h.8M318.2 394.7h.8M325.9 389.3h.8M343.1 393.6h.8M323.6 384.3h.8M320.5 390.3h.8M333.3 377.1h.8M332.7 392.4h.8M334.8 379.8h.8M325.9 376.3h.8M322.4 387.5h.8M330.2 395.2h.8M331.6 382.5h.8M321.6 397.1h.8M331.0 384.8h.8M324.1 376.9h.8M333.7 377.5h.8M333.4 390.0h.8M327.8 372.4h.8M332.4 396.0h.8" stroke="#7a8cff" stroke-width="0.8" opacity="0.55"/>
<g filter="url(#jet)">
<ellipse cx="308" cy="393" rx="10" ry="16" fill="url(#gb)" opacity="0.46" transform="rotate(30 308 393)"/>
<ellipse cx="311" cy="389" rx="4" ry="8" fill="url(#gb)" opacity="0.42" transform="rotate(40 311 389)"/>
<ellipse cx="311" cy="390" rx="2" ry="4" fill="url(#gb)" opacity="0.60" transform="rotate(40 311 390)"/>
<ellipse cx="318" cy="379" rx="2.5" ry="9" fill="url(#gb)" opacity="0.36" transform="rotate(50 318 379)"/>
<ellipse cx="315.5" cy="370" rx="8" ry="9" fill="url(#gb)" opacity="0.17" transform="rotate(20 315.5 370)"/>
<ellipse cx="313" cy="366" rx="4" ry="4" fill="url(#gb)" opacity="0.12" transform="rotate(0 313 366)"/>
</g></g>
<rect x="292.80" y="358.40" width="52.20" height="53.10" fill="none" stroke="#8c8c8c" stroke-width="0.6" />
<line x1="296.98" y1="411.50" x2="296.98" y2="412.80" stroke="#444" stroke-width="0.5" />
<line x1="305.85" y1="411.50" x2="305.85" y2="412.80" stroke="#444" stroke-width="0.5" />
<line x1="317.86" y1="411.50" x2="317.86" y2="412.80" stroke="#444" stroke-width="0.5" />
<line x1="329.34" y1="411.50" x2="329.34" y2="412.80" stroke="#444" stroke-width="0.5" />
<line x1="341.35" y1="411.50" x2="341.35" y2="412.80" stroke="#444" stroke-width="0.5" />
<line x1="291.50" y1="362.65" x2="292.80" y2="362.65" stroke="#444" stroke-width="0.5" />
<line x1="291.50" y1="374.86" x2="292.80" y2="374.86" stroke="#444" stroke-width="0.5" />
<line x1="291.50" y1="386.54" x2="292.80" y2="386.54" stroke="#444" stroke-width="0.5" />
<line x1="291.50" y1="397.69" x2="292.80" y2="397.69" stroke="#444" stroke-width="0.5" />
<line x1="291.50" y1="408.85" x2="292.80" y2="408.85" stroke="#444" stroke-width="0.5" />
<line x1="292.8" y1="411.0" x2="345" y2="411.0" stroke="#666" stroke-width="0.7" stroke-dasharray="0.5 1.6"/>
<line x1="293.3" y1="358.4" x2="293.3" y2="411.5" stroke="#666" stroke-width="0.7" stroke-dasharray="0.5 1.6"/>
<text x="296.98" y="420.10" font-size="6.2" text-anchor="middle" fill="#231f20" style="stroke-width:0.12" textLength="7.6" lengthAdjust="spacingAndGlyphs">10<tspan font-size="3.84" dy="-2.60">1</tspan></text>
<text x="305.85" y="420.10" font-size="6.2" text-anchor="middle" fill="#231f20" style="stroke-width:0.12" textLength="7.6" lengthAdjust="spacingAndGlyphs">10<tspan font-size="3.84" dy="-2.60">2</tspan></text>
<text x="317.86" y="420.10" font-size="6.2" text-anchor="middle" fill="#231f20" style="stroke-width:0.12" textLength="7.6" lengthAdjust="spacingAndGlyphs">10<tspan font-size="3.84" dy="-2.60">3</tspan></text>
<text x="329.34" y="420.10" font-size="6.2" text-anchor="middle" fill="#231f20" style="stroke-width:0.12" textLength="7.6" lengthAdjust="spacingAndGlyphs">10<tspan font-size="3.84" dy="-2.60">4</tspan></text>
<text x="341.35" y="420.10" font-size="6.2" text-anchor="middle" fill="#231f20" style="stroke-width:0.12" textLength="7.6" lengthAdjust="spacingAndGlyphs">10<tspan font-size="3.84" dy="-2.60">5</tspan></text>
<text x="288.60" y="364.65" font-size="6.2" text-anchor="end" fill="#231f20" style="stroke-width:0.12" textLength="7.6" lengthAdjust="spacingAndGlyphs">10<tspan font-size="3.84" dy="-2.60">5</tspan></text>
<text x="288.60" y="376.86" font-size="6.2" text-anchor="end" fill="#231f20" style="stroke-width:0.12" textLength="7.6" lengthAdjust="spacingAndGlyphs">10<tspan font-size="3.84" dy="-2.60">4</tspan></text>
<text x="288.60" y="388.54" font-size="6.2" text-anchor="end" fill="#231f20" style="stroke-width:0.12" textLength="7.6" lengthAdjust="spacingAndGlyphs">10<tspan font-size="3.84" dy="-2.60">3</tspan></text>
<text x="288.60" y="399.69" font-size="6.2" text-anchor="end" fill="#231f20" style="stroke-width:0.12" textLength="7.6" lengthAdjust="spacingAndGlyphs">10<tspan font-size="3.84" dy="-2.60">2</tspan></text>
<text x="288.60" y="410.85" font-size="6.2" text-anchor="end" fill="#231f20" style="stroke-width:0.12" textLength="7.6" lengthAdjust="spacingAndGlyphs">10<tspan font-size="3.84" dy="-2.60">1</tspan></text>
<rect x="321.20" y="370.40" width="22.30" height="31.80" fill="none" stroke="#111" stroke-width="1.05" />
<text x="333.00" y="366.00" font-size="6.6" text-anchor="middle" fill="#231f20" font-weight="normal" >3</text>
<line x1="423.00" y1="189.50" x2="423.00" y2="259.40" stroke="#1a1a1a" stroke-width="1.1" />
<line x1="420.00" y1="258.90" x2="423.00" y2="258.90" stroke="#1a1a1a" stroke-width="1" />
<text x="417.00" y="261.90" font-size="8.5" text-anchor="end" fill="#231f20" font-weight="normal" >0</text>
<line x1="420.00" y1="241.77" x2="423.00" y2="241.77" stroke="#1a1a1a" stroke-width="1" />
<text x="417.00" y="244.77" font-size="8.5" text-anchor="end" fill="#231f20" font-weight="normal" >2.5</text>
<line x1="420.00" y1="224.65" x2="423.00" y2="224.65" stroke="#1a1a1a" stroke-width="1" />
<text x="417.00" y="227.65" font-size="8.5" text-anchor="end" fill="#231f20" font-weight="normal" >5</text>
<line x1="420.00" y1="207.52" x2="423.00" y2="207.52" stroke="#1a1a1a" stroke-width="1" />
<text x="417.00" y="210.52" font-size="8.5" text-anchor="end" fill="#231f20" font-weight="normal" >7.5</text>
<line x1="420.00" y1="190.40" x2="423.00" y2="190.40" stroke="#1a1a1a" stroke-width="1" />
<text x="417.00" y="193.40" font-size="8.5" text-anchor="end" fill="#231f20" font-weight="normal" >10</text>
<line x1="422.50" y1="258.90" x2="512.40" y2="258.90" stroke="#1a1a1a" stroke-width="1.1" />
<line x1="432.80" y1="258.90" x2="432.80" y2="261.40" stroke="#1a1a1a" stroke-width="1" />
<line x1="446.35" y1="258.90" x2="446.35" y2="261.40" stroke="#1a1a1a" stroke-width="1" />
<line x1="461.10" y1="258.90" x2="461.10" y2="261.40" stroke="#1a1a1a" stroke-width="1" />
<line x1="475.00" y1="258.90" x2="475.00" y2="261.40" stroke="#1a1a1a" stroke-width="1" />
<line x1="488.85" y1="258.90" x2="488.85" y2="261.40" stroke="#1a1a1a" stroke-width="1" />
<line x1="502.45" y1="258.90" x2="502.45" y2="261.40" stroke="#1a1a1a" stroke-width="1" />
<text x="439.20" y="272.00" font-size="8.8" text-anchor="middle" fill="#231f20" font-weight="normal" >P1</text>
<text x="467.70" y="272.00" font-size="8.8" text-anchor="middle" fill="#231f20" font-weight="normal" >P2</text>
<text x="495.40" y="272.00" font-size="8.8" text-anchor="middle" fill="#231f20" font-weight="normal" >P3</text>
<line x1="432.80" y1="255.13" x2="432.80" y2="252.05" stroke="#3b5a9a" stroke-width="1" />
<line x1="432.80" y1="258.56" x2="432.80" y2="258.90" stroke="#3b5a9a" stroke-width="1" />
<line x1="430.60" y1="252.05" x2="435.00" y2="252.05" stroke="#3b5a9a" stroke-width="1" />
<line x1="430.60" y1="258.90" x2="435.00" y2="258.90" stroke="#3b5a9a" stroke-width="1" />
<rect x="428.20" y="255.13" width="9.20" height="3.43" fill="#fff" stroke="#3b5a9a" stroke-width="1.05" />
<line x1="428.20" y1="257.19" x2="437.40" y2="257.19" stroke="#3b5a9a" stroke-width="1.05" />
<line x1="446.35" y1="241.77" x2="446.35" y2="231.50" stroke="#c1304c" stroke-width="1" />
<line x1="446.35" y1="253.42" x2="446.35" y2="258.21" stroke="#c1304c" stroke-width="1" />
<line x1="444.15" y1="231.50" x2="448.55" y2="231.50" stroke="#c1304c" stroke-width="1" />
<line x1="444.15" y1="258.21" x2="448.55" y2="258.21" stroke="#c1304c" stroke-width="1" />
<rect x="441.50" y="241.77" width="9.70" height="11.65" fill="#fff" stroke="#c1304c" stroke-width="1.05" />
<line x1="441.50" y1="247.94" x2="451.20" y2="247.94" stroke="#c1304c" stroke-width="1.05" />
<line x1="461.15" y1="258.49" x2="461.15" y2="258.35" stroke="#3b5a9a" stroke-width="1" />
<line x1="461.15" y1="258.90" x2="461.15" y2="258.90" stroke="#3b5a9a" stroke-width="1" />
<line x1="458.95" y1="258.35" x2="463.35" y2="258.35" stroke="#3b5a9a" stroke-width="1" />
<line x1="458.95" y1="258.90" x2="463.35" y2="258.90" stroke="#3b5a9a" stroke-width="1" />
<rect x="456.50" y="258.49" width="9.30" height="0.41" fill="#fff" stroke="#3b5a9a" stroke-width="1.05" />
<line x1="456.50" y1="258.76" x2="465.80" y2="258.76" stroke="#3b5a9a" stroke-width="1.05" />
<line x1="475.00" y1="246.57" x2="475.00" y2="243.83" stroke="#c1304c" stroke-width="1" />
<line x1="475.00" y1="256.84" x2="475.00" y2="257.53" stroke="#c1304c" stroke-width="1" />
<line x1="472.80" y1="243.83" x2="477.20" y2="243.83" stroke="#c1304c" stroke-width="1" />
<line x1="472.80" y1="257.53" x2="477.20" y2="257.53" stroke="#c1304c" stroke-width="1" />
<rect x="470.40" y="246.57" width="9.20" height="10.28" fill="#fff" stroke="#c1304c" stroke-width="1.05" />
<line x1="470.40" y1="252.73" x2="479.60" y2="252.73" stroke="#c1304c" stroke-width="1.05" />
<line x1="488.85" y1="241.77" x2="488.85" y2="239.03" stroke="#3b5a9a" stroke-width="1" />
<line x1="488.85" y1="256.16" x2="488.85" y2="256.84" stroke="#3b5a9a" stroke-width="1" />
<line x1="486.65" y1="239.03" x2="491.05" y2="239.03" stroke="#3b5a9a" stroke-width="1" />
<line x1="486.65" y1="256.84" x2="491.05" y2="256.84" stroke="#3b5a9a" stroke-width="1" />
<rect x="484.20" y="241.77" width="9.30" height="14.38" fill="#fff" stroke="#3b5a9a" stroke-width="1.05" />
<line x1="484.20" y1="251.36" x2="493.50" y2="251.36" stroke="#3b5a9a" stroke-width="1.05" />
<line x1="502.45" y1="245.20" x2="502.45" y2="241.77" stroke="#c1304c" stroke-width="1" />
<line x1="502.45" y1="257.53" x2="502.45" y2="258.21" stroke="#c1304c" stroke-width="1" />
<line x1="500.25" y1="241.77" x2="504.65" y2="241.77" stroke="#c1304c" stroke-width="1" />
<line x1="500.25" y1="258.21" x2="504.65" y2="258.21" stroke="#c1304c" stroke-width="1" />
<rect x="497.60" y="245.20" width="9.70" height="12.33" fill="#fff" stroke="#c1304c" stroke-width="1.05" />
<line x1="497.60" y1="256.50" x2="507.30" y2="256.50" stroke="#c1304c" stroke-width="1.05" />
<path d="M432.3,229.3 L432.3,227.3 L446.8,227.3 L446.8,229.3" stroke="#1a1a1a" stroke-width="1" fill="none" />
<text x="439.50" y="227.20" font-size="9.5" text-anchor="middle" fill="#231f20" font-weight="normal" >*</text>
<rect x="473.40" y="190.40" width="8.60" height="3.90" fill="none" stroke="#3b5a9a" stroke-width="1.05" />
<rect x="473.40" y="202.60" width="8.60" height="3.90" fill="none" stroke="#c1304c" stroke-width="1.05" />
<text x="484.70" y="194.90" font-size="8" text-anchor="start" fill="#231f20" font-weight="normal" textLength="27.4" lengthAdjust="spacingAndGlyphs" >Control</text>
<text x="484.70" y="206.90" font-size="8" text-anchor="start" fill="#231f20" font-weight="normal" textLength="25" lengthAdjust="spacingAndGlyphs" >D816V</text>
<text x="0" y="0" font-size="8.5" text-anchor="middle" fill="#231f20" transform="translate(383.8 224.5) rotate(-90)">CD45<tspan font-size="5.6" dy="-3.2">+</tspan><tspan dy="3.2">/KIT</tspan><tspan font-size="5.6" dy="-3.2">high</tspan></text>
<text x="0" y="0" font-size="8.8" text-anchor="middle" fill="#231f20" transform="translate(398.80 223.60) rotate(-90)" textLength="54" lengthAdjust="spacingAndGlyphs">population (%)</text>
<line x1="422.40" y1="297.80" x2="422.40" y2="369.40" stroke="#1a1a1a" stroke-width="1.1" />
<line x1="419.40" y1="368.90" x2="422.40" y2="368.90" stroke="#1a1a1a" stroke-width="1" />
<text x="415.60" y="371.90" font-size="8.5" text-anchor="end" fill="#231f20" font-weight="normal" >0</text>
<line x1="419.40" y1="346.07" x2="422.40" y2="346.07" stroke="#1a1a1a" stroke-width="1" />
<text x="415.60" y="349.07" font-size="8.5" text-anchor="end" fill="#231f20" font-weight="normal" >25</text>
<line x1="419.40" y1="323.23" x2="422.40" y2="323.23" stroke="#1a1a1a" stroke-width="1" />
<text x="415.60" y="326.23" font-size="8.5" text-anchor="end" fill="#231f20" font-weight="normal" >50</text>
<line x1="419.40" y1="300.40" x2="422.40" y2="300.40" stroke="#1a1a1a" stroke-width="1" />
<text x="415.60" y="303.40" font-size="8.5" text-anchor="end" fill="#231f20" font-weight="normal" >75</text>
<line x1="422.00" y1="368.90" x2="512.00" y2="368.90" stroke="#1a1a1a" stroke-width="1.1" />
<line x1="429.40" y1="368.90" x2="429.40" y2="371.40" stroke="#1a1a1a" stroke-width="1" />
<line x1="444.60" y1="368.90" x2="444.60" y2="371.40" stroke="#1a1a1a" stroke-width="1" />
<line x1="459.60" y1="368.90" x2="459.60" y2="371.40" stroke="#1a1a1a" stroke-width="1" />
<line x1="474.40" y1="368.90" x2="474.40" y2="371.40" stroke="#1a1a1a" stroke-width="1" />
<line x1="489.40" y1="368.90" x2="489.40" y2="371.40" stroke="#1a1a1a" stroke-width="1" />
<line x1="504.40" y1="368.90" x2="504.40" y2="371.40" stroke="#1a1a1a" stroke-width="1" />
<text x="429.40" y="382.20" font-size="8.8" text-anchor="middle" fill="#231f20" font-weight="normal" >P1</text>
<text x="444.60" y="382.20" font-size="8.8" text-anchor="middle" fill="#231f20" font-weight="normal" >P2</text>
<text x="459.60" y="382.20" font-size="8.8" text-anchor="middle" fill="#231f20" font-weight="normal" >P3</text>
<text x="474.40" y="382.20" font-size="8.8" text-anchor="middle" fill="#231f20" font-weight="normal" >P1</text>
<text x="489.40" y="382.20" font-size="8.8" text-anchor="middle" fill="#231f20" font-weight="normal" >P2</text>
<text x="504.40" y="382.20" font-size="8.8" text-anchor="middle" fill="#231f20" font-weight="normal" >P3</text>
<line x1="429.40" y1="352.46" x2="429.40" y2="348.81" stroke="#3b5a9a" stroke-width="1" />
<line x1="429.40" y1="359.77" x2="429.40" y2="365.25" stroke="#3b5a9a" stroke-width="1" />
<line x1="427.20" y1="348.81" x2="431.60" y2="348.81" stroke="#3b5a9a" stroke-width="1" />
<line x1="427.20" y1="365.25" x2="431.60" y2="365.25" stroke="#3b5a9a" stroke-width="1" />
<rect x="424.20" y="352.46" width="10.40" height="7.31" fill="#fff" stroke="#3b5a9a" stroke-width="1.05" />
<line x1="424.20" y1="357.03" x2="434.60" y2="357.03" stroke="#3b5a9a" stroke-width="1.05" />
<line x1="444.65" y1="310.45" x2="444.65" y2="304.97" stroke="#3b5a9a" stroke-width="1" />
<line x1="444.65" y1="347.89" x2="444.65" y2="350.63" stroke="#3b5a9a" stroke-width="1" />
<line x1="442.45" y1="304.97" x2="446.85" y2="304.97" stroke="#3b5a9a" stroke-width="1" />
<line x1="442.45" y1="350.63" x2="446.85" y2="350.63" stroke="#3b5a9a" stroke-width="1" />
<rect x="439.70" y="310.45" width="9.90" height="37.45" fill="#fff" stroke="#3b5a9a" stroke-width="1.05" />
<line x1="439.70" y1="334.19" x2="449.60" y2="334.19" stroke="#3b5a9a" stroke-width="1.05" />
<line x1="459.65" y1="363.42" x2="459.65" y2="362.51" stroke="#3b5a9a" stroke-width="1" />
<line x1="459.65" y1="366.16" x2="459.65" y2="366.62" stroke="#3b5a9a" stroke-width="1" />
<line x1="457.45" y1="362.51" x2="461.85" y2="362.51" stroke="#3b5a9a" stroke-width="1" />
<line x1="457.45" y1="366.62" x2="461.85" y2="366.62" stroke="#3b5a9a" stroke-width="1" />
<rect x="454.70" y="363.42" width="9.90" height="2.74" fill="#fff" stroke="#3b5a9a" stroke-width="1.05" />
<line x1="454.70" y1="365.25" x2="464.60" y2="365.25" stroke="#3b5a9a" stroke-width="1.05" />
<line x1="474.40" y1="356.11" x2="474.40" y2="337.85" stroke="#c1304c" stroke-width="1" />
<line x1="474.40" y1="361.59" x2="474.40" y2="365.25" stroke="#c1304c" stroke-width="1" />
<line x1="472.20" y1="337.85" x2="476.60" y2="337.85" stroke="#c1304c" stroke-width="1" />
<line x1="472.20" y1="365.25" x2="476.60" y2="365.25" stroke="#c1304c" stroke-width="1" />
<rect x="469.20" y="356.11" width="10.40" height="5.48" fill="#fff" stroke="#c1304c" stroke-width="1.05" />
<line x1="469.20" y1="358.40" x2="479.60" y2="358.40" stroke="#c1304c" stroke-width="1.05" />
<line x1="489.40" y1="320.50" x2="489.40" y2="310.45" stroke="#c1304c" stroke-width="1" />
<line x1="489.40" y1="350.63" x2="489.40" y2="352.46" stroke="#c1304c" stroke-width="1" />
<line x1="487.20" y1="310.45" x2="491.60" y2="310.45" stroke="#c1304c" stroke-width="1" />
<line x1="487.20" y1="352.46" x2="491.60" y2="352.46" stroke="#c1304c" stroke-width="1" />
<rect x="484.20" y="320.50" width="10.40" height="30.14" fill="#fff" stroke="#c1304c" stroke-width="1.05" />
<line x1="484.20" y1="336.02" x2="494.60" y2="336.02" stroke="#c1304c" stroke-width="1.05" />
<line x1="504.40" y1="366.16" x2="504.40" y2="365.25" stroke="#c1304c" stroke-width="1" />
<line x1="504.40" y1="367.99" x2="504.40" y2="368.44" stroke="#c1304c" stroke-width="1" />
<line x1="502.20" y1="365.25" x2="506.60" y2="365.25" stroke="#c1304c" stroke-width="1" />
<line x1="502.20" y1="368.44" x2="506.60" y2="368.44" stroke="#c1304c" stroke-width="1" />
<rect x="499.20" y="366.16" width="10.40" height="1.83" fill="#fff" stroke="#c1304c" stroke-width="1.05" />
<line x1="499.20" y1="367.07" x2="509.60" y2="367.07" stroke="#c1304c" stroke-width="1.05" />
<path d="M429.4,303.5 L429.4,301.5 L444.6,301.5 L444.6,303.5" stroke="#1a1a1a" stroke-width="1" fill="none" />
<path d="M444.6,303.5 L444.6,301.5 L459.6,301.5 L459.6,303.5" stroke="#1a1a1a" stroke-width="1" fill="none" />
<path d="M474.4,308.6 L474.4,306.6 L489.4,306.6 L489.4,308.6" stroke="#1a1a1a" stroke-width="1" fill="none" />
<path d="M489.4,308.6 L489.4,306.6 L504.4,306.6 L504.4,308.6" stroke="#1a1a1a" stroke-width="1" fill="none" />
<text x="436.80" y="301.00" font-size="9.5" text-anchor="middle" fill="#231f20" font-weight="normal" >*</text>
<text x="452.00" y="301.00" font-size="9.5" text-anchor="middle" fill="#231f20" font-weight="normal" >*</text>
<text x="481.80" y="306.20" font-size="9.5" text-anchor="middle" fill="#231f20" font-weight="normal" >*</text>
<text x="496.80" y="306.20" font-size="9.5" text-anchor="middle" fill="#231f20" font-weight="normal" >*</text>
<text x="0" y="0" font-size="8.4" text-anchor="middle" fill="#231f20" transform="translate(386.6 334.4) rotate(-90)">CD45<tspan font-size="5.6" dy="-3.2">+</tspan><tspan dy="3.2">/KIT</tspan><tspan font-size="5.6" dy="-3.2">+</tspan></text>
<text x="0" y="0" font-size="8.8" text-anchor="middle" fill="#231f20" transform="translate(399.80 333.10) rotate(-90)" textLength="53.8" lengthAdjust="spacingAndGlyphs">population (%)</text>
<line x1="421.90" y1="407.50" x2="421.90" y2="478.60" stroke="#1a1a1a" stroke-width="1.1" />
<line x1="418.90" y1="478.10" x2="421.90" y2="478.10" stroke="#1a1a1a" stroke-width="1" />
<text x="415.60" y="481.10" font-size="8.5" text-anchor="end" fill="#231f20" font-weight="normal" >0</text>
<line x1="418.90" y1="460.95" x2="421.90" y2="460.95" stroke="#1a1a1a" stroke-width="1" />
<text x="415.60" y="463.95" font-size="8.5" text-anchor="end" fill="#231f20" font-weight="normal" >15</text>
<line x1="418.90" y1="443.80" x2="421.90" y2="443.80" stroke="#1a1a1a" stroke-width="1" />
<text x="415.60" y="446.80" font-size="8.5" text-anchor="end" fill="#231f20" font-weight="normal" >30</text>
<line x1="418.90" y1="426.65" x2="421.90" y2="426.65" stroke="#1a1a1a" stroke-width="1" />
<text x="415.60" y="429.65" font-size="8.5" text-anchor="end" fill="#231f20" font-weight="normal" >45</text>
<line x1="418.90" y1="409.50" x2="421.90" y2="409.50" stroke="#1a1a1a" stroke-width="1" />
<text x="415.60" y="412.50" font-size="8.5" text-anchor="end" fill="#231f20" font-weight="normal" >60</text>
<line x1="421.50" y1="478.10" x2="512.00" y2="478.10" stroke="#1a1a1a" stroke-width="1.1" />
<line x1="429.40" y1="478.10" x2="429.40" y2="480.60" stroke="#1a1a1a" stroke-width="1" />
<line x1="444.65" y1="478.10" x2="444.65" y2="480.60" stroke="#1a1a1a" stroke-width="1" />
<line x1="459.65" y1="478.10" x2="459.65" y2="480.60" stroke="#1a1a1a" stroke-width="1" />
<line x1="474.40" y1="478.10" x2="474.40" y2="480.60" stroke="#1a1a1a" stroke-width="1" />
<line x1="489.40" y1="478.10" x2="489.40" y2="480.60" stroke="#1a1a1a" stroke-width="1" />
<line x1="504.40" y1="478.10" x2="504.40" y2="480.60" stroke="#1a1a1a" stroke-width="1" />
<text x="437.00" y="491.80" font-size="8.8" text-anchor="middle" fill="#231f20" font-weight="normal" >P1</text>
<text x="467.00" y="491.80" font-size="8.8" text-anchor="middle" fill="#231f20" font-weight="normal" >P2</text>
<text x="497.00" y="491.80" font-size="8.8" text-anchor="middle" fill="#231f20" font-weight="normal" >P3</text>
<line x1="429.40" y1="475.24" x2="429.40" y2="472.38" stroke="#3b5a9a" stroke-width="1" />
<line x1="429.40" y1="477.53" x2="429.40" y2="478.10" stroke="#3b5a9a" stroke-width="1" />
<line x1="427.20" y1="472.38" x2="431.60" y2="472.38" stroke="#3b5a9a" stroke-width="1" />
<line x1="427.20" y1="478.10" x2="431.60" y2="478.10" stroke="#3b5a9a" stroke-width="1" />
<rect x="424.20" y="475.24" width="10.40" height="2.29" fill="#fff" stroke="#3b5a9a" stroke-width="1.05" />
<line x1="424.20" y1="476.39" x2="434.60" y2="476.39" stroke="#3b5a9a" stroke-width="1.05" />
<line x1="444.65" y1="432.37" x2="444.65" y2="418.65" stroke="#c1304c" stroke-width="1" />
<line x1="444.65" y1="466.67" x2="444.65" y2="473.53" stroke="#c1304c" stroke-width="1" />
<line x1="442.45" y1="418.65" x2="446.85" y2="418.65" stroke="#c1304c" stroke-width="1" />
<line x1="442.45" y1="473.53" x2="446.85" y2="473.53" stroke="#c1304c" stroke-width="1" />
<rect x="439.70" y="432.37" width="9.90" height="34.30" fill="#fff" stroke="#c1304c" stroke-width="1.05" />
<line x1="439.70" y1="450.66" x2="449.60" y2="450.66" stroke="#c1304c" stroke-width="1.05" />
<line x1="459.65" y1="468.95" x2="459.65" y2="466.67" stroke="#3b5a9a" stroke-width="1" />
<line x1="459.65" y1="477.53" x2="459.65" y2="478.10" stroke="#3b5a9a" stroke-width="1" />
<line x1="457.45" y1="466.67" x2="461.85" y2="466.67" stroke="#3b5a9a" stroke-width="1" />
<line x1="457.45" y1="478.10" x2="461.85" y2="478.10" stroke="#3b5a9a" stroke-width="1" />
<rect x="454.70" y="468.95" width="9.90" height="8.57" fill="#fff" stroke="#3b5a9a" stroke-width="1.05" />
<line x1="454.70" y1="476.96" x2="464.60" y2="476.96" stroke="#3b5a9a" stroke-width="1.05" />
<line x1="474.40" y1="475.81" x2="474.40" y2="468.95" stroke="#c1304c" stroke-width="1" />
<line x1="474.40" y1="478.10" x2="474.40" y2="478.10" stroke="#c1304c" stroke-width="1" />
<line x1="472.20" y1="468.95" x2="476.60" y2="468.95" stroke="#c1304c" stroke-width="1" />
<line x1="472.20" y1="478.10" x2="476.60" y2="478.10" stroke="#c1304c" stroke-width="1" />
<rect x="469.20" y="475.81" width="10.40" height="2.29" fill="#fff" stroke="#c1304c" stroke-width="1.05" />
<line x1="469.20" y1="477.53" x2="479.60" y2="477.53" stroke="#c1304c" stroke-width="1.05" />
<line x1="489.40" y1="477.41" x2="489.40" y2="476.39" stroke="#3b5a9a" stroke-width="1" />
<line x1="489.40" y1="478.10" x2="489.40" y2="478.10" stroke="#3b5a9a" stroke-width="1" />
<line x1="487.20" y1="476.39" x2="491.60" y2="476.39" stroke="#3b5a9a" stroke-width="1" />
<line x1="487.20" y1="478.10" x2="491.60" y2="478.10" stroke="#3b5a9a" stroke-width="1" />
<rect x="484.20" y="477.41" width="10.40" height="0.69" fill="#fff" stroke="#3b5a9a" stroke-width="1.05" />
<line x1="484.20" y1="477.87" x2="494.60" y2="477.87" stroke="#3b5a9a" stroke-width="1.05" />
<line x1="504.40" y1="474.90" x2="504.40" y2="472.38" stroke="#c1304c" stroke-width="1" />
<line x1="504.40" y1="477.53" x2="504.40" y2="478.10" stroke="#c1304c" stroke-width="1" />
<line x1="502.20" y1="472.38" x2="506.60" y2="472.38" stroke="#c1304c" stroke-width="1" />
<line x1="502.20" y1="478.10" x2="506.60" y2="478.10" stroke="#c1304c" stroke-width="1" />
<rect x="499.20" y="474.90" width="10.40" height="2.63" fill="#fff" stroke="#c1304c" stroke-width="1.05" />
<line x1="499.20" y1="476.39" x2="509.60" y2="476.39" stroke="#c1304c" stroke-width="1.05" />
<path d="M429.4,415 L429.4,413 L444.6,413 L444.6,415" stroke="#1a1a1a" stroke-width="1" fill="none" />
<text x="437.00" y="412.50" font-size="9.5" text-anchor="middle" fill="#231f20" font-weight="normal" >*</text>
<text x="0" y="0" font-size="8.7" text-anchor="middle" fill="#231f20" transform="translate(387 443.2) rotate(-90)">CD235&#945;<tspan font-size="5.6" dy="-3.2">+</tspan></text>
<text x="0" y="0" font-size="8.8" text-anchor="middle" fill="#231f20" transform="translate(399.80 441.80) rotate(-90)" textLength="53.8" lengthAdjust="spacingAndGlyphs">population (%)</text>
<circle cx="95.00" cy="458.30" r="1.60" fill="#fff" stroke="#3b5a9a" stroke-width="1.0" />
<text x="100.50" y="461.50" font-size="9" text-anchor="start" fill="#231f20" font-weight="normal" textLength="29.5" lengthAdjust="spacingAndGlyphs" >Control</text>
<circle cx="142.00" cy="458.30" r="1.60" fill="#fff" stroke="#c1304c" stroke-width="1.0" />
<text x="146.30" y="461.50" font-size="9" text-anchor="start" fill="#231f20" font-weight="normal" textLength="27.5" lengthAdjust="spacingAndGlyphs" >D816V</text>
<rect x="59.10" y="522.66" width="5.60" height="4.83" fill="#ebebeb" stroke="#d2d2d2" stroke-width="0.5" />
<line x1="61.90" y1="522.66" x2="61.90" y2="519.76" stroke="#b5b5b5" stroke-width="0.7" />
<line x1="60.70" y1="519.76" x2="63.10" y2="519.76" stroke="#b5b5b5" stroke-width="0.7" />
<rect x="66.60" y="513.96" width="5.60" height="13.54" fill="#ebebeb" stroke="#d2d2d2" stroke-width="0.5" />
<line x1="69.40" y1="513.96" x2="69.40" y2="511.54" stroke="#b5b5b5" stroke-width="0.7" />
<line x1="68.20" y1="511.54" x2="70.60" y2="511.54" stroke="#b5b5b5" stroke-width="0.7" />
<rect x="78.45" y="496.56" width="5.60" height="30.94" fill="#ebebeb" stroke="#d2d2d2" stroke-width="0.5" />
<line x1="81.25" y1="496.56" x2="81.25" y2="483.02" stroke="#b5b5b5" stroke-width="0.7" />
<line x1="80.05" y1="483.02" x2="82.45" y2="483.02" stroke="#b5b5b5" stroke-width="0.7" />
<rect x="86.20" y="494.62" width="5.60" height="32.88" fill="#ebebeb" stroke="#d2d2d2" stroke-width="0.5" />
<line x1="89.00" y1="494.62" x2="89.00" y2="481.08" stroke="#b5b5b5" stroke-width="0.7" />
<line x1="87.80" y1="481.08" x2="90.20" y2="481.08" stroke="#b5b5b5" stroke-width="0.7" />
<rect x="98.20" y="513.00" width="5.60" height="14.50" fill="#ebebeb" stroke="#d2d2d2" stroke-width="0.5" />
<line x1="101.00" y1="513.00" x2="101.00" y2="506.23" stroke="#b5b5b5" stroke-width="0.7" />
<line x1="99.80" y1="506.23" x2="102.20" y2="506.23" stroke="#b5b5b5" stroke-width="0.7" />
<rect x="105.30" y="510.09" width="5.60" height="17.41" fill="#ebebeb" stroke="#d2d2d2" stroke-width="0.5" />
<line x1="108.10" y1="510.09" x2="108.10" y2="498.49" stroke="#b5b5b5" stroke-width="0.7" />
<line x1="106.90" y1="498.49" x2="109.30" y2="498.49" stroke="#b5b5b5" stroke-width="0.7" />
<rect x="117.70" y="525.57" width="5.60" height="1.93" fill="#ebebeb" stroke="#d2d2d2" stroke-width="0.5" />
<line x1="120.50" y1="525.57" x2="120.50" y2="524.60" stroke="#b5b5b5" stroke-width="0.7" />
<line x1="119.30" y1="524.60" x2="121.70" y2="524.60" stroke="#b5b5b5" stroke-width="0.7" />
<rect x="125.10" y="525.57" width="5.60" height="1.93" fill="#ebebeb" stroke="#d2d2d2" stroke-width="0.5" />
<line x1="127.90" y1="525.57" x2="127.90" y2="524.12" stroke="#b5b5b5" stroke-width="0.7" />
<line x1="126.70" y1="524.12" x2="129.10" y2="524.12" stroke="#b5b5b5" stroke-width="0.7" />
<rect x="137.10" y="526.53" width="5.60" height="0.97" fill="#ebebeb" stroke="#d2d2d2" stroke-width="0.5" />
<line x1="139.90" y1="526.53" x2="139.90" y2="525.57" stroke="#b5b5b5" stroke-width="0.7" />
<line x1="138.70" y1="525.57" x2="141.10" y2="525.57" stroke="#b5b5b5" stroke-width="0.7" />
<rect x="144.60" y="524.60" width="5.60" height="2.90" fill="#ebebeb" stroke="#d2d2d2" stroke-width="0.5" />
<line x1="147.40" y1="524.60" x2="147.40" y2="522.18" stroke="#b5b5b5" stroke-width="0.7" />
<line x1="146.20" y1="522.18" x2="148.60" y2="522.18" stroke="#b5b5b5" stroke-width="0.7" />
<rect x="164.80" y="526.53" width="5.60" height="0.97" fill="#ebebeb" stroke="#d2d2d2" stroke-width="0.5" />
<line x1="167.60" y1="526.53" x2="167.60" y2="525.57" stroke="#b5b5b5" stroke-width="0.7" />
<line x1="166.40" y1="525.57" x2="168.80" y2="525.57" stroke="#b5b5b5" stroke-width="0.7" />
<line x1="57.50" y1="468.30" x2="57.50" y2="528.10" stroke="#1a1a1a" stroke-width="1.2" />
<line x1="56.90" y1="527.50" x2="172.50" y2="527.50" stroke="#1a1a1a" stroke-width="1.2" />
<line x1="54.00" y1="527.50" x2="57.50" y2="527.50" stroke="#1a1a1a" stroke-width="1" />
<text x="52.50" y="530.40" font-size="8" text-anchor="end" fill="#231f20" font-weight="normal" >0</text>
<line x1="54.00" y1="508.16" x2="57.50" y2="508.16" stroke="#1a1a1a" stroke-width="1" />
<text x="52.50" y="511.06" font-size="8" text-anchor="end" fill="#231f20" font-weight="normal" >20</text>
<line x1="54.00" y1="488.82" x2="57.50" y2="488.82" stroke="#1a1a1a" stroke-width="1" />
<text x="52.50" y="491.72" font-size="8" text-anchor="end" fill="#231f20" font-weight="normal" >40</text>
<line x1="54.00" y1="469.48" x2="57.50" y2="469.48" stroke="#1a1a1a" stroke-width="1" />
<text x="52.50" y="472.38" font-size="8" text-anchor="end" fill="#231f20" font-weight="normal" >60</text>
<line x1="61.90" y1="527.50" x2="61.90" y2="530.00" stroke="#1a1a1a" stroke-width="1" />
<line x1="69.40" y1="527.50" x2="69.40" y2="530.00" stroke="#1a1a1a" stroke-width="1" />
<line x1="81.25" y1="527.50" x2="81.25" y2="530.00" stroke="#1a1a1a" stroke-width="1" />
<line x1="89.00" y1="527.50" x2="89.00" y2="530.00" stroke="#1a1a1a" stroke-width="1" />
<line x1="101.00" y1="527.50" x2="101.00" y2="530.00" stroke="#1a1a1a" stroke-width="1" />
<line x1="108.10" y1="527.50" x2="108.10" y2="530.00" stroke="#1a1a1a" stroke-width="1" />
<line x1="120.50" y1="527.50" x2="120.50" y2="530.00" stroke="#1a1a1a" stroke-width="1" />
<line x1="127.90" y1="527.50" x2="127.90" y2="530.00" stroke="#1a1a1a" stroke-width="1" />
<line x1="139.90" y1="527.50" x2="139.90" y2="530.00" stroke="#1a1a1a" stroke-width="1" />
<line x1="147.40" y1="527.50" x2="147.40" y2="530.00" stroke="#1a1a1a" stroke-width="1" />
<line x1="160.00" y1="527.50" x2="160.00" y2="530.00" stroke="#1a1a1a" stroke-width="1" />
<line x1="167.60" y1="527.50" x2="167.60" y2="530.00" stroke="#1a1a1a" stroke-width="1" />
<circle cx="61.90" cy="517.35" r="1.90" fill="#fff" stroke="#3b5a9a" stroke-width="1.05" />
<circle cx="61.90" cy="521.21" r="1.90" fill="#fff" stroke="#3b5a9a" stroke-width="1.05" />
<circle cx="61.90" cy="522.96" r="1.90" fill="#fff" stroke="#3b5a9a" stroke-width="1.05" />
<circle cx="69.40" cy="510.09" r="1.90" fill="#fff" stroke="#c1304c" stroke-width="1.05" />
<circle cx="69.40" cy="512.51" r="1.90" fill="#fff" stroke="#c1304c" stroke-width="1.05" />
<circle cx="69.40" cy="514.45" r="1.90" fill="#fff" stroke="#c1304c" stroke-width="1.05" />
<circle cx="69.40" cy="515.90" r="1.90" fill="#fff" stroke="#c1304c" stroke-width="1.05" />
<circle cx="81.25" cy="479.15" r="1.90" fill="#fff" stroke="#3b5a9a" stroke-width="1.05" />
<circle cx="81.25" cy="493.65" r="1.90" fill="#fff" stroke="#3b5a9a" stroke-width="1.05" />
<circle cx="80.25" cy="507.19" r="1.90" fill="#fff" stroke="#3b5a9a" stroke-width="1.05" />
<circle cx="83.75" cy="503.32" r="1.90" fill="#fff" stroke="#3b5a9a" stroke-width="1.05" />
<circle cx="89.00" cy="473.35" r="1.90" fill="#fff" stroke="#c1304c" stroke-width="1.05" />
<circle cx="89.00" cy="483.02" r="1.90" fill="#fff" stroke="#c1304c" stroke-width="1.05" />
<circle cx="89.00" cy="496.56" r="1.90" fill="#fff" stroke="#c1304c" stroke-width="1.05" />
<circle cx="89.00" cy="502.36" r="1.90" fill="#fff" stroke="#c1304c" stroke-width="1.05" />
<circle cx="88.00" cy="508.16" r="1.90" fill="#fff" stroke="#c1304c" stroke-width="1.05" />
<circle cx="91.50" cy="504.29" r="1.90" fill="#fff" stroke="#c1304c" stroke-width="1.05" />
<circle cx="101.00" cy="504.29" r="1.90" fill="#fff" stroke="#3b5a9a" stroke-width="1.05" />
<circle cx="101.00" cy="509.13" r="1.90" fill="#fff" stroke="#3b5a9a" stroke-width="1.05" />
<circle cx="100.00" cy="518.80" r="1.90" fill="#fff" stroke="#3b5a9a" stroke-width="1.05" />
<circle cx="103.50" cy="517.83" r="1.90" fill="#fff" stroke="#3b5a9a" stroke-width="1.05" />
<circle cx="108.10" cy="489.79" r="1.90" fill="#fff" stroke="#c1304c" stroke-width="1.05" />
<circle cx="108.10" cy="494.62" r="1.90" fill="#fff" stroke="#c1304c" stroke-width="1.05" />
<circle cx="108.10" cy="508.16" r="1.90" fill="#fff" stroke="#c1304c" stroke-width="1.05" />
<circle cx="108.10" cy="513.96" r="1.90" fill="#fff" stroke="#c1304c" stroke-width="1.05" />
<circle cx="108.10" cy="516.86" r="1.90" fill="#fff" stroke="#c1304c" stroke-width="1.05" />
<circle cx="108.10" cy="518.80" r="1.90" fill="#fff" stroke="#c1304c" stroke-width="1.05" />
<circle cx="118.50" cy="525.57" r="1.90" fill="#fff" stroke="#3b5a9a" stroke-width="1.05" />
<circle cx="122.00" cy="524.60" r="1.90" fill="#fff" stroke="#3b5a9a" stroke-width="1.05" />
<circle cx="120.50" cy="526.05" r="1.90" fill="#fff" stroke="#3b5a9a" stroke-width="1.05" />
<circle cx="126.40" cy="524.60" r="1.90" fill="#fff" stroke="#c1304c" stroke-width="1.05" />
<circle cx="129.70" cy="525.57" r="1.90" fill="#fff" stroke="#c1304c" stroke-width="1.05" />
<circle cx="127.90" cy="526.53" r="1.90" fill="#fff" stroke="#c1304c" stroke-width="1.05" />
<circle cx="128.40" cy="523.63" r="1.90" fill="#fff" stroke="#c1304c" stroke-width="1.05" />
<circle cx="137.90" cy="526.53" r="1.90" fill="#fff" stroke="#3b5a9a" stroke-width="1.05" />
<circle cx="141.40" cy="525.57" r="1.90" fill="#fff" stroke="#3b5a9a" stroke-width="1.05" />
<circle cx="139.90" cy="527.02" r="1.90" fill="#fff" stroke="#3b5a9a" stroke-width="1.05" />
<circle cx="147.40" cy="520.73" r="1.90" fill="#fff" stroke="#c1304c" stroke-width="1.05" />
<circle cx="149.90" cy="521.70" r="1.90" fill="#fff" stroke="#c1304c" stroke-width="1.05" />
<circle cx="145.90" cy="525.57" r="1.90" fill="#fff" stroke="#c1304c" stroke-width="1.05" />
<circle cx="148.40" cy="526.53" r="1.90" fill="#fff" stroke="#c1304c" stroke-width="1.05" />
<circle cx="147.40" cy="524.60" r="1.90" fill="#fff" stroke="#c1304c" stroke-width="1.05" />
<circle cx="165.60" cy="526.53" r="1.90" fill="#fff" stroke="#c1304c" stroke-width="1.05" />
<circle cx="169.10" cy="525.57" r="1.90" fill="#fff" stroke="#c1304c" stroke-width="1.05" />
<circle cx="167.60" cy="527.02" r="1.90" fill="#fff" stroke="#c1304c" stroke-width="1.05" />
<circle cx="170.10" cy="526.05" r="1.90" fill="#fff" stroke="#c1304c" stroke-width="1.05" />
<text x="0" y="0" font-size="8.6" text-anchor="end" fill="#231f20" transform="translate(70.30 537.60) rotate(-45)">G</text>
<text x="0" y="0" font-size="8.6" text-anchor="end" fill="#231f20" transform="translate(90.30 537.60) rotate(-45)">M</text>
<text x="0" y="0" font-size="8.6" text-anchor="end" fill="#231f20" transform="translate(110.30 537.60) rotate(-45)">GM</text>
<text x="0" y="0" font-size="8.6" text-anchor="end" fill="#231f20" transform="translate(129.30 537.60) rotate(-45)">E</text>
<text x="0" y="0" font-size="8.6" text-anchor="end" fill="#231f20" transform="translate(148.80 537.60) rotate(-45)">GEMM</text>
<text x="0" y="0" font-size="8.6" text-anchor="end" fill="#231f20" transform="translate(168.80 537.60) rotate(-45)">BFU</text>
<text x="124.50" y="491.80" font-size="8.8" text-anchor="start" fill="#231f20" font-weight="normal" textLength="32.5" lengthAdjust="spacingAndGlyphs" >Patient 1</text>
<line x1="61.90" y1="503.10" x2="69.40" y2="503.10" stroke="#1a1a1a" stroke-width="1" />
<line x1="61.90" y1="503.10" x2="61.90" y2="505.00" stroke="#1a1a1a" stroke-width="1" />
<line x1="69.40" y1="503.10" x2="69.40" y2="505.00" stroke="#1a1a1a" stroke-width="1" />
<text x="65.60" y="502.40" font-size="8" text-anchor="middle" fill="#231f20" font-weight="normal" >*</text>
<rect x="60.00" y="626.00" width="5.60" height="19.30" fill="#ebebeb" stroke="#d2d2d2" stroke-width="0.5" />
<line x1="62.80" y1="626.00" x2="62.80" y2="617.51" stroke="#b5b5b5" stroke-width="0.7" />
<line x1="61.60" y1="617.51" x2="64.00" y2="617.51" stroke="#b5b5b5" stroke-width="0.7" />
<rect x="68.70" y="619.05" width="5.60" height="26.25" fill="#ebebeb" stroke="#d2d2d2" stroke-width="0.5" />
<line x1="71.50" y1="619.05" x2="71.50" y2="609.40" stroke="#b5b5b5" stroke-width="0.7" />
<line x1="70.30" y1="609.40" x2="72.70" y2="609.40" stroke="#b5b5b5" stroke-width="0.7" />
<rect x="83.50" y="641.83" width="5.60" height="3.47" fill="#ebebeb" stroke="#d2d2d2" stroke-width="0.5" />
<line x1="86.30" y1="641.83" x2="86.30" y2="641.05" stroke="#b5b5b5" stroke-width="0.7" />
<line x1="85.10" y1="641.05" x2="87.50" y2="641.05" stroke="#b5b5b5" stroke-width="0.7" />
<rect x="93.00" y="637.58" width="5.60" height="7.72" fill="#ebebeb" stroke="#d2d2d2" stroke-width="0.5" />
<line x1="95.80" y1="637.58" x2="95.80" y2="630.63" stroke="#b5b5b5" stroke-width="0.7" />
<line x1="94.60" y1="630.63" x2="97.00" y2="630.63" stroke="#b5b5b5" stroke-width="0.7" />
<rect x="107.80" y="642.21" width="5.60" height="3.09" fill="#ebebeb" stroke="#d2d2d2" stroke-width="0.5" />
<line x1="110.60" y1="642.21" x2="110.60" y2="641.44" stroke="#b5b5b5" stroke-width="0.7" />
<line x1="109.40" y1="641.44" x2="111.80" y2="641.44" stroke="#b5b5b5" stroke-width="0.7" />
<rect x="116.80" y="642.21" width="5.60" height="3.09" fill="#ebebeb" stroke="#d2d2d2" stroke-width="0.5" />
<line x1="119.60" y1="642.21" x2="119.60" y2="640.28" stroke="#b5b5b5" stroke-width="0.7" />
<line x1="118.40" y1="640.28" x2="120.80" y2="640.28" stroke="#b5b5b5" stroke-width="0.7" />
<rect x="140.45" y="645.11" width="5.60" height="0.19" fill="#ebebeb" stroke="#d2d2d2" stroke-width="0.5" />
<rect x="155.60" y="626.00" width="5.60" height="19.30" fill="#ebebeb" stroke="#d2d2d2" stroke-width="0.5" />
<line x1="158.40" y1="626.00" x2="158.40" y2="624.07" stroke="#b5b5b5" stroke-width="0.7" />
<line x1="157.20" y1="624.07" x2="159.60" y2="624.07" stroke="#b5b5b5" stroke-width="0.7" />
<line x1="56.70" y1="585.40" x2="56.70" y2="645.90" stroke="#1a1a1a" stroke-width="1.2" />
<line x1="56.10" y1="645.30" x2="173.30" y2="645.30" stroke="#1a1a1a" stroke-width="1.2" />
<line x1="53.20" y1="645.30" x2="56.70" y2="645.30" stroke="#1a1a1a" stroke-width="1" />
<text x="51.70" y="648.20" font-size="8" text-anchor="end" fill="#231f20" font-weight="normal" >0</text>
<line x1="53.20" y1="626.00" x2="56.70" y2="626.00" stroke="#1a1a1a" stroke-width="1" />
<text x="51.70" y="628.90" font-size="8" text-anchor="end" fill="#231f20" font-weight="normal" >50</text>
<line x1="53.20" y1="606.70" x2="56.70" y2="606.70" stroke="#1a1a1a" stroke-width="1" />
<text x="51.70" y="609.60" font-size="8" text-anchor="end" fill="#231f20" font-weight="normal" >100</text>
<line x1="53.20" y1="587.40" x2="56.70" y2="587.40" stroke="#1a1a1a" stroke-width="1" />
<text x="51.70" y="590.30" font-size="8" text-anchor="end" fill="#231f20" font-weight="normal" >150</text>
<line x1="62.80" y1="645.30" x2="62.80" y2="647.80" stroke="#1a1a1a" stroke-width="1" />
<line x1="71.50" y1="645.30" x2="71.50" y2="647.80" stroke="#1a1a1a" stroke-width="1" />
<line x1="86.30" y1="645.30" x2="86.30" y2="647.80" stroke="#1a1a1a" stroke-width="1" />
<line x1="95.80" y1="645.30" x2="95.80" y2="647.80" stroke="#1a1a1a" stroke-width="1" />
<line x1="110.60" y1="645.30" x2="110.60" y2="647.80" stroke="#1a1a1a" stroke-width="1" />
<line x1="119.60" y1="645.30" x2="119.60" y2="647.80" stroke="#1a1a1a" stroke-width="1" />
<line x1="134.30" y1="645.30" x2="134.30" y2="647.80" stroke="#1a1a1a" stroke-width="1" />
<line x1="143.25" y1="645.30" x2="143.25" y2="647.80" stroke="#1a1a1a" stroke-width="1" />
<line x1="158.40" y1="645.30" x2="158.40" y2="647.80" stroke="#1a1a1a" stroke-width="1" />
<line x1="167.50" y1="645.30" x2="167.50" y2="647.80" stroke="#1a1a1a" stroke-width="1" />
<circle cx="62.80" cy="617.51" r="1.90" fill="#fff" stroke="#3b5a9a" stroke-width="1.05" />
<circle cx="62.80" cy="635.26" r="1.90" fill="#fff" stroke="#3b5a9a" stroke-width="1.05" />
<circle cx="71.80" cy="598.98" r="1.90" fill="#fff" stroke="#c1304c" stroke-width="1.05" />
<circle cx="71.50" cy="612.49" r="1.90" fill="#fff" stroke="#c1304c" stroke-width="1.05" />
<circle cx="72.50" cy="616.35" r="1.90" fill="#fff" stroke="#c1304c" stroke-width="1.05" />
<circle cx="71.00" cy="618.28" r="1.90" fill="#fff" stroke="#c1304c" stroke-width="1.05" />
<circle cx="71.50" cy="619.44" r="1.90" fill="#fff" stroke="#c1304c" stroke-width="1.05" />
<circle cx="70.00" cy="626.77" r="1.90" fill="#fff" stroke="#c1304c" stroke-width="1.05" />
<circle cx="74.00" cy="626.00" r="1.90" fill="#fff" stroke="#c1304c" stroke-width="1.05" />
<circle cx="71.00" cy="629.86" r="1.90" fill="#fff" stroke="#c1304c" stroke-width="1.05" />
<circle cx="84.80" cy="642.21" r="1.90" fill="#fff" stroke="#3b5a9a" stroke-width="1.05" />
<circle cx="88.80" cy="641.44" r="1.90" fill="#fff" stroke="#3b5a9a" stroke-width="1.05" />
<circle cx="93.60" cy="627.93" r="1.90" fill="#fff" stroke="#c1304c" stroke-width="1.05" />
<circle cx="98.00" cy="624.07" r="1.90" fill="#fff" stroke="#c1304c" stroke-width="1.05" />
<circle cx="95.50" cy="636.04" r="1.90" fill="#fff" stroke="#c1304c" stroke-width="1.05" />
<circle cx="95.80" cy="639.90" r="1.90" fill="#fff" stroke="#c1304c" stroke-width="1.05" />
<circle cx="94.20" cy="643.37" r="1.90" fill="#fff" stroke="#c1304c" stroke-width="1.05" />
<circle cx="97.50" cy="643.37" r="1.90" fill="#fff" stroke="#c1304c" stroke-width="1.05" />
<circle cx="93.00" cy="644.53" r="1.90" fill="#fff" stroke="#c1304c" stroke-width="1.05" />
<circle cx="108.80" cy="642.60" r="1.90" fill="#fff" stroke="#3b5a9a" stroke-width="1.05" />
<circle cx="112.50" cy="641.83" r="1.90" fill="#fff" stroke="#3b5a9a" stroke-width="1.05" />
<circle cx="119.60" cy="640.67" r="1.90" fill="#fff" stroke="#c1304c" stroke-width="1.05" />
<circle cx="119.90" cy="642.21" r="1.90" fill="#fff" stroke="#c1304c" stroke-width="1.05" />
<circle cx="119.10" cy="643.76" r="1.90" fill="#fff" stroke="#c1304c" stroke-width="1.05" />
<circle cx="120.40" cy="644.91" r="1.90" fill="#fff" stroke="#c1304c" stroke-width="1.05" />
<circle cx="143.25" cy="645.30" r="1.90" fill="#fff" stroke="#c1304c" stroke-width="1.05" />
<circle cx="157.00" cy="626.77" r="1.90" fill="#fff" stroke="#3b5a9a" stroke-width="1.05" />
<circle cx="160.80" cy="624.07" r="1.90" fill="#fff" stroke="#3b5a9a" stroke-width="1.05" />
<text x="0" y="0" font-size="8.6" text-anchor="end" fill="#231f20" transform="translate(72.80 655.60) rotate(-45)">G</text>
<text x="0" y="0" font-size="8.6" text-anchor="end" fill="#231f20" transform="translate(96.80 655.60) rotate(-45)">M</text>
<text x="0" y="0" font-size="8.6" text-anchor="end" fill="#231f20" transform="translate(120.80 655.60) rotate(-45)">GM</text>
<text x="0" y="0" font-size="8.6" text-anchor="end" fill="#231f20" transform="translate(144.80 655.60) rotate(-45)">E</text>
<text x="0" y="0" font-size="8.6" text-anchor="end" fill="#231f20" transform="translate(168.80 655.60) rotate(-45)">sM</text>
<text x="124.50" y="606.60" font-size="8.8" text-anchor="start" fill="#231f20" font-weight="normal" textLength="32.5" lengthAdjust="spacingAndGlyphs" >Patient 2</text>
<rect x="59.00" y="735.63" width="5.60" height="4.37" fill="#ebebeb" stroke="#d2d2d2" stroke-width="0.5" />
<line x1="61.80" y1="735.63" x2="61.80" y2="732.71" stroke="#b5b5b5" stroke-width="0.7" />
<line x1="60.60" y1="732.71" x2="63.00" y2="732.71" stroke="#b5b5b5" stroke-width="0.7" />
<rect x="66.70" y="738.54" width="5.60" height="1.46" fill="#ebebeb" stroke="#d2d2d2" stroke-width="0.5" />
<line x1="69.50" y1="738.54" x2="69.50" y2="737.09" stroke="#b5b5b5" stroke-width="0.7" />
<line x1="68.30" y1="737.09" x2="70.70" y2="737.09" stroke="#b5b5b5" stroke-width="0.7" />
<rect x="78.80" y="699.92" width="5.60" height="40.08" fill="#ebebeb" stroke="#d2d2d2" stroke-width="0.5" />
<line x1="81.60" y1="699.92" x2="81.60" y2="688.26" stroke="#b5b5b5" stroke-width="0.7" />
<line x1="80.40" y1="688.26" x2="82.80" y2="688.26" stroke="#b5b5b5" stroke-width="0.7" />
<rect x="86.50" y="702.11" width="5.60" height="37.90" fill="#ebebeb" stroke="#d2d2d2" stroke-width="0.5" />
<line x1="89.30" y1="702.11" x2="89.30" y2="697.73" stroke="#b5b5b5" stroke-width="0.7" />
<line x1="88.10" y1="697.73" x2="90.50" y2="697.73" stroke="#b5b5b5" stroke-width="0.7" />
<rect x="98.30" y="737.09" width="5.60" height="2.92" fill="#ebebeb" stroke="#d2d2d2" stroke-width="0.5" />
<line x1="101.10" y1="737.09" x2="101.10" y2="735.63" stroke="#b5b5b5" stroke-width="0.7" />
<line x1="99.90" y1="735.63" x2="102.30" y2="735.63" stroke="#b5b5b5" stroke-width="0.7" />
<rect x="105.70" y="733.44" width="5.60" height="6.56" fill="#ebebeb" stroke="#d2d2d2" stroke-width="0.5" />
<line x1="108.50" y1="733.44" x2="108.50" y2="729.07" stroke="#b5b5b5" stroke-width="0.7" />
<line x1="107.30" y1="729.07" x2="109.70" y2="729.07" stroke="#b5b5b5" stroke-width="0.7" />
<rect x="117.70" y="738.54" width="5.60" height="1.46" fill="#ebebeb" stroke="#d2d2d2" stroke-width="0.5" />
<line x1="120.50" y1="738.54" x2="120.50" y2="737.09" stroke="#b5b5b5" stroke-width="0.7" />
<line x1="119.30" y1="737.09" x2="121.70" y2="737.09" stroke="#b5b5b5" stroke-width="0.7" />
<rect x="125.40" y="739.56" width="5.60" height="0.44" fill="#ebebeb" stroke="#d2d2d2" stroke-width="0.5" />
<rect x="144.90" y="739.27" width="5.60" height="0.73" fill="#ebebeb" stroke="#d2d2d2" stroke-width="0.5" />
<rect x="157.30" y="734.17" width="5.60" height="5.83" fill="#ebebeb" stroke="#d2d2d2" stroke-width="0.5" />
<line x1="160.10" y1="734.17" x2="160.10" y2="728.34" stroke="#b5b5b5" stroke-width="0.7" />
<line x1="158.90" y1="728.34" x2="161.30" y2="728.34" stroke="#b5b5b5" stroke-width="0.7" />
<line x1="57.00" y1="679.70" x2="57.00" y2="740.60" stroke="#1a1a1a" stroke-width="1.2" />
<line x1="56.40" y1="740.00" x2="173.30" y2="740.00" stroke="#1a1a1a" stroke-width="1.2" />
<line x1="53.50" y1="740.00" x2="57.00" y2="740.00" stroke="#1a1a1a" stroke-width="1" />
<text x="52.00" y="742.90" font-size="8" text-anchor="end" fill="#231f20" font-weight="normal" >0</text>
<line x1="53.50" y1="725.42" x2="57.00" y2="725.42" stroke="#1a1a1a" stroke-width="1" />
<text x="52.00" y="728.32" font-size="8" text-anchor="end" fill="#231f20" font-weight="normal" >10</text>
<line x1="53.50" y1="710.85" x2="57.00" y2="710.85" stroke="#1a1a1a" stroke-width="1" />
<text x="52.00" y="713.75" font-size="8" text-anchor="end" fill="#231f20" font-weight="normal" >20</text>
<line x1="53.50" y1="696.27" x2="57.00" y2="696.27" stroke="#1a1a1a" stroke-width="1" />
<text x="52.00" y="699.17" font-size="8" text-anchor="end" fill="#231f20" font-weight="normal" >30</text>
<line x1="53.50" y1="681.70" x2="57.00" y2="681.70" stroke="#1a1a1a" stroke-width="1" />
<text x="52.00" y="684.60" font-size="8" text-anchor="end" fill="#231f20" font-weight="normal" >40</text>
<line x1="61.80" y1="740.00" x2="61.80" y2="742.50" stroke="#1a1a1a" stroke-width="1" />
<line x1="69.50" y1="740.00" x2="69.50" y2="742.50" stroke="#1a1a1a" stroke-width="1" />
<line x1="81.60" y1="740.00" x2="81.60" y2="742.50" stroke="#1a1a1a" stroke-width="1" />
<line x1="89.30" y1="740.00" x2="89.30" y2="742.50" stroke="#1a1a1a" stroke-width="1" />
<line x1="101.10" y1="740.00" x2="101.10" y2="742.50" stroke="#1a1a1a" stroke-width="1" />
<line x1="108.50" y1="740.00" x2="108.50" y2="742.50" stroke="#1a1a1a" stroke-width="1" />
<line x1="120.50" y1="740.00" x2="120.50" y2="742.50" stroke="#1a1a1a" stroke-width="1" />
<line x1="128.20" y1="740.00" x2="128.20" y2="742.50" stroke="#1a1a1a" stroke-width="1" />
<line x1="140.30" y1="740.00" x2="140.30" y2="742.50" stroke="#1a1a1a" stroke-width="1" />
<line x1="147.70" y1="740.00" x2="147.70" y2="742.50" stroke="#1a1a1a" stroke-width="1" />
<line x1="160.10" y1="740.00" x2="160.10" y2="742.50" stroke="#1a1a1a" stroke-width="1" />
<line x1="167.90" y1="740.00" x2="167.90" y2="742.50" stroke="#1a1a1a" stroke-width="1" />
<circle cx="59.80" cy="731.25" r="1.90" fill="#fff" stroke="#3b5a9a" stroke-width="1.05" />
<circle cx="62.30" cy="735.63" r="1.90" fill="#fff" stroke="#3b5a9a" stroke-width="1.05" />
<circle cx="63.80" cy="734.17" r="1.90" fill="#fff" stroke="#3b5a9a" stroke-width="1.05" />
<circle cx="61.80" cy="737.09" r="1.90" fill="#fff" stroke="#3b5a9a" stroke-width="1.05" />
<circle cx="61.80" cy="740.00" r="1.90" fill="#fff" stroke="#3b5a9a" stroke-width="1.05" />
<circle cx="69.20" cy="737.09" r="1.90" fill="#fff" stroke="#c1304c" stroke-width="1.05" />
<circle cx="69.20" cy="739.27" r="1.90" fill="#fff" stroke="#c1304c" stroke-width="1.05" />
<circle cx="79.60" cy="687.53" r="1.90" fill="#fff" stroke="#3b5a9a" stroke-width="1.05" />
<circle cx="83.20" cy="688.99" r="1.90" fill="#fff" stroke="#3b5a9a" stroke-width="1.05" />
<circle cx="81.60" cy="703.56" r="1.90" fill="#fff" stroke="#3b5a9a" stroke-width="1.05" />
<circle cx="81.60" cy="707.93" r="1.90" fill="#fff" stroke="#3b5a9a" stroke-width="1.05" />
<circle cx="81.60" cy="714.49" r="1.90" fill="#fff" stroke="#3b5a9a" stroke-width="1.05" />
<circle cx="89.00" cy="696.27" r="1.90" fill="#fff" stroke="#c1304c" stroke-width="1.05" />
<circle cx="89.30" cy="697.73" r="1.90" fill="#fff" stroke="#c1304c" stroke-width="1.05" />
<circle cx="92.00" cy="700.65" r="1.90" fill="#fff" stroke="#c1304c" stroke-width="1.05" />
<circle cx="88.20" cy="705.02" r="1.90" fill="#fff" stroke="#c1304c" stroke-width="1.05" />
<circle cx="101.10" cy="736.36" r="1.90" fill="#fff" stroke="#3b5a9a" stroke-width="1.05" />
<circle cx="101.10" cy="737.81" r="1.90" fill="#fff" stroke="#3b5a9a" stroke-width="1.05" />
<circle cx="108.50" cy="727.61" r="1.90" fill="#fff" stroke="#c1304c" stroke-width="1.05" />
<circle cx="108.50" cy="731.25" r="1.90" fill="#fff" stroke="#c1304c" stroke-width="1.05" />
<circle cx="111.00" cy="735.63" r="1.90" fill="#fff" stroke="#c1304c" stroke-width="1.05" />
<circle cx="107.00" cy="738.54" r="1.90" fill="#fff" stroke="#c1304c" stroke-width="1.05" />
<circle cx="119.50" cy="737.09" r="1.90" fill="#fff" stroke="#3b5a9a" stroke-width="1.05" />
<circle cx="121.00" cy="738.54" r="1.90" fill="#fff" stroke="#3b5a9a" stroke-width="1.05" />
<circle cx="120.00" cy="739.27" r="1.90" fill="#fff" stroke="#3b5a9a" stroke-width="1.05" />
<circle cx="128.20" cy="739.56" r="1.90" fill="#fff" stroke="#c1304c" stroke-width="1.05" />
<circle cx="147.70" cy="739.27" r="1.90" fill="#fff" stroke="#c1304c" stroke-width="1.05" />
<circle cx="157.10" cy="727.61" r="1.90" fill="#fff" stroke="#3b5a9a" stroke-width="1.05" />
<circle cx="161.50" cy="729.07" r="1.90" fill="#fff" stroke="#3b5a9a" stroke-width="1.05" />
<circle cx="160.10" cy="735.63" r="1.90" fill="#fff" stroke="#3b5a9a" stroke-width="1.05" />
<circle cx="160.10" cy="739.27" r="1.90" fill="#fff" stroke="#3b5a9a" stroke-width="1.05" />
<text x="0" y="0" font-size="8.6" text-anchor="end" fill="#231f20" transform="translate(70.80 750.60) rotate(-45)">G</text>
<text x="0" y="0" font-size="8.6" text-anchor="end" fill="#231f20" transform="translate(90.30 750.60) rotate(-45)">M</text>
<text x="0" y="0" font-size="8.6" text-anchor="end" fill="#231f20" transform="translate(109.80 750.60) rotate(-45)">GM</text>
<text x="0" y="0" font-size="8.6" text-anchor="end" fill="#231f20" transform="translate(129.30 750.60) rotate(-45)">E</text>
<text x="0" y="0" font-size="8.6" text-anchor="end" fill="#231f20" transform="translate(149.30 750.60) rotate(-45)">BFU</text>
<text x="0" y="0" font-size="8.6" text-anchor="end" fill="#231f20" transform="translate(168.80 750.60) rotate(-45)">sM</text>
<text x="124.50" y="699.20" font-size="8.8" text-anchor="start" fill="#231f20" font-weight="normal" textLength="32.5" lengthAdjust="spacingAndGlyphs" >Patient 3</text>
<text x="0" y="0" font-size="8.6" text-anchor="middle" fill="#231f20" transform="translate(30.6 615) rotate(-90)" textLength="90" lengthAdjust="spacingAndGlyphs">Colony number/10<tspan font-size="5.6" dy="-3.2">4</tspan><tspan dy="3.2"> cells</tspan></text>
<rect x="237.70" y="500.80" width="11.60" height="11.59" fill="#ff6262" stroke="none" stroke-width="1" />
<rect x="248.70" y="500.80" width="11.60" height="11.59" fill="#ff3838" stroke="none" stroke-width="1" />
<rect x="259.70" y="500.80" width="11.60" height="11.59" fill="#ff7878" stroke="none" stroke-width="1" />
<rect x="270.70" y="500.80" width="11.60" height="11.59" fill="#ffa8a8" stroke="none" stroke-width="1" />
<rect x="281.70" y="500.80" width="11.60" height="11.59" fill="#a6abf5" stroke="none" stroke-width="1" />
<rect x="292.70" y="500.80" width="11.60" height="11.59" fill="#a6abf5" stroke="none" stroke-width="1" />
<rect x="303.70" y="500.80" width="11.60" height="11.59" fill="#a6abf5" stroke="none" stroke-width="1" />
<rect x="314.70" y="500.80" width="11.60" height="11.59" fill="#8f96f0" stroke="none" stroke-width="1" />
<rect x="325.70" y="500.80" width="11.60" height="11.59" fill="#9aa0f2" stroke="none" stroke-width="1" />
<rect x="336.70" y="500.80" width="11.00" height="11.59" fill="#9aa0f2" stroke="none" stroke-width="1" />
<rect x="237.70" y="511.79" width="11.60" height="11.59" fill="#ff0000" stroke="none" stroke-width="1" />
<rect x="248.70" y="511.79" width="11.60" height="11.59" fill="#ffdede" stroke="none" stroke-width="1" />
<rect x="259.70" y="511.79" width="11.60" height="11.59" fill="#ffcaca" stroke="none" stroke-width="1" />
<rect x="270.70" y="511.79" width="11.60" height="11.59" fill="#ffc8c8" stroke="none" stroke-width="1" />
<rect x="281.70" y="511.79" width="11.60" height="11.59" fill="#a8adf5" stroke="none" stroke-width="1" />
<rect x="292.70" y="511.79" width="11.60" height="11.59" fill="#a8adf5" stroke="none" stroke-width="1" />
<rect x="303.70" y="511.79" width="11.60" height="11.59" fill="#a8adf5" stroke="none" stroke-width="1" />
<rect x="314.70" y="511.79" width="11.60" height="11.59" fill="#a8adf5" stroke="none" stroke-width="1" />
<rect x="325.70" y="511.79" width="11.60" height="11.59" fill="#a8adf5" stroke="none" stroke-width="1" />
<rect x="336.70" y="511.79" width="11.00" height="11.59" fill="#a8adf5" stroke="none" stroke-width="1" />
<rect x="237.70" y="522.77" width="11.60" height="11.59" fill="#ffd5d5" stroke="none" stroke-width="1" />
<rect x="248.70" y="522.77" width="11.60" height="11.59" fill="#ffa0a0" stroke="none" stroke-width="1" />
<rect x="259.70" y="522.77" width="11.60" height="11.59" fill="#ffdede" stroke="none" stroke-width="1" />
<rect x="270.70" y="522.77" width="11.60" height="11.59" fill="#ff9898" stroke="none" stroke-width="1" />
<rect x="281.70" y="522.77" width="11.60" height="11.59" fill="#ffd3d0" stroke="none" stroke-width="1" />
<rect x="292.70" y="522.77" width="11.60" height="11.59" fill="#ffe0e0" stroke="none" stroke-width="1" />
<rect x="303.70" y="522.77" width="11.60" height="11.59" fill="#0010e0" stroke="none" stroke-width="1" />
<rect x="314.70" y="522.77" width="11.60" height="11.59" fill="#7880f0" stroke="none" stroke-width="1" />
<rect x="325.70" y="522.77" width="11.60" height="11.59" fill="#8088f0" stroke="none" stroke-width="1" />
<rect x="336.70" y="522.77" width="11.00" height="11.59" fill="#ff5555" stroke="none" stroke-width="1" />
<rect x="237.70" y="533.76" width="11.60" height="11.59" fill="#a5aaf5" stroke="none" stroke-width="1" />
<rect x="248.70" y="533.76" width="11.60" height="11.59" fill="#a5aaf5" stroke="none" stroke-width="1" />
<rect x="259.70" y="533.76" width="11.60" height="11.59" fill="#a5aaf5" stroke="none" stroke-width="1" />
<rect x="270.70" y="533.76" width="11.60" height="11.59" fill="#a5aaf5" stroke="none" stroke-width="1" />
<rect x="281.70" y="533.76" width="11.60" height="11.59" fill="#b0b5f7" stroke="none" stroke-width="1" />
<rect x="292.70" y="533.76" width="11.60" height="11.59" fill="#e2e4fc" stroke="none" stroke-width="1" />
<rect x="303.70" y="533.76" width="11.60" height="11.59" fill="#ff0000" stroke="none" stroke-width="1" />
<rect x="314.70" y="533.76" width="11.60" height="11.59" fill="#dcdffc" stroke="none" stroke-width="1" />
<rect x="325.70" y="533.76" width="11.60" height="11.59" fill="#ffc8c8" stroke="none" stroke-width="1" />
<rect x="336.70" y="533.76" width="11.00" height="11.59" fill="#ff8080" stroke="none" stroke-width="1" />
<rect x="237.70" y="544.74" width="11.60" height="11.59" fill="#a5aaf5" stroke="none" stroke-width="1" />
<rect x="248.70" y="544.74" width="11.60" height="11.59" fill="#a5aaf5" stroke="none" stroke-width="1" />
<rect x="259.70" y="544.74" width="11.60" height="11.59" fill="#a5aaf5" stroke="none" stroke-width="1" />
<rect x="270.70" y="544.74" width="11.60" height="11.59" fill="#a5aaf5" stroke="none" stroke-width="1" />
<rect x="281.70" y="544.74" width="11.60" height="11.59" fill="#a5aaf5" stroke="none" stroke-width="1" />
<rect x="292.70" y="544.74" width="11.60" height="11.59" fill="#a5aaf5" stroke="none" stroke-width="1" />
<rect x="303.70" y="544.74" width="11.60" height="11.59" fill="#ff0000" stroke="none" stroke-width="1" />
<rect x="314.70" y="544.74" width="11.60" height="11.59" fill="#ffb5b5" stroke="none" stroke-width="1" />
<rect x="325.70" y="544.74" width="11.60" height="11.59" fill="#ffd0d0" stroke="none" stroke-width="1" />
<rect x="336.70" y="544.74" width="11.00" height="11.59" fill="#ff8585" stroke="none" stroke-width="1" />
<rect x="237.70" y="555.73" width="11.60" height="11.59" fill="#a8adf5" stroke="none" stroke-width="1" />
<rect x="248.70" y="555.73" width="11.60" height="11.59" fill="#a8adf5" stroke="none" stroke-width="1" />
<rect x="259.70" y="555.73" width="11.60" height="11.59" fill="#a8adf5" stroke="none" stroke-width="1" />
<rect x="270.70" y="555.73" width="11.60" height="11.59" fill="#a8adf5" stroke="none" stroke-width="1" />
<rect x="281.70" y="555.73" width="11.60" height="11.59" fill="#a8adf5" stroke="none" stroke-width="1" />
<rect x="292.70" y="555.73" width="11.60" height="11.59" fill="#a8adf5" stroke="none" stroke-width="1" />
<rect x="303.70" y="555.73" width="11.60" height="11.59" fill="#d8dafb" stroke="none" stroke-width="1" />
<rect x="314.70" y="555.73" width="11.60" height="11.59" fill="#ff0000" stroke="none" stroke-width="1" />
<rect x="325.70" y="555.73" width="11.60" height="11.59" fill="#ff9a9a" stroke="none" stroke-width="1" />
<rect x="336.70" y="555.73" width="11.00" height="11.59" fill="#ff8585" stroke="none" stroke-width="1" />
<rect x="237.70" y="566.72" width="11.60" height="11.59" fill="#8a90ef" stroke="none" stroke-width="1" />
<rect x="248.70" y="566.72" width="11.60" height="11.59" fill="#8a90ef" stroke="none" stroke-width="1" />
<rect x="259.70" y="566.72" width="11.60" height="11.59" fill="#8a90ef" stroke="none" stroke-width="1" />
<rect x="270.70" y="566.72" width="11.60" height="11.59" fill="#8a90ef" stroke="none" stroke-width="1" />
<rect x="281.70" y="566.72" width="11.60" height="11.59" fill="#dcdefc" stroke="none" stroke-width="1" />
<rect x="292.70" y="566.72" width="11.60" height="11.59" fill="#ffffff" stroke="none" stroke-width="1" />
<rect x="303.70" y="566.72" width="11.60" height="11.59" fill="#fff0f0" stroke="none" stroke-width="1" />
<rect x="314.70" y="566.72" width="11.60" height="11.59" fill="#ffaaaa" stroke="none" stroke-width="1" />
<rect x="325.70" y="566.72" width="11.60" height="11.59" fill="#ff5a5a" stroke="none" stroke-width="1" />
<rect x="336.70" y="566.72" width="11.00" height="11.59" fill="#ff0000" stroke="none" stroke-width="1" />
<rect x="237.70" y="577.70" width="11.60" height="11.59" fill="#8a90ef" stroke="none" stroke-width="1" />
<rect x="248.70" y="577.70" width="11.60" height="11.59" fill="#8a90ef" stroke="none" stroke-width="1" />
<rect x="259.70" y="577.70" width="11.60" height="11.59" fill="#8a90ef" stroke="none" stroke-width="1" />
<rect x="270.70" y="577.70" width="11.60" height="11.59" fill="#8a90ef" stroke="none" stroke-width="1" />
<rect x="281.70" y="577.70" width="11.60" height="11.59" fill="#dcdefc" stroke="none" stroke-width="1" />
<rect x="292.70" y="577.70" width="11.60" height="11.59" fill="#e0e2fc" stroke="none" stroke-width="1" />
<rect x="303.70" y="577.70" width="11.60" height="11.59" fill="#ffdddd" stroke="none" stroke-width="1" />
<rect x="314.70" y="577.70" width="11.60" height="11.59" fill="#ff9090" stroke="none" stroke-width="1" />
<rect x="325.70" y="577.70" width="11.60" height="11.59" fill="#ff8080" stroke="none" stroke-width="1" />
<rect x="336.70" y="577.70" width="11.00" height="11.59" fill="#ff0000" stroke="none" stroke-width="1" />
<rect x="237.70" y="588.69" width="11.60" height="11.59" fill="#8a90ef" stroke="none" stroke-width="1" />
<rect x="248.70" y="588.69" width="11.60" height="11.59" fill="#8a90ef" stroke="none" stroke-width="1" />
<rect x="259.70" y="588.69" width="11.60" height="11.59" fill="#8a90ef" stroke="none" stroke-width="1" />
<rect x="270.70" y="588.69" width="11.60" height="11.59" fill="#8a90ef" stroke="none" stroke-width="1" />
<rect x="281.70" y="588.69" width="11.60" height="11.59" fill="#ffb0b0" stroke="none" stroke-width="1" />
<rect x="292.70" y="588.69" width="11.60" height="11.59" fill="#ff0000" stroke="none" stroke-width="1" />
<rect x="303.70" y="588.69" width="11.60" height="11.59" fill="#b5b8f8" stroke="none" stroke-width="1" />
<rect x="314.70" y="588.69" width="11.60" height="11.59" fill="#f8f8ff" stroke="none" stroke-width="1" />
<rect x="325.70" y="588.69" width="11.60" height="11.59" fill="#ff9a9a" stroke="none" stroke-width="1" />
<rect x="336.70" y="588.69" width="11.00" height="11.59" fill="#ff8888" stroke="none" stroke-width="1" />
<rect x="237.70" y="599.67" width="11.60" height="11.59" fill="#8a90ef" stroke="none" stroke-width="1" />
<rect x="248.70" y="599.67" width="11.60" height="11.59" fill="#8a90ef" stroke="none" stroke-width="1" />
<rect x="259.70" y="599.67" width="11.60" height="11.59" fill="#8a90ef" stroke="none" stroke-width="1" />
<rect x="270.70" y="599.67" width="11.60" height="11.59" fill="#8a90ef" stroke="none" stroke-width="1" />
<rect x="281.70" y="599.67" width="11.60" height="11.59" fill="#ffa5a5" stroke="none" stroke-width="1" />
<rect x="292.70" y="599.67" width="11.60" height="11.59" fill="#ff5050" stroke="none" stroke-width="1" />
<rect x="303.70" y="599.67" width="11.60" height="11.59" fill="#e5e6fc" stroke="none" stroke-width="1" />
<rect x="314.70" y="599.67" width="11.60" height="11.59" fill="#e5e6fc" stroke="none" stroke-width="1" />
<rect x="325.70" y="599.67" width="11.60" height="11.59" fill="#ffa0a0" stroke="none" stroke-width="1" />
<rect x="336.70" y="599.67" width="11.00" height="11.59" fill="#ff4040" stroke="none" stroke-width="1" />
<rect x="237.70" y="610.66" width="11.60" height="11.59" fill="#b0b4f7" stroke="none" stroke-width="1" />
<rect x="248.70" y="610.66" width="11.60" height="11.59" fill="#b0b4f7" stroke="none" stroke-width="1" />
<rect x="259.70" y="610.66" width="11.60" height="11.59" fill="#b0b4f7" stroke="none" stroke-width="1" />
<rect x="270.70" y="610.66" width="11.60" height="11.59" fill="#b0b4f7" stroke="none" stroke-width="1" />
<rect x="281.70" y="610.66" width="11.60" height="11.59" fill="#ffdede" stroke="none" stroke-width="1" />
<rect x="292.70" y="610.66" width="11.60" height="11.59" fill="#ff0000" stroke="none" stroke-width="1" />
<rect x="303.70" y="610.66" width="11.60" height="11.59" fill="#c8cbf9" stroke="none" stroke-width="1" />
<rect x="314.70" y="610.66" width="11.60" height="11.59" fill="#d8dafb" stroke="none" stroke-width="1" />
<rect x="325.70" y="610.66" width="11.60" height="11.59" fill="#f5f5ff" stroke="none" stroke-width="1" />
<rect x="336.70" y="610.66" width="11.00" height="11.59" fill="#fafaff" stroke="none" stroke-width="1" />
<rect x="237.70" y="621.65" width="11.60" height="11.59" fill="#a0a5f4" stroke="none" stroke-width="1" />
<rect x="248.70" y="621.65" width="11.60" height="11.59" fill="#a0a5f4" stroke="none" stroke-width="1" />
<rect x="259.70" y="621.65" width="11.60" height="11.59" fill="#a0a5f4" stroke="none" stroke-width="1" />
<rect x="270.70" y="621.65" width="11.60" height="11.59" fill="#a0a5f4" stroke="none" stroke-width="1" />
<rect x="281.70" y="621.65" width="11.60" height="11.59" fill="#ffa0a0" stroke="none" stroke-width="1" />
<rect x="292.70" y="621.65" width="11.60" height="11.59" fill="#ff0000" stroke="none" stroke-width="1" />
<rect x="303.70" y="621.65" width="11.60" height="11.59" fill="#c0c3f8" stroke="none" stroke-width="1" />
<rect x="314.70" y="621.65" width="11.60" height="11.59" fill="#dcdefc" stroke="none" stroke-width="1" />
<rect x="325.70" y="621.65" width="11.60" height="11.59" fill="#fff0f0" stroke="none" stroke-width="1" />
<rect x="336.70" y="621.65" width="11.00" height="11.59" fill="#ffc5c5" stroke="none" stroke-width="1" />
<rect x="237.70" y="632.63" width="11.60" height="11.59" fill="#8a90ef" stroke="none" stroke-width="1" />
<rect x="248.70" y="632.63" width="11.60" height="11.59" fill="#8a90ef" stroke="none" stroke-width="1" />
<rect x="259.70" y="632.63" width="11.60" height="11.59" fill="#a5aaf5" stroke="none" stroke-width="1" />
<rect x="270.70" y="632.63" width="11.60" height="11.59" fill="#b8bbf8" stroke="none" stroke-width="1" />
<rect x="281.70" y="632.63" width="11.60" height="11.59" fill="#ffc0c0" stroke="none" stroke-width="1" />
<rect x="292.70" y="632.63" width="11.60" height="11.59" fill="#ff0000" stroke="none" stroke-width="1" />
<rect x="303.70" y="632.63" width="11.60" height="11.59" fill="#9aa0f2" stroke="none" stroke-width="1" />
<rect x="314.70" y="632.63" width="11.60" height="11.59" fill="#ff8888" stroke="none" stroke-width="1" />
<rect x="325.70" y="632.63" width="11.60" height="11.59" fill="#fff0f0" stroke="none" stroke-width="1" />
<rect x="336.70" y="632.63" width="11.00" height="11.59" fill="#ffdede" stroke="none" stroke-width="1" />
<rect x="237.70" y="643.62" width="11.60" height="10.99" fill="#dcdefc" stroke="none" stroke-width="1" />
<rect x="248.70" y="643.62" width="11.60" height="10.99" fill="#6a70ec" stroke="none" stroke-width="1" />
<rect x="259.70" y="643.62" width="11.60" height="10.99" fill="#eeeefe" stroke="none" stroke-width="1" />
<rect x="270.70" y="643.62" width="11.60" height="10.99" fill="#ffb0b0" stroke="none" stroke-width="1" />
<rect x="281.70" y="643.62" width="11.60" height="10.99" fill="#c0c3f8" stroke="none" stroke-width="1" />
<rect x="292.70" y="643.62" width="11.60" height="10.99" fill="#dcdefc" stroke="none" stroke-width="1" />
<rect x="303.70" y="643.62" width="11.60" height="10.99" fill="#9aa0f2" stroke="none" stroke-width="1" />
<rect x="314.70" y="643.62" width="11.60" height="10.99" fill="#c8cbf9" stroke="none" stroke-width="1" />
<rect x="325.70" y="643.62" width="11.60" height="10.99" fill="#ff0000" stroke="none" stroke-width="1" />
<rect x="336.70" y="643.62" width="11.00" height="10.99" fill="#ffc5c5" stroke="none" stroke-width="1" />
<text x="351.20" y="510.29" font-size="8.4" text-anchor="start" fill="#231f20" font-weight="normal" >OCT4</text>
<text x="351.20" y="521.28" font-size="8.4" text-anchor="start" fill="#231f20" font-weight="normal" >NODAL</text>
<text x="351.20" y="532.26" font-size="8.4" text-anchor="start" fill="#231f20" font-weight="normal" >KIT</text>
<text x="351.20" y="543.25" font-size="8.4" text-anchor="start" fill="#231f20" font-weight="normal" >HBB</text>
<text x="351.20" y="554.24" font-size="8.4" text-anchor="start" fill="#231f20" font-weight="normal" >HBZ</text>
<text x="351.20" y="565.22" font-size="8.4" text-anchor="start" fill="#231f20" font-weight="normal" >HBE</text>
<text x="351.20" y="576.21" font-size="8.4" text-anchor="start" fill="#231f20" font-weight="normal" >SCL</text>
<text x="351.20" y="587.20" font-size="8.4" text-anchor="start" fill="#231f20" font-weight="normal" >GATA1</text>
<text x="351.20" y="598.18" font-size="8.4" text-anchor="start" fill="#231f20" font-weight="normal" >GATA2</text>
<text x="351.20" y="609.17" font-size="8.4" text-anchor="start" fill="#231f20" font-weight="normal" >RUNX1</text>
<text x="351.20" y="620.15" font-size="8.4" text-anchor="start" fill="#231f20" font-weight="normal" >CSF2RA</text>
<text x="351.20" y="631.14" font-size="8.4" text-anchor="start" fill="#231f20" font-weight="normal" >PU.1</text>
<text x="351.20" y="642.12" font-size="8.4" text-anchor="start" fill="#231f20" font-weight="normal" >ID2</text>
<text x="351.20" y="653.11" font-size="8.4" text-anchor="start" fill="#231f20" font-weight="normal" >T</text>
<text x="0" y="0" font-size="9" fill="#231f20" transform="translate(246.10 499.6) rotate(-90)" textLength="29" lengthAdjust="spacingAndGlyphs">Control</text>
<text x="0" y="0" font-size="9" fill="#231f20" transform="translate(257.10 499.6) rotate(-90)" textLength="26.6" lengthAdjust="spacingAndGlyphs">D816V</text>
<text x="0" y="0" font-size="9" fill="#231f20" transform="translate(268.10 499.6) rotate(-90)" textLength="26.6" lengthAdjust="spacingAndGlyphs">D816V</text>
<text x="0" y="0" font-size="9" fill="#231f20" transform="translate(279.10 499.6) rotate(-90)" textLength="26.6" lengthAdjust="spacingAndGlyphs">D816V</text>
<text x="0" y="0" font-size="9" fill="#231f20" transform="translate(290.10 499.6) rotate(-90)" textLength="29" lengthAdjust="spacingAndGlyphs">Control</text>
<text x="0" y="0" font-size="9" fill="#231f20" transform="translate(301.10 499.6) rotate(-90)" textLength="29" lengthAdjust="spacingAndGlyphs">Control</text>
<text x="0" y="0" font-size="9" fill="#231f20" transform="translate(312.10 499.6) rotate(-90)" textLength="26.6" lengthAdjust="spacingAndGlyphs">D816V</text>
<text x="0" y="0" font-size="9" fill="#231f20" transform="translate(323.10 499.6) rotate(-90)" textLength="26.6" lengthAdjust="spacingAndGlyphs">D816V</text>
<text x="0" y="0" font-size="9" fill="#231f20" transform="translate(334.10 499.6) rotate(-90)" textLength="26.6" lengthAdjust="spacingAndGlyphs">D816V</text>
<text x="0" y="0" font-size="9" fill="#231f20" transform="translate(345.10 499.6) rotate(-90)" textLength="26.6" lengthAdjust="spacingAndGlyphs">D816V</text>
<text x="249.50" y="461.50" font-size="8.6" text-anchor="start" fill="#231f20" font-weight="normal" textLength="18.2" lengthAdjust="spacingAndGlyphs" >iPSC</text>
<text x="305.00" y="461.50" font-size="8.6" text-anchor="start" fill="#231f20" font-weight="normal" textLength="17.3" lengthAdjust="spacingAndGlyphs" >HPC</text>
<line x1="239.20" y1="467.40" x2="277.70" y2="467.40" stroke="#1a1a1a" stroke-width="1.1" />
<line x1="283.80" y1="467.40" x2="343.50" y2="467.40" stroke="#1a1a1a" stroke-width="1.1" />
<path d="M237.7,506.293 H234.5 V517.279 H237.7" stroke="#3a3f9e" stroke-width="1.05" fill="none" />
<path d="M234.5,511.786 H229.3 V528.265 H237.7" stroke="#3a3f9e" stroke-width="1.05" fill="none" />
<path d="M237.7,539.251 H234.5 V550.237 H237.7" stroke="#3a3f9e" stroke-width="1.05" fill="none" />
<path d="M237.7,572.2090000000001 H234.5 V583.195 H237.7" stroke="#3a3f9e" stroke-width="1.05" fill="none" />
<path d="M237.7,561.223 H230.6 V577.702 H234.5" stroke="#3a3f9e" stroke-width="1.05" fill="none" />
<path d="M234.5,544.7439999999999 H226.5 V569.4625 H230.6" stroke="#3a3f9e" stroke-width="1.05" fill="none" />
<path d="M237.7,594.181 H234.5 V605.167 H237.7" stroke="#3a3f9e" stroke-width="1.05" fill="none" />
<path d="M237.7,616.153 H234.5 V627.139 H237.7" stroke="#3a3f9e" stroke-width="1.05" fill="none" />
<path d="M234.5,621.646 H231.3 V638.125 H237.7" stroke="#3a3f9e" stroke-width="1.05" fill="none" />
<path d="M234.5,599.674 H227.1 V629.8855 H231.3" stroke="#3a3f9e" stroke-width="1.05" fill="none" />
<path d="M226.5,557.1032499999999 H219.6 V614.7797499999999 H227.1" stroke="#3a3f9e" stroke-width="1.05" fill="none" />
<path d="M219.6,585.9414999999999 H212.5 V649.111 H237.7" stroke="#3a3f9e" stroke-width="1.05" fill="none" />
<path d="M229.3,520.0255 H201.7 V617.5262499999999 H212.5" stroke="#3a3f9e" stroke-width="1.05" fill="none" />
<path d="M265.2,654.6 V658.2 H276.2 V654.6" stroke="#3a3f9e" stroke-width="1.05" fill="none" />
<path d="M254.2,654.6 V661.5 H270.7 V658.2" stroke="#3a3f9e" stroke-width="1.05" fill="none" />
<path d="M243.2,654.6 V665.5 H262.45 V661.5" stroke="#3a3f9e" stroke-width="1.05" fill="none" />
<path d="M287.2,654.6 V658.2 H298.2 V654.6" stroke="#3a3f9e" stroke-width="1.05" fill="none" />
<path d="M331.2,654.6 V658.2 H342.2 V654.6" stroke="#3a3f9e" stroke-width="1.05" fill="none" />
<path d="M320.2,654.6 V663.3 H336.7 V658.2" stroke="#3a3f9e" stroke-width="1.05" fill="none" />
<path d="M309.2,654.6 V669.5 H328.45 V663.3" stroke="#3a3f9e" stroke-width="1.05" fill="none" />
<path d="M292.7,658.2 V678.8 H318.825 V669.5" stroke="#3a3f9e" stroke-width="1.05" fill="none" />
<path d="M252.825,665.5 V689.8 H305.7625 V678.8" stroke="#3a3f9e" stroke-width="1.05" fill="none" />
<rect x="396.70" y="518.30" width="7.30" height="79.40" fill="url(#cbar)" stroke="none" stroke-width="1" />
<text x="407.00" y="521.80" font-size="8.4" text-anchor="start" fill="#231f20" font-weight="normal" >2.0</text>
<text x="407.00" y="561.70" font-size="8.4" text-anchor="start" fill="#231f20" font-weight="normal" >0</text>
<text x="405.50" y="601.00" font-size="8.4" text-anchor="start" fill="#231f20" font-weight="normal" >-2.0</text>
</svg>
<div class="frame"></div>
</body></html>
